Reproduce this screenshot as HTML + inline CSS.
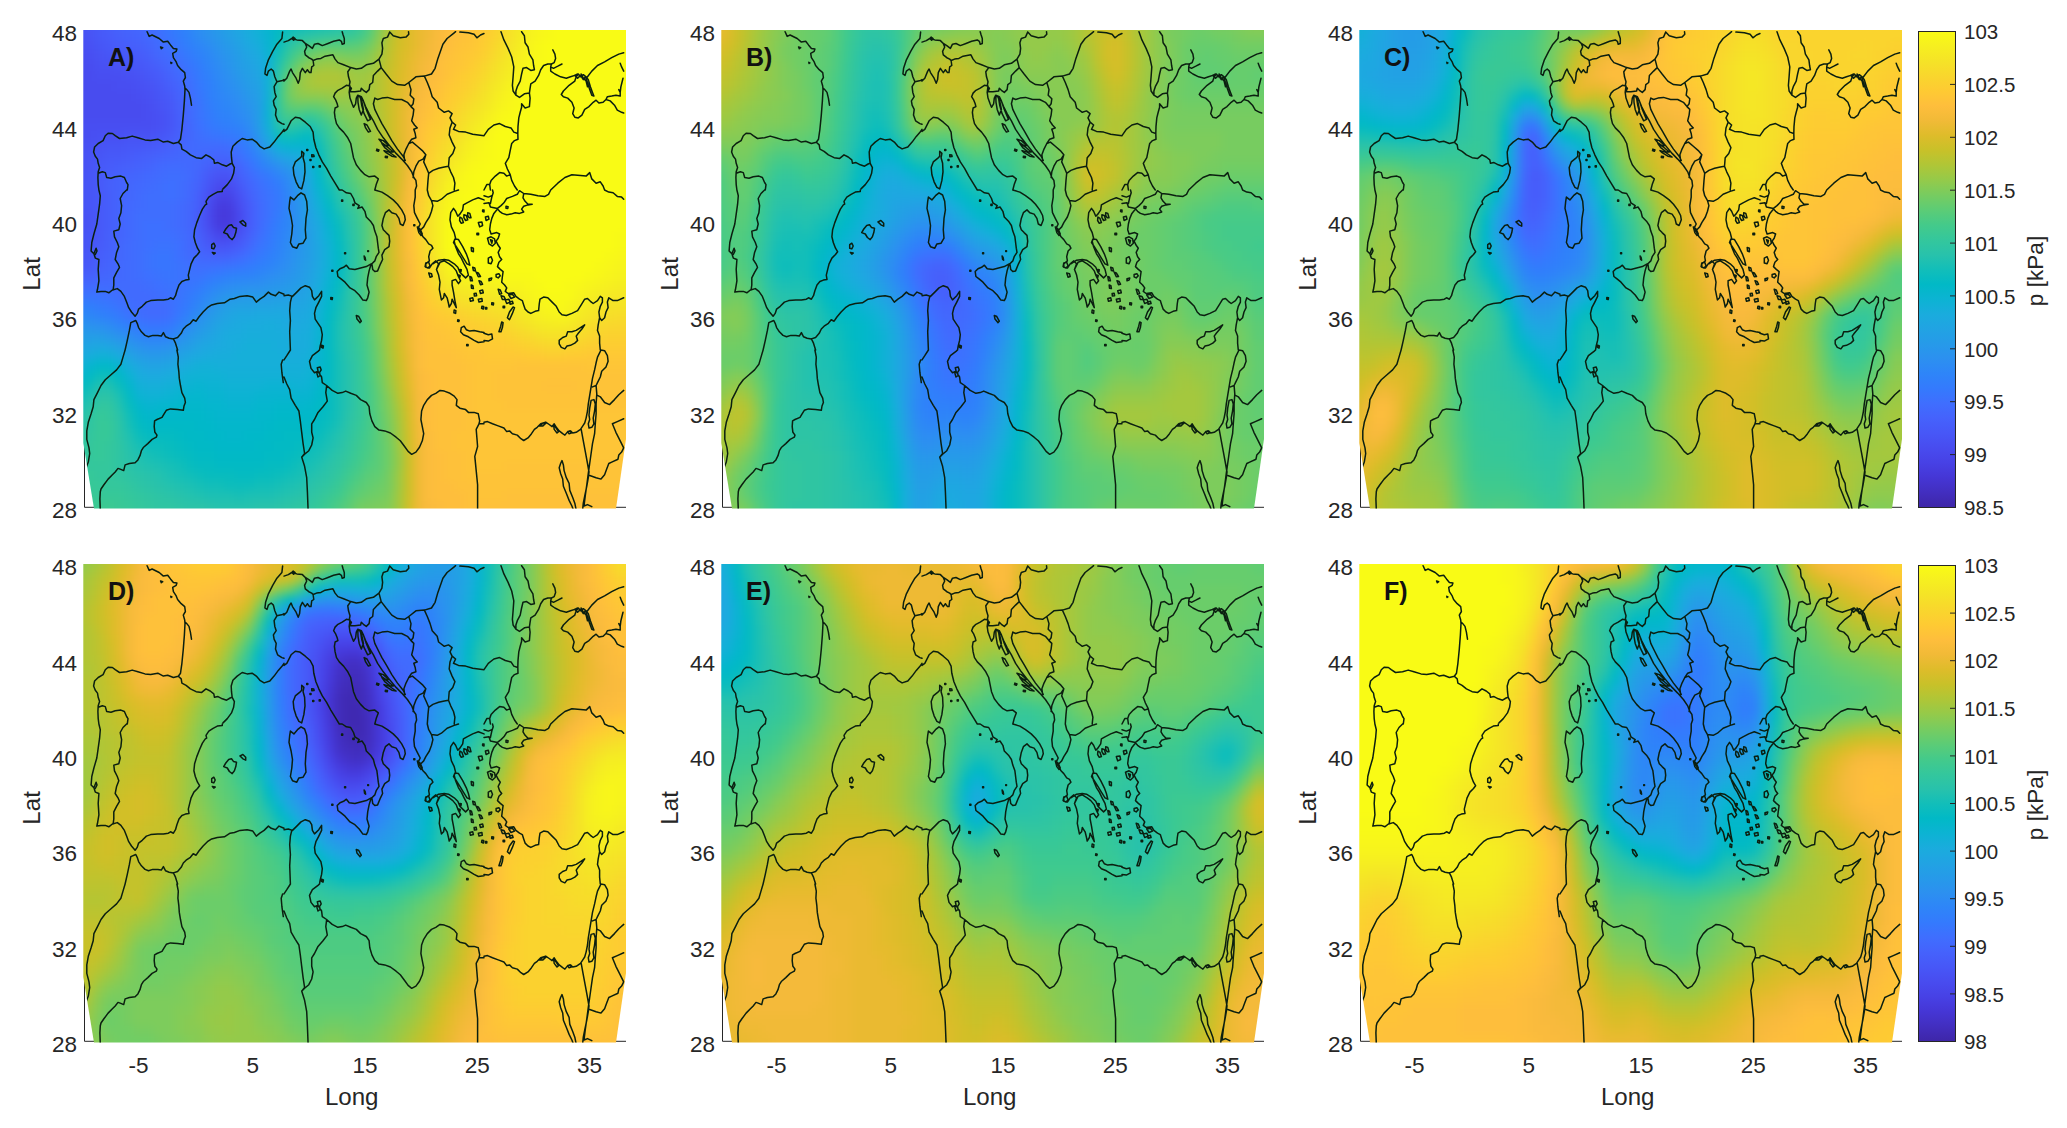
<!DOCTYPE html><html><head><meta charset="utf-8"><title>Pressure maps</title>
<style>html,body{margin:0;padding:0;background:#fff}body{width:2067px;height:1128px;overflow:hidden}svg{display:block}text{font-family:"Liberation Sans",Arial,sans-serif;fill:#262626}.t{font-size:22.5px}.a{font-size:24.1px}.c{font-size:20.5px}.ca{font-size:22.6px}.l{font-size:25px;font-weight:bold;fill:#111}</style></head><body>
<svg width="2067" height="1128" viewBox="0 0 2067 1128">
<defs>
<filter id="bl" filterUnits="userSpaceOnUse" x="-3" y="-3" width="62" height="56" color-interpolation-filters="sRGB"><feGaussianBlur stdDeviation="0.45"/></filter>
<clipPath id="cp"><path d="M-0.7,-1H542V408L532,477.6H10L-0.7,412Z"/></clipPath>
<linearGradient id="cb" x1="0" y1="0" x2="0" y2="1"><stop offset="0.0000" stop-color="#f9fb15"/><stop offset="0.0312" stop-color="#f6ef20"/><stop offset="0.0625" stop-color="#f5e327"/><stop offset="0.0938" stop-color="#f9d62d"/><stop offset="0.1250" stop-color="#feca33"/><stop offset="0.1562" stop-color="#febe3c"/><stop offset="0.1875" stop-color="#f1ba37"/><stop offset="0.2188" stop-color="#debc2a"/><stop offset="0.2500" stop-color="#c8c129"/><stop offset="0.2812" stop-color="#afc637"/><stop offset="0.3125" stop-color="#94ca4a"/><stop offset="0.3438" stop-color="#77cc60"/><stop offset="0.3750" stop-color="#5ccc76"/><stop offset="0.4062" stop-color="#44ca8a"/><stop offset="0.4375" stop-color="#34c79c"/><stop offset="0.4688" stop-color="#28c2ab"/><stop offset="0.5000" stop-color="#12beb9"/><stop offset="0.5312" stop-color="#01b9c6"/><stop offset="0.5625" stop-color="#0cb3d3"/><stop offset="0.5938" stop-color="#1aacdd"/><stop offset="0.6250" stop-color="#21a3e3"/><stop offset="0.6562" stop-color="#269ae9"/><stop offset="0.6875" stop-color="#2c90f0"/><stop offset="0.7188" stop-color="#2e85f8"/><stop offset="0.7500" stop-color="#347afd"/><stop offset="0.7812" stop-color="#3f6efe"/><stop offset="0.8125" stop-color="#4562fc"/><stop offset="0.8438" stop-color="#4757f7"/><stop offset="0.8750" stop-color="#484cef"/><stop offset="0.9062" stop-color="#4741e5"/><stop offset="0.9375" stop-color="#4536d5"/><stop offset="0.9688" stop-color="#422ebf"/><stop offset="1.0000" stop-color="#3e26a8"/></linearGradient>
<g id="coast" fill="none" stroke="#0b1f10" stroke-width="1.5" stroke-linejoin="round" stroke-linecap="round"><path d="M63.1,0.7 65.2,5.4 68.1,4.0 75.2,7.5 79.4,11.1 83.7,10.3 86.5,13.9 89.4,17.4 92.9,18.1 92.2,20.3 88.7,22.4 89.4,26.7 92.2,30.9 93.6,34.5 97.2,38.7 100.7,41.6 101.4,46.5 99.3,50.1 100.7,55.0 101.0,58.6 100.4,69.9 99.3,84.1 97.9,98.3 96.5,108.2 94.3,111.3M101.0,57.2 102.8,58.6 105.0,61.4 106.4,67.1 107.5,74.2M76.6,16.0 78.7,16.7 77.3,17.7ZM86.8,31.3 87.9,31.9 87.1,32.5ZM94.3,111.3 89.4,112.5 83.7,110.3 79.4,111.1 73.8,108.2 66.7,109.6 61.0,108.9 53.9,106.8 48.2,105.1 42.6,106.8 35.5,107.5 31.2,104.7 28.4,102.5 24.1,102.3 21.3,104.7 19.1,109.6 14.2,112.5 10.6,116.0 9.6,121.0 11.3,125.2 13.5,128.1 14.2,132.3 15.6,136.6 14.2,140.8 13.9,146.5 14.2,153.6 14.9,159.0M14.2,142.3 18.4,140.8 21.3,141.6 22.7,146.5 27.0,147.2 31.2,145.8 36.9,145.1 40.4,146.5 42.6,151.5 44.0,153.6 43.3,159.0M94.3,111.3 97.2,113.9 97.9,118.1 102.1,120.3 106.4,123.8 112.1,126.7 117.7,127.4 122.0,123.8 126.2,126.0 129.8,128.8 130.5,132.3 134.0,131.6 138.3,133.8 142.6,135.2 146.1,133.0 148.2,132.3M139.0,157.9 143.3,153.6 147.5,147.9 149.6,142.3 150.4,136.6 148.2,132.3 147.5,126.7 147.2,121.0 148.9,115.3 153.2,111.1 158.2,107.5 163.1,108.9 168.1,108.2 172.3,111.1 175.9,115.3 180.1,117.9 185.8,116.0 190.1,111.1 194.3,105.4 198.6,100.4 200.0,98.3M198.6,1.1 197.9,7.5 192.9,13.2 188.7,20.3 184.4,28.8 181.6,37.3 180.9,43.0 183.0,44.4 184.4,40.1 187.2,38.0 189.4,40.1 190.8,45.8 192.9,50.8 198.6,49.4 200.0,48.6M192.9,50.8 190.1,55.7 190.8,61.4 192.2,65.7 189.4,69.9 190.1,74.2 192.2,78.4 191.5,84.1 193.6,89.8 197.9,92.6 200.0,93.3M200.0,11.1 204.3,9.6 207.8,7.5 212.8,8.9 218.4,9.6 221.3,12.5 224.8,14.6 228.4,17.4 230.5,13.2 234.0,12.5 238.3,14.6 244.0,12.5 249.6,10.3 255.3,8.9 257.4,10.3 258.2,13.2 260.3,12.5 260.3,7.5 258.9,3.3 258.2,0.7M207.8,7.5 209.2,6.1 211.1,7.5 209.6,9.2ZM221.3,12.5 222.7,16.0 220.6,20.3 221.3,23.8 224.8,26.7 227.7,28.1 229.1,29.5M200.0,50.1 202.8,47.2 205.7,40.1 207.1,38.0 208.5,41.6 212.1,47.2 214.2,52.2 215.6,48.6 216.3,41.6 218.4,37.3 221.3,41.6 223.4,38.7 225.5,41.6 227.0,41.6 227.7,35.9 229.8,34.5 229.1,29.5M229.1,29.5 232.6,28.1 236.9,27.4 241.1,25.2 248.9,23.8 251.1,28.1 253.9,31.6 259.6,33.8 266.7,36.6 272.3,38.0 277.3,37.3 282.3,33.8 289.4,32.3 295.0,28.1M295.0,28.1 297.9,23.1 298.6,17.4 297.9,11.8 299.3,7.5 303.5,6.1 305.7,1.1M305.7,1.1 309.2,4.7 316.3,6.8 322.0,6.1 324.8,3.3 324.5,0.7M266.7,36.6 263.8,40.8 264.5,45.8 266.0,50.8 265.2,55.0 267.4,57.2M266.0,55.0 262.4,54.3 258.2,57.2 253.9,59.3 251.1,62.1 249.6,65.7 251.8,69.2 253.2,72.8 253.9,75.6 251.1,77.0 250.4,81.3 251.1,86.9 252.5,92.6 255.3,96.9 259.6,101.1 263.8,106.8 266.7,112.5 268.1,119.6 269.5,126.7 272.3,133.8 276.6,139.4 280.9,143.7 285.1,145.8 290.8,145.1 294.3,147.9 292.2,153.6 290.8,159.0M267.4,57.2 266.0,60.7 270.9,60.7 276.6,60.0 277.3,57.2 279.4,59.3 282.3,61.4 285.1,58.6 285.8,53.6 288.7,51.5 289.4,44.4 293.6,40.1 297.2,36.6 295.0,28.1M297.2,36.6 302.1,43.0 307.8,50.1 313.5,53.6 320.6,54.3 324.8,51.5 331.9,45.8 340.4,45.1 347.5,43.0 351.1,37.3 353.9,27.4 358.9,13.2 363.1,7.5 370.2,1.8 371.6,0.7M266.0,55.0 265.2,61.4 266.0,67.1 268.1,72.8 269.5,76.3 271.6,72.8 272.3,67.1 273.8,64.2 277.3,65.7 279.4,69.9 281.6,75.6 285.1,82.7 289.4,89.8 293.6,98.3 299.3,106.8 305.0,113.9 312.1,122.4 317.7,128.1 323.4,134.5 327.7,140.8 329.8,146.5 331.9,149.4 332.6,155.0 331.2,159.0M273.8,65.0 275.9,65.7 278.0,71.3 279.4,78.4 277.3,84.1 275.2,78.4 274.0,71.3ZM276.6,67.1 279.4,69.9 282.3,78.4 286.5,88.4 283.7,89.8 280.1,82.7 277.7,74.2ZM280.1,92.6 283.0,94.0 286.5,100.4 284.4,101.1 281.6,96.9ZM295.0,108.2 299.3,109.6 305.0,114.6 302.1,114.6 297.9,111.8ZM297.9,112.5 303.5,116.0 309.2,121.0 306.4,121.0 300.7,116.7ZM300.0,119.6 305.0,121.0 312.1,126.0 307.8,125.2 302.1,121.7ZM292.9,118.1 295.0,118.9 294.3,120.3 292.5,119.6ZM301.4,125.2 303.5,125.5 303.3,126.7 301.3,126.4ZM290.8,67.1 293.6,68.5 297.9,67.1 303.5,66.4 310.6,68.5 317.7,68.5 323.4,71.3 327.0,75.6 329.1,72.8M290.8,67.1 289.4,72.8 290.8,78.4 294.3,85.5 297.9,92.6 302.1,99.7 307.8,109.6 313.5,118.1 319.1,125.2 321.3,129.5M327.0,75.6 329.8,78.4 329.1,84.1 327.7,89.8 330.5,94.0 333.3,96.9 329.8,98.3 331.2,102.5 331.9,106.8 327.7,108.2 324.8,112.5 322.0,118.1 319.9,123.8 320.6,129.5M324.8,51.5 327.0,58.6 326.2,64.2 329.8,67.8 329.1,72.8M340.4,45.1 343.3,51.5 346.1,58.6 348.2,65.7 353.2,71.3 354.6,77.0 360.3,81.3 364.5,79.9 368.1,82.7 366.0,86.9 368.1,91.2 371.6,94.0 369.5,98.3 374.5,100.4 381.6,101.1 388.7,103.3 400.0,104.7M368.1,91.2 366.0,96.9 365.2,104.0 368.1,111.1 370.9,116.7 368.8,122.4 365.2,126.7 364.5,135.2 366.7,140.8 369.5,146.5 370.9,152.2 370.2,159.0M324.8,112.5 328.4,111.1 333.3,115.3 338.3,119.6 341.8,123.8 339.0,128.1 334.8,130.2 331.9,135.2 329.8,140.8 329.1,146.5M341.8,123.8 339.7,130.9 342.6,137.3 344.7,142.3 348.9,139.4 354.6,137.3 360.3,135.9 364.5,135.2M344.7,142.3 344.0,149.4 343.3,159.0M200.0,100.4 202.8,98.3 207.1,89.8 211.3,86.2 215.6,86.9 221.3,91.2 226.2,95.5 229.1,101.1 229.8,108.2 231.9,116.7 234.8,123.8 238.3,130.9 242.6,137.3 246.8,145.1 251.1,152.2 255.3,159.0M217.7,120.3 219.9,122.4 219.1,126.7 220.6,132.3 221.0,140.8 219.9,149.4 217.7,157.9 214.9,156.4 212.1,150.8 209.9,143.7 209.2,136.6 211.3,130.9 215.6,127.4 217.7,125.2ZM227.7,123.8 229.8,124.1 230.1,125.5 227.8,125.7ZM222.7,118.4 223.8,118.4 223.8,119.6 222.7,119.6ZM226.0,128.4 227.0,128.4 227.0,129.5 226.0,129.5ZM228.7,135.5 229.8,135.5 229.8,136.6 228.7,136.6ZM235.2,134.7 236.3,134.7 236.3,135.9 235.2,135.9ZM375.9,1.1 384.4,1.8 390.1,3.3 392.9,6.8 396.5,4.0 400.0,2.5M417.0,0.7 419.9,8.9 424.1,17.4 427.7,26.0 429.8,35.9 429.1,45.8 428.4,54.3 429.1,60.0 431.9,64.2 435.5,66.4 440.4,62.8 445.4,62.1M437.6,0.7 440.4,4.7 441.1,11.8 444.0,16.0 445.4,23.1 448.9,28.8 449.6,34.5 450.4,38.7 446.8,39.4 442.6,36.6 439.0,37.3 437.6,43.0 436.2,50.1 433.3,55.7 431.9,60.0 431.9,64.2M445.4,62.1 446.1,57.2 446.8,52.9 451.1,50.1 454.6,44.4 456.7,38.7 459.6,34.5 463.8,33.0 467.4,33.0 466.7,35.9 469.5,37.3 473.8,35.2 478.0,33.0M468.8,18.9 470.9,23.1 471.6,27.4 470.2,31.6 467.4,33.0M466.7,35.9 466.7,40.1 470.9,43.0 476.6,45.8 482.3,47.2 486.5,45.8 490.8,44.4 493.6,43.0M490.8,50.1 485.1,54.3 479.4,60.0 477.3,63.5 479.4,65.7 483.7,67.1 487.9,71.3 490.1,77.0 488.7,82.7 490.8,86.2 494.3,86.9 497.9,84.1 500.7,78.4 505.0,75.6 509.2,71.3 512.1,69.2 514.9,72.0 519.1,71.3 522.0,68.5 523.4,65.7 527.7,65.0 531.9,64.2 536.2,65.0 536.2,61.4 534.8,58.6M490.8,44.4 493.6,47.2 496.5,44.4 499.3,48.6 501.4,45.8 503.5,51.5 505.7,58.6 507.8,64.2 509.9,65.0 508.5,61.4 506.4,55.7 504.3,48.6 502.1,45.8 499.3,43.7 496.5,45.8 494.3,43.0 492.2,45.8 490.8,50.1M497.2,43.0 499.3,47.2 502.1,50.1 503.5,55.7M503.5,45.8 507.8,40.1 513.5,34.5 520.6,30.9 527.7,26.7 534.8,23.1 539.7,21.7M536.2,32.3 537.6,35.9 539.7,40.1M539.0,47.2 536.9,55.7 536.2,61.4M522.0,68.5 526.2,69.9 530.5,74.2 533.3,79.1 537.6,81.3 539.7,82.0M445.4,62.1 446.1,67.1 445.4,75.6 441.1,77.0 437.6,72.8 437.6,76.3 436.2,81.3 434.8,86.9 434.0,95.5 433.8,102.5 434.0,108.2 430.5,109.6 427.7,112.5 426.2,119.6 424.8,126.7 421.3,132.3 423.4,138.0 426.2,143.7 427.7,149.4 430.5,155.0 433.3,159.0M400.0,104.7 404.3,98.3 409.9,94.0 415.6,92.6 421.3,95.5 427.0,96.9 429.8,101.1 433.8,102.5M426.2,143.7 422.7,145.1 419.9,142.3 415.6,141.6 411.3,145.1 407.1,149.4 405.7,153.6 406.4,159.0M400.0,159.0 402.8,153.6 405.7,153.6M466.7,159.0 473.8,152.2 480.9,146.5 487.9,143.7 496.5,144.4 502.1,145.1 505.7,141.6 507.8,147.9 512.1,152.2 516.3,150.8 519.1,155.0 520.6,159.0M14.9,159.0 16.3,164.7 15.6,173.2 14.2,183.1 12.8,193.0 9.9,203.0 7.8,211.5 7.1,220.0 9.9,222.8 11.3,227.1 14.9,228.5 14.2,238.4 14.9,249.8 13.5,258.3 12.8,261.1 17.0,260.4 21.3,260.4 24.8,261.8 28.4,259.0M9.9,222.8 12.1,217.2 13.0,220.0 11.3,223.5M42.6,159.0 39.0,162.5 36.2,167.5 37.6,174.6 36.9,181.7 34.8,187.4 36.2,193.0 34.8,198.7 29.8,200.1 30.5,205.8 33.3,211.5 34.8,215.7 32.6,221.4 31.2,228.5 34.0,232.8 35.5,236.3 32.6,241.3 29.8,246.9 29.8,254.0 29.1,259.0M28.4,259.0 33.3,257.6 36.9,260.4 40.4,265.4 42.6,271.1 44.7,276.7 47.5,281.0 51.1,285.2 53.2,282.4 54.6,278.1 58.2,275.3 62.4,271.1 66.7,269.6 73.8,268.9 79.4,268.9 84.4,268.2 86.5,266.8 89.4,268.2 91.5,264.7 92.9,259.7 95.0,254.0 97.9,250.5 101.4,249.1 105.0,248.4 104.3,244.1 105.7,238.4 107.1,232.8 109.9,227.1 113.5,223.5 115.6,220.7 113.5,217.2 111.3,211.5 109.9,205.8 110.6,198.7 112.8,191.6 115.6,184.5 118.4,178.1 121.3,173.9 122.7,173.2 122.0,170.3 124.8,166.1 129.1,163.3 133.3,161.1 138.3,160.4 138.3,159.0M41.1,319.0 43.3,309.4 45.4,299.4 46.8,291.6 51.8,289.5 53.2,292.3 54.6,296.6 57.4,300.8 61.0,304.4 64.5,305.8 68.8,304.4 73.8,304.4 77.3,305.1 79.4,301.6 81.6,305.8 85.1,307.2 89.4,307.9 93.6,306.5 97.2,302.3 99.3,298.0 102.1,295.2 106.4,292.3 109.2,288.8 112.1,290.2 114.9,286.0 119.1,281.0 123.4,276.7 127.7,273.9 133.3,272.5 140.4,271.8 146.1,268.2 150.4,267.5 156.0,265.4 163.1,264.7 168.8,266.1 172.3,271.1 175.9,268.2 180.1,265.4 184.4,261.1 187.2,263.3 191.5,264.7 195.0,261.1 200.0,263.3M89.4,307.9 91.5,312.2 93.6,319.0M141.8,198.0 144.7,194.5 147.5,193.8 149.6,196.6 152.5,197.3 151.8,201.6 150.4,205.8 148.2,208.6 145.4,206.5 143.3,203.0 139.7,201.6ZM156.0,190.9 158.9,189.5 161.7,192.3 161.7,195.2 158.9,193.8ZM127.7,213.6 129.8,212.2 131.2,215.0 129.8,217.9 127.7,217.2ZM128.4,221.4 131.2,222.1 129.8,223.1ZM217.0,161.8 220.6,164.0 222.7,170.3 223.4,178.9 222.0,187.4 221.3,198.7 222.0,207.2 219.1,212.2 214.9,212.9 212.8,217.2 208.5,215.7 206.4,211.5 207.8,203.0 208.5,194.5 207.1,186.0 205.0,177.4 205.7,170.3 206.4,166.1 209.9,168.9 213.5,164.7ZM255.3,159.0 258.2,159.0 262.4,161.8 266.7,162.5 269.5,167.5 270.9,171.8 275.2,174.6 273.8,177.4 278.0,176.0 280.9,180.3 282.3,186.0 286.5,190.2 289.4,194.5 290.8,200.1 292.9,205.8 293.6,211.5 294.3,217.2 295.0,221.4 292.2,225.7 290.8,229.9 287.9,232.8 288.7,238.4 290.8,240.6 293.6,239.9 296.5,232.8 298.6,228.5 297.9,224.2 300.7,218.6 305.0,215.7 305.7,210.1 305.0,204.4 302.1,201.6 299.3,198.7 297.9,194.5 299.3,187.4 301.4,181.7 305.0,178.9 307.8,181.7 312.1,183.1 314.9,187.4 316.3,193.0 319.1,194.5 321.3,188.8 320.6,184.5 317.7,178.9 313.5,173.2 309.2,168.9 303.5,164.7 297.9,161.1 290.8,159.0M253.2,240.6 256.0,237.7 259.6,236.3 262.4,234.2 265.2,237.7 270.9,238.4 276.6,237.0 282.3,235.6 287.2,232.8 285.1,239.9 283.7,246.9 283.0,254.0 285.1,261.1 283.7,266.8 282.3,269.6 278.7,268.9 275.2,264.0 270.9,259.7 266.0,256.9 261.0,251.2 256.7,247.7 253.9,245.5ZM257.6,169.1 258.7,169.1 258.7,170.2 257.6,170.2ZM268.9,173.3 270.1,173.3 270.1,174.5 268.9,174.5ZM260.6,221.7 261.6,221.7 261.6,222.7 260.6,222.7ZM280.1,225.0 281.1,226.4 281.6,229.2 280.6,228.5ZM246.8,266.5 248.5,266.8 248.2,268.5 246.8,268.2ZM272.3,284.5 274.5,285.2 277.3,290.2 275.9,291.6 273.0,288.1ZM247.8,239.3 248.9,239.3 248.9,240.3 247.8,240.3ZM283.7,219.7 284.5,219.7 284.5,220.6 283.7,220.6ZM200.0,264.7 204.3,264.0 208.5,265.4 212.8,261.1 217.0,256.9 221.3,254.7 225.5,256.2 227.7,259.7 228.4,265.4 230.5,268.9 234.8,264.7 237.6,260.4 237.6,265.4 234.8,271.1 231.9,276.7 230.5,282.4 231.2,288.1 234.0,292.3 236.9,296.6 238.3,303.7 237.6,309.4 236.2,315.0 235.5,319.0M237.6,314.3 239.4,315.0 239.0,317.2 237.6,316.4ZM207.8,265.4 206.4,271.1 205.7,279.6 206.4,289.5 205.7,300.8 206.4,319.0M331.2,159.0 331.2,166.1 329.8,174.6 330.5,181.7 333.3,187.4 336.2,193.0 334.0,197.3 336.9,201.6 339.0,205.8 341.8,208.6 344.7,212.9 347.5,214.3 348.9,217.2 346.1,220.0 344.7,225.7 345.4,229.9 341.8,232.8 341.8,236.3 345.4,237.0 348.2,232.8 351.8,229.9 354.6,232.8 352.5,238.4M352.5,238.4 354.6,244.1 356.0,251.2 355.3,258.3 356.7,265.4 357.4,268.9 359.6,266.8 360.3,262.5 363.1,266.8 364.5,272.5 365.2,276.0 367.4,272.5 368.1,268.2 370.2,272.5 372.3,276.7 370.9,269.6 369.5,261.1 368.1,254.0 368.1,249.8 371.6,248.4 374.5,252.6 376.6,249.8 373.8,244.1 372.3,239.9 368.8,235.6 365.2,232.8 360.3,229.9 356.0,231.3 352.5,238.4M348.9,232.8 354.6,229.2 360.3,228.5 364.5,229.2 370.2,232.8 373.8,236.3 375.9,241.3 378.7,244.1 381.6,246.9 384.4,244.1 383.0,238.4 380.1,232.8 377.3,227.1 374.5,222.8 371.6,215.7 370.2,210.1 371.6,207.2 370.2,201.6 367.4,195.9 366.0,188.8 366.7,181.7 369.5,177.4 371.6,180.3 373.8,185.2 375.9,183.1 378.7,178.9 379.4,173.9 383.0,171.8 388.7,168.9 394.3,166.8 400.0,168.9M375.9,186.0 378.0,187.4 379.4,191.6 377.3,192.3 375.6,189.5ZM379.9,183.8 382.3,184.5 383.7,188.8 381.6,189.5 379.9,186.7ZM383.7,181.7 385.8,182.4 387.0,186.7 385.1,186.7 383.7,184.5ZM370.9,207.9 374.5,208.6 378.7,215.7 382.3,222.8 384.4,228.5 385.8,234.2 383.0,232.8 379.4,227.1 375.9,221.4 372.3,215.7 369.5,211.5ZM343.3,159.0 344.7,164.7 347.5,169.6 348.9,174.6 347.5,180.3 345.4,186.0 341.8,191.6 339.7,195.9 336.9,198.7M347.5,169.6 353.2,170.3 357.4,168.2 363.1,163.3 370.2,160.4 374.5,159.0M333.3,195.9 336.2,198.0 338.3,203.0 336.9,204.4 334.8,201.6ZM341.8,232.0 344.7,231.3 346.1,234.9 344.0,237.0 341.1,235.6ZM344.7,242.0 347.5,242.7 348.2,245.5 346.1,246.2ZM329.8,193.8 330.8,193.8 330.8,194.7 329.8,194.7ZM377.3,296.6 380.1,295.2 382.3,298.7 385.8,300.1 390.1,299.4 395.7,300.8 400.0,301.6M377.3,296.6 376.6,300.8 379.4,303.7 384.4,305.8 390.1,309.4 394.3,311.5 400.0,310.8M370.2,278.9 371.9,279.6 371.6,282.4 369.9,281.7ZM373.8,288.8 375.2,289.2 374.8,290.6 373.6,290.2ZM382.7,313.6 384.1,313.6 384.1,314.7 382.7,314.7ZM394.3,191.6 397.9,190.9 398.6,194.5 395.7,195.9ZM392.9,202.3 394.6,202.3 394.6,203.7 392.9,203.7ZM387.2,216.4 389.4,217.2 389.4,220.7 387.5,220.0ZM398.6,178.9 400.0,179.1 400.0,181.0 398.6,180.6ZM388.7,236.3 390.8,237.0 391.5,239.9 389.4,239.6ZM392.2,241.3 394.3,242.0 396.5,245.5 394.3,245.8ZM395.0,249.8 397.2,250.5 398.6,253.3 396.5,253.8ZM385.8,245.5 387.5,246.2 388.4,249.8 386.5,249.8ZM387.2,254.0 388.9,254.7 389.4,257.6 387.5,257.3ZM390.1,262.5 392.2,262.3 392.6,264.7 390.4,265.1ZM395.7,259.7 398.6,259.0 399.3,261.8 396.5,262.5ZM385.8,267.5 388.7,266.8 389.4,269.6 386.5,270.3ZM394.3,268.2 397.9,267.5 398.3,270.3 395.0,271.1ZM397.9,275.3 399.7,275.6 399.3,278.1 397.6,277.4ZM375.9,238.4 377.3,238.7 377.0,240.6 375.9,240.3ZM374.5,244.1 376.2,244.5 375.9,246.2 374.5,245.8ZM520.6,159.0 524.8,161.1 529.1,161.8 533.3,165.4 537.6,166.1 539.7,168.2M466.7,159.0 464.5,163.3 461.0,165.4 453.9,164.7 446.8,163.3 439.7,162.5 435.5,159.7M439.7,162.5 439.0,166.8 441.1,170.3 444.0,173.2 448.2,173.2 444.0,173.9 439.7,175.3 437.6,178.1 439.7,181.0 435.5,182.4 431.2,181.7 427.0,183.1 422.7,183.8 418.4,182.4 415.6,180.3 413.5,178.1 409.9,182.4 407.8,187.4 406.4,193.0 405.7,198.7 407.1,203.0 412.8,201.6 415.6,203.0 414.2,207.2 412.1,210.1 414.2,214.3 416.3,217.2 414.2,221.4 415.6,225.7 417.7,228.5 414.9,231.3 413.5,235.6 416.3,238.4 419.1,240.6 418.4,245.5 417.7,251.2 420.6,254.0 422.7,256.9 421.3,260.4 424.1,262.5 429.8,261.8 431.9,265.4 435.5,268.2 438.3,269.6 439.7,273.9 441.1,278.1 444.0,281.0 446.8,282.4 451.1,280.3 454.6,279.6 455.3,272.5 456.0,268.2 459.6,266.1 463.8,266.8 468.1,271.1 472.3,275.3 475.2,281.0 478.0,283.8 482.3,284.5 487.9,282.4 493.6,279.6 497.2,273.9 500.7,268.2 503.5,267.5 506.4,270.3 509.2,272.5 513.5,269.6 516.3,265.4 518.4,266.8 518.4,271.1 516.3,275.3 514.9,281.0 515.6,286.7 514.2,293.8 513.5,299.4 515.6,305.1 515.6,312.2 516.3,319.0M515.6,286.7 517.7,289.5 520.6,286.7 522.0,281.0 524.1,276.7 523.4,271.1 524.8,266.8 529.1,269.6 533.3,269.6 539.7,266.8M435.5,159.7 433.3,163.3 428.4,165.4 422.7,167.5 419.9,171.8 417.0,174.6 413.5,177.4M400.0,172.5 405.0,171.8 406.4,176.0 409.9,176.7 413.5,177.4M406.4,172.5 407.8,166.1 409.2,161.8 408.5,159.0M400.0,164.7 404.3,166.1 407.8,164.7M475.2,309.4 478.7,306.5 482.3,305.1 483.7,300.8 487.9,300.8 492.2,299.4 496.5,296.6 500.7,293.8 497.9,298.0 494.3,302.3 492.2,305.1 493.6,309.4 490.8,312.2 486.5,314.3 483.0,315.0 480.9,317.9 477.3,316.4 475.2,312.9ZM403.5,207.2 407.1,205.8 410.6,207.9 411.3,212.2 408.5,215.0 405.0,212.9ZM406.4,208.6 408.5,209.4 407.8,212.2ZM404.3,227.1 407.1,225.7 408.5,229.2 407.1,232.8 404.3,232.0ZM412.1,243.4 414.9,242.7 416.3,244.8 414.2,246.9 412.1,245.8ZM405.0,247.7 407.8,246.9 407.1,249.1 405.0,249.8ZM429.1,276.0 430.5,276.7 428.4,282.4 425.5,288.8 423.4,286.7 425.5,281.0ZM417.7,290.9 419.1,291.6 418.4,296.6 417.0,300.8 414.9,300.8 416.7,295.2ZM400.0,302.3 404.3,303.7 407.8,303.0 408.5,307.9 404.3,310.1 400.0,309.4M401.4,186.0 404.3,185.2 405.0,188.1 402.1,189.5ZM422.0,175.3 424.1,175.7 423.8,177.4 422.0,177.2ZM407.8,271.8 409.6,272.0 409.4,273.9 407.7,273.6ZM401.4,276.4 402.8,276.4 402.8,277.9 401.4,277.9ZM419.1,275.3 420.6,275.3 420.6,276.7 419.1,276.7ZM414.2,258.3 416.3,259.0 417.7,262.5 415.6,263.3ZM417.0,264.7 419.9,265.4 421.3,268.2 418.4,268.5ZM421.3,268.9 424.8,268.2 426.2,271.1 422.7,272.5ZM424.8,264.0 428.4,263.3 430.5,266.1 427.0,267.5ZM425.5,271.1 428.4,270.3 429.1,272.5 426.2,273.2ZM41.1,319.0 39.0,326.1 36.9,333.2 32.6,338.9 27.0,343.8 21.3,348.8 17.0,354.5 13.5,361.6 9.9,368.6 9.2,375.7 7.1,382.8 4.3,391.3 2.8,399.9 2.8,408.4 5.0,416.9 5.7,422.5 4.3,431.1 2.1,436.7 0.7,439.6M92.9,319.0 94.3,326.1 93.9,333.2 94.8,340.3 95.3,347.4 96.5,354.5 97.9,361.6 100.7,367.2 101.4,371.5 100.0,375.0 99.3,379.3 93.6,378.6 86.5,377.9 82.3,379.3 80.1,382.8 78.0,386.4 73.0,388.5 70.6,389.9 70.2,395.6 70.9,401.3 73.0,404.1 72.3,406.2 68.1,408.4 63.8,412.6 59.6,416.2 57.4,419.7 56.0,424.7 53.9,428.9 51.1,431.8 45.4,432.5 41.1,433.9 39.7,439.6 36.2,438.1 34.0,437.4 31.2,441.0 28.4,443.8 24.1,448.1 19.9,453.8 17.0,458.0 16.3,460.8 15.9,467.9 16.3,479.0M198.6,328.9 197.2,333.2 197.9,341.7 199.3,351.6M206.4,319.0 202.8,324.7 200.0,328.9M200.0,346.0 202.8,353.0 205.7,358.7 207.1,367.2 211.3,374.3 214.9,380.0 216.3,389.9 217.7,401.3 219.1,412.6 220.6,422.5 217.7,426.1 220.6,435.3 222.7,446.7 223.4,460.8 224.1,479.0M235.5,319.0 234.0,320.4 228.4,324.7 225.5,330.3 227.0,337.4 230.5,341.7 234.0,340.3 237.6,346.0 238.3,351.6 242.6,354.5M233.3,336.7 236.2,336.0 237.2,338.9 235.5,341.7 236.2,344.5 234.0,346.0 232.9,342.4 234.0,339.6ZM242.6,355.2 241.8,361.6 243.3,370.1 239.0,375.7 234.0,381.4 230.5,388.5 227.7,392.8 227.7,401.3 229.1,406.9 227.7,414.0 224.8,419.7 220.6,423.3 217.7,426.1M242.6,354.5 248.2,359.4 253.9,362.3 258.2,361.6 261.7,360.1 266.7,362.3 272.3,364.4 276.6,368.6 282.3,371.5 285.1,375.7 285.8,382.8 287.9,389.9 290.8,395.6 295.0,399.1 300.7,399.9 306.4,402.0 312.1,406.2 316.3,409.8 320.6,415.5 324.1,420.4 327.7,423.3 331.9,421.1 335.5,416.2 338.3,409.8 339.7,402.7 338.3,395.6 336.9,388.5 337.6,380.0 339.7,374.3 343.3,368.6 347.5,364.4 351.8,362.3 356.0,359.4 360.3,360.1 366.0,362.3 370.2,365.1 373.0,368.6 372.3,374.3 375.9,377.2 381.6,378.6 384.4,381.4 390.1,381.4 394.3,382.8 395.7,389.9 395.0,392.8 400.0,392.8M395.0,392.8 392.2,398.4 392.9,406.9 393.6,415.5 390.8,425.4 392.2,439.6 393.6,453.8 393.6,479.0M400.0,391.3 403.5,390.6 408.5,392.8 414.2,394.9 419.9,397.0 422.7,400.6 425.5,399.9 428.4,402.7 433.3,404.1 436.9,407.7 439.7,409.5 444.0,406.9 447.5,402.7 450.4,398.4 453.2,396.3 456.7,392.8 461.7,391.1 465.2,393.5 468.1,395.6 470.2,392.8 472.3,396.3 475.2,399.9 478.7,402.7 480.9,404.1 483.7,400.6 486.5,399.9 488.7,402.0 492.2,401.3 496.5,398.4 499.3,394.2 500.7,392.0 502.1,387.1 503.5,380.0 504.3,372.9 505.7,364.4 507.1,355.9 508.5,347.4 510.6,338.9 512.1,331.8 513.5,326.1 515.6,321.8 517.0,319.0M455.3,394.9 459.6,392.0 462.4,391.6 458.9,394.9ZM469.5,393.5 471.6,396.3 474.5,400.6 473.0,402.0 470.2,398.4ZM483.7,401.0 485.8,399.9 487.9,401.7 485.1,402.7ZM517.0,319.0 520.6,319.7 523.4,324.7 524.1,330.3 522.0,336.0 517.7,340.3 516.3,346.0 513.5,351.6 512.1,354.5 508.5,355.9M512.1,354.5 512.8,363.0 512.1,372.9 512.1,382.8 511.3,392.8 510.6,402.7 508.5,412.6 507.1,422.5 505.7,432.5 504.3,442.4 502.8,453.8 501.4,463.7 500.0,475.0M507.1,369.4 509.9,368.6 511.3,372.9 510.6,380.0 509.2,387.1 509.9,392.8 507.8,396.3 505.0,397.0 504.3,392.8 505.7,388.5 505.0,384.2 505.7,377.2ZM497.2,398.4 499.3,409.8 501.4,421.1 503.5,432.5 505.0,441.0 504.3,446.7 502.8,455.2 500.7,465.1 499.3,472.2 498.6,479.0M489.4,479.0 487.9,475.0 485.1,469.4 482.3,462.3 479.4,455.2 478.7,448.1 476.6,442.4 475.2,436.7 476.6,432.5 478.0,429.6 479.4,433.9 480.1,439.6 482.3,446.7 485.1,452.3 485.8,459.4 488.7,466.5 490.8,472.2 492.2,479.0M513.5,364.4 516.3,365.8 520.6,371.5 525.5,373.6 530.5,368.6 534.8,363.7 539.7,359.4M539.7,387.8 533.3,390.6 528.4,392.8 531.9,401.3 536.2,409.8 539.7,416.9 537.6,421.1 534.8,424.0 534.0,428.2 527.7,431.1 524.8,432.5 522.7,438.1 520.6,443.8 517.0,448.1 512.1,446.7 505.7,444.5M500.0,475.0 503.5,473.6 507.8,475.7"/></g>
</defs>
<g transform="translate(84,31)">
<path d="M0.5,0V476.3H542" fill="none" stroke="#262626" stroke-width="1"/>
<g clip-path="url(#cp)"><g filter="url(#bl)" transform="scale(10) translate(0,0.5)" stroke-width="1.06" fill="none"><path stroke="#463adc" d="M13 18h2"/><path stroke="#463cdf" d="M13 17h2M13 19h2"/><path stroke="#4743e7" d="M13 16h2"/><path stroke="#4747ec" d="M15 18h1M13 20h2"/><path stroke="#484aee" d="M-2 4h2M-2 5h2M13 15h2M12 18h1M15 19h1"/><path stroke="#484cef" d="M-2 2h2M-2 3h3M0 4h1M0 5h3M-2 6h7M-2 7h8M-2 8h8M12 17h1M15 17h1M12 19h1"/><path stroke="#484ef1" d="M-2 1h2M0 2h1M1 4h3M3 5h2M5 6h1M6 7h1M6 8h1M-2 9h9M-2 10h3"/><path stroke="#4850f3" d="M-2 -2h2M-2 -1h2M-2 0h2M0 1h1M1 3h2M4 4h1M5 5h1M6 6h1M7 8h1M7 9h1M1 10h3M-2 11h3M-2 12h2M-2 13h2M-2 14h2M12 16h1M15 16h1M-2 18h2M-2 19h2"/><path stroke="#4853f4" d="M0 0h1M1 2h1M3 3h1M5 4h1M6 5h1M7 7h1M4 10h3M1 11h1M0 12h1M0 13h1M13 14h2M-2 15h2M-2 16h2M-2 17h2M0 18h1M0 19h1M-2 20h2M12 20h1M15 20h1M-2 21h2M13 21h1"/><path stroke="#4755f6" d="M0 -2h1M0 -1h1M1 1h1M2 2h1M4 3h1M7 6h1M8 8h1M8 9h1M7 10h1M2 11h2M1 12h1M0 14h1M0 15h1M12 15h1M0 16h1M0 17h1M0 20h1M0 21h1M14 21h1M-2 22h2"/><path stroke="#4757f7" d="M3 2h1M5 3h1M6 4h1M7 5h1M8 7h1M4 11h2M15 15h1M0 22h1M-2 23h2"/><path stroke="#4759f8" d="M1 -2h1M1 -1h1M1 0h1M2 1h1M4 2h1M8 6h1M8 10h1M6 11h1M2 12h2M1 13h1M1 14h1M12 14h1M1 15h1M1 16h1M1 17h1M1 18h1M1 19h1M1 20h1M12 21h1M0 23h1"/><path stroke="#475bfa" d="M2 0h1M3 1h1M5 2h1M6 3h1M7 4h1M7 11h1M4 12h1M2 13h1M13 13h2M16 17h1M11 18h1M16 18h1M11 19h1M16 19h1M1 21h1M15 21h1"/><path stroke="#465efb" d="M2 -2h1M2 -1h1M4 1h1M8 5h1M9 8h1M9 9h1M5 12h1M3 13h1M2 14h1M15 14h1M2 16h1M11 16h1M2 17h1M11 17h1M2 18h1M2 19h1M1 22h1M-2 24h2"/><path stroke="#4660fb" d="M3 0h1M5 1h1M6 2h1M7 3h1M9 7h1M9 10h1M8 11h1M6 12h1M4 13h1M12 13h1M2 15h1M16 16h1M2 20h1M11 20h1M16 20h1M2 21h1M13 22h1M1 23h1M0 24h1"/><path stroke="#4562fc" d="M3 -2h1M3 -1h1M4 0h1M8 4h1M9 6h1M7 12h1M5 13h1M3 14h1M3 15h1M11 15h1M11 21h1M2 22h1M14 22h1"/><path stroke="#4464fd" d="M4 -2h1M4 -1h1M5 0h1M6 1h1M9 5h1M9 11h1M8 12h1M13 12h1M6 13h1M15 13h1M4 14h1M11 14h1M16 15h1M3 16h1M3 17h1M3 18h1M3 19h1M3 20h1M12 22h1M2 23h1M1 24h1"/><path stroke="#4367fd" d="M5 -2h1M5 -1h1M7 2h1M8 3h1M10 9h1M10 10h1M9 12h1M12 12h1M14 12h1M11 13h1M5 14h1M4 15h1M4 16h1M10 17h1M10 18h1M10 19h1M3 21h1M16 21h1M3 22h1M11 22h1M2 24h1"/><path stroke="#4269fe" d="M6 0h1M9 4h1M10 7h1M10 8h1M10 11h1M10 12h2M7 13h1M10 13h1M6 14h1M16 14h1M5 15h1M10 15h1M10 16h1M4 17h1M17 17h1M4 18h1M17 18h1M4 19h1M17 19h1M4 20h1M10 20h1M10 21h1M15 22h1M3 23h1M3 24h1M-2 25h3"/><path stroke="#416bfe" d="M6 -2h1M6 -1h1M7 1h1M8 2h1M10 6h1M11 11h3M8 13h2M7 14h1M10 14h1M6 15h1M5 16h1M17 16h1M5 17h1M9 17h1M9 18h1M9 19h1M4 21h1M4 22h1M10 22h1M4 23h1M4 24h1M1 25h5M4 26h3M5 27h3M6 28h2"/><path stroke="#3f6efe" d="M7 0h1M9 3h1M10 5h1M11 10h1M14 11h1M15 12h1M8 14h2M7 15h1M9 15h1M17 15h1M6 16h2M9 16h1M6 17h3M5 18h4M5 19h1M8 19h1M5 20h1M9 20h1M17 20h1M5 21h1M5 22h1M5 23h1M11 23h2M5 24h1M6 25h1M3 26h1M7 26h1M4 27h1M8 27h1M5 28h1M8 28h1"/><path stroke="#3d70ff" d="M7 -2h1M7 -1h1M8 1h1M10 4h1M11 9h1M16 13h1M8 15h1M8 16h1M6 19h2M6 20h3M6 21h1M9 21h1M9 22h1M16 22h1M10 23h1M13 23h1M6 24h1M7 25h1M2 26h1M8 26h1"/><path stroke="#3b73fe" d="M9 2h1M11 7h1M11 8h1M12 10h1M17 14h1M18 16h1M18 17h1M18 18h1M7 21h2M17 21h1M6 22h1M6 23h1M9 23h1M14 23h1M7 24h1M9 24h3M8 25h2M-2 26h4M9 26h1M3 27h1M4 28h1"/><path stroke="#3875fe" d="M8 0h1M10 3h1M11 6h1M13 10h1M15 11h1M18 15h1M18 19h1M7 22h2M7 23h2M15 23h1M8 24h1M10 25h1M9 27h1M6 29h2"/><path stroke="#3678fe" d="M8 -2h1M8 -1h1M9 1h1M11 5h1M12 9h1M14 10h1M16 12h1M18 20h1M17 22h1M12 24h1M2 27h1M9 28h1M5 29h1M8 29h1"/><path stroke="#347afd" d="M10 2h1M11 4h1M12 8h1M18 14h1M19 16h1M19 17h1M18 21h1M16 23h1M11 25h1M10 26h1M1 27h1M3 28h1"/><path stroke="#327cfc" d="M9 0h1M11 3h1M12 7h1M13 9h1M15 10h1M17 13h1M19 15h1M19 18h1M13 24h1M10 27h1"/><path stroke="#307ffb" d="M9 -2h1M9 -1h1M10 1h1M12 5h1M12 6h1M14 9h1M16 11h1M19 19h1M18 22h1M17 23h1M-2 27h3M2 28h1M4 29h1"/><path stroke="#2f81fa" d="M11 2h1M12 4h1M13 8h1M19 20h1M14 24h1M12 25h1M11 26h1M9 29h1M6 30h2"/><path stroke="#2e83f9" d="M10 0h1M13 7h1M14 8h1M15 9h1M19 14h1M19 21h1M18 23h1M15 24h2M1 28h1M10 28h1M8 30h1"/><path stroke="#2e85f8" d="M10 -2h1M10 -1h1M11 1h1M12 3h1M13 6h1M16 10h1M17 12h1M19 22h1M3 29h1M5 30h1"/><path stroke="#2d87f6" d="M12 2h1M13 5h1M14 7h1M18 13h1M20 16h1M20 17h1M20 18h1M20 19h1M17 24h1M13 25h1M11 27h1M0 28h1"/><path stroke="#2d8af5" d="M13 4h1M14 6h1M15 8h1M20 15h1M20 20h1M19 23h1M12 26h1M-2 28h2"/><path stroke="#2d8cf3" d="M11 0h1M12 1h1M13 3h1M15 7h1M16 9h1M20 21h1M18 24h1M14 25h1M2 29h1M10 29h1M4 30h1M9 30h1"/><path stroke="#2c8ef2" d="M11 -2h1M11 -1h1M14 5h1M20 14h1M20 22h1M15 25h1M11 28h1M6 31h2"/><path stroke="#2c90f0" d="M13 2h1M14 4h1M15 6h1M16 8h1M17 11h1M19 13h1M20 23h1M19 24h1M16 25h2M12 27h1M1 29h1M8 31h1"/><path stroke="#2b92ee" d="M12 0h1M13 26h1M0 29h1M3 30h1M5 31h1"/><path stroke="#2994ed" d="M12 -2h1M12 -1h1M13 1h1M14 3h1M15 5h1M16 7h1M18 12h1M21 17h1M21 18h1M21 19h1M21 20h1M21 21h1M20 24h1M18 25h1M-2 29h2"/><path stroke="#2896ec" d="M14 2h1M17 10h1M21 16h1M21 22h1M19 25h1M14 26h1M11 29h1M10 30h1"/><path stroke="#2798ea" d="M13 0h1M15 4h1M16 6h1M21 15h1M21 23h1M15 26h1M12 28h1M2 30h1M4 31h1M9 31h1"/><path stroke="#269ae9" d="M14 1h1M20 13h1M21 24h1M20 25h1M16 26h2M13 27h1M6 32h2"/><path stroke="#259ce7" d="M13 -2h1M13 -1h1M15 3h1M16 5h1M17 9h1M21 14h1M18 26h1M-2 30h4M5 32h1M8 32h1"/><path stroke="#249de6" d="M15 2h1M17 7h1M17 8h1M22 20h1M22 21h1M22 22h1M21 25h1M19 26h1M12 29h1M11 30h1M10 31h1"/><path stroke="#249fe5" d="M14 0h1M16 4h1M17 6h1M22 19h1M22 23h1M20 26h1M14 27h1M13 28h1M3 31h1"/><path stroke="#22a1e4" d="M14 -2h1M14 -1h1M15 1h1M16 3h1M17 5h1M18 11h1M19 12h1M22 18h1M22 24h1M21 26h1M15 27h2M9 32h1"/><path stroke="#21a3e3" d="M21 13h1M22 17h1M22 25h1M17 27h2M12 30h1M-2 31h2M4 32h1M6 33h2"/><path stroke="#20a5e2" d="M15 0h1M16 2h1M17 4h1M22 16h1M22 26h1M19 27h3M14 28h1M13 29h1M0 31h1M2 31h1M11 31h1M8 33h1"/><path stroke="#1ea7e1" d="M17 3h1M1 31h1M10 32h1M5 33h1"/><path stroke="#1da8e0" d="M15 -2h1M15 -1h1M16 1h1M20 12h1M22 15h1M23 21h1M23 22h1M23 23h1M22 27h1M15 28h2M20 28h2M14 29h1M13 30h1M12 31h1"/><path stroke="#1caadf" d="M17 2h1M22 14h1M23 19h1M23 20h1M23 24h1M17 28h3M22 28h1M15 29h1M20 29h2M13 31h1M-2 32h2M11 32h1M9 33h1M6 34h2"/><path stroke="#1aacdd" d="M16 0h1M18 10h1M21 12h1M23 25h1M16 29h2M19 29h1M22 29h1M14 30h2M20 30h2M14 31h1M21 31h1M3 32h1M12 32h1M5 34h1M8 34h1"/><path stroke="#18addb" d="M16 -2h1M16 -1h1M17 1h1M23 18h1M18 29h1M16 30h4M22 30h1M15 31h1M19 31h2M22 31h1M0 32h1M13 32h2M20 32h2M4 33h1M10 33h1"/><path stroke="#16afd9" d="M22 13h1M23 26h1M16 31h3M15 32h5M22 32h1M13 33h9M9 34h1M6 35h2"/><path stroke="#13b0d7" d="M17 0h1M23 17h1M23 27h1M1 32h2M-2 33h2M11 33h2M22 33h1M14 34h8M5 35h1M8 35h1"/><path stroke="#10b2d5" d="M17 -2h1M17 -1h1M18 3h1M18 4h1M18 5h1M18 6h1M18 9h1M19 11h1M22 12h1M24 21h1M24 22h1M24 23h1M23 28h1M10 34h4M22 34h1M9 35h1M14 35h4M21 35h1M6 36h2"/><path stroke="#0cb3d3" d="M18 2h1M18 7h1M18 8h1M23 16h1M24 20h1M24 24h1M23 29h1M23 30h1M4 34h1M10 35h1M12 35h2M18 35h3M22 35h1M5 36h1M8 36h1M14 36h3"/><path stroke="#08b4d0" d="M18 0h1M18 1h1M20 11h2M24 19h1M24 25h1M23 31h1M23 32h1M0 33h1M3 33h1M-2 34h2M11 35h1M9 36h1M12 36h2M17 36h6M6 37h1M14 37h3"/><path stroke="#05b6ce" d="M18 -1h1M22 11h1M23 15h1M24 26h1M23 33h1M23 34h1M10 36h2M7 37h2M12 37h2M17 37h2M21 37h1M13 38h4"/><path stroke="#03b7cb" d="M18 -2h1M24 18h1M4 35h1M23 35h1M5 37h1M9 37h3M19 37h2M22 37h1M6 38h1M12 38h1M17 38h2M13 39h5M14 40h2"/><path stroke="#01b8c9" d="M23 14h1M24 27h1M1 33h2M23 36h1M7 38h5M19 38h4M11 39h2M18 39h1M12 40h2M16 40h2M13 41h4"/><path stroke="#01b9c6" d="M23 13h1M24 17h1M25 22h1M25 23h1M24 28h1M0 34h1M3 34h1M-2 35h2M23 37h1M5 38h1M6 39h5M19 39h4M10 40h2M18 40h2M11 41h2M17 41h2M13 42h5"/><path stroke="#02bac4" d="M19 -2h1M19 -1h1M22 10h1M25 21h1M25 24h1M24 29h1M24 30h1M24 31h1M24 32h1M24 33h1M24 34h1M4 36h1M23 38h1M9 40h1M20 40h2M10 41h1M19 41h2M11 42h2M18 42h2M13 43h5"/><path stroke="#05bbc1" d="M19 0h1M23 12h1M25 20h1M25 25h1M24 35h1M24 36h1M24 37h1M5 39h1M23 39h1M6 40h3M22 40h1M9 41h1M21 41h1M10 42h1M20 42h1M11 43h2M18 43h2M15 44h2"/><path stroke="#08bcbe" d="M20 -2h1M20 -1h1M19 10h1M21 10h1M24 16h1M25 19h1M-2 36h2M4 37h1M24 38h1M23 40h1M8 41h1M22 41h1M9 42h1M21 42h1M10 43h1M20 43h1M12 44h3M17 44h2"/><path stroke="#0cbdbc" d="M21 -2h1M21 -1h1M19 1h1M23 11h1M25 26h1M1 34h2M0 35h1M3 35h1M24 39h1M5 40h1M6 41h2M8 42h1M11 44h1M19 44h1M14 45h3"/><path stroke="#12beb9" d="M22 -2h1M22 -1h1M20 10h1M24 15h1M25 18h1M25 27h1M4 38h1M23 41h1M7 42h1M22 42h1M9 43h1M21 43h1M10 44h1M20 44h1M12 45h2M17 45h2"/><path stroke="#17bfb6" d="M23 -2h1M23 -1h1M20 0h1M19 2h1M25 28h1M25 32h1M25 33h1M25 34h1M25 35h1M25 36h1M-2 37h2M25 37h1M25 38h1M4 39h1M24 40h1M5 41h1M6 42h1M23 42h1M8 43h1M22 43h1M9 44h1M21 44h1M11 45h1M19 45h1M15 46h1"/><path stroke="#1cc0b4" d="M24 -2h1M24 -1h1M22 9h1M23 10h1M25 29h1M25 30h1M25 31h1M0 36h1M3 36h1M25 39h1M24 41h1M7 43h1M8 44h1M10 45h1M20 45h1M12 46h3M16 46h3"/><path stroke="#20c1b1" d="M24 14h1M25 17h1M26 21h1M26 22h1M26 23h1M1 35h2M4 40h1M5 42h1M6 43h1M23 43h1M22 44h1M9 45h1M21 45h1M11 46h1M19 46h1"/><path stroke="#24c2ae" d="M25 -2h1M25 -1h1M21 0h1M19 3h1M26 20h1M26 24h1M3 37h1M-2 38h2M25 40h1M4 41h1M24 42h1M5 43h1M7 44h1M8 45h1M10 46h1M20 46h1M13 47h4"/><path stroke="#28c2ab" d="M19 9h1M21 9h1M24 13h1M25 16h1M26 19h1M26 25h1M26 33h1M26 34h1M26 35h1M26 36h1M0 37h1M26 37h1M25 41h1M4 42h1M6 44h1M23 44h1M7 45h1M22 45h1M9 46h1M21 46h1M12 47h1M17 47h2M13 48h5M13 49h5"/><path stroke="#2bc3a8" d="M26 -2h1M26 -1h1M22 0h1M20 1h1M24 12h1M26 18h1M26 26h1M26 27h1M26 31h1M26 32h1M1 36h2M3 38h1M26 38h1M-2 39h2M4 43h1M24 43h1M5 44h1M6 45h1M8 46h1M10 47h2M19 47h1M11 48h2M18 48h2M11 49h2M18 49h2"/><path stroke="#2dc4a5" d="M23 9h1M26 28h1M26 29h1M26 30h1M0 38h1M3 39h1M26 39h1M-2 40h2M3 40h1M25 42h1M4 44h1M24 44h1M5 45h1M23 45h1M7 46h1M22 46h1M9 47h1M20 47h1M9 48h2M20 48h1M9 49h2M20 49h1"/><path stroke="#2fc5a2" d="M23 0h1M19 4h1M20 9h1M24 11h1M25 15h1M0 39h1M26 40h1M-2 41h2M3 41h1M3 42h1M3 43h1M25 43h1M6 46h1M7 47h2M21 47h1M7 48h2M21 48h1M7 49h2M21 49h1"/><path stroke="#32c69f" d="M24 0h1M19 8h1M26 17h1M1 37h2M0 40h1M26 41h1M-2 42h2M3 44h1M4 45h1M24 45h1M5 46h1M23 46h1M6 47h1M22 47h1M6 48h1M6 49h1"/><path stroke="#34c79c" d="M27 -2h1M27 -1h1M25 0h1M19 5h1M27 32h1M27 33h1M27 34h1M27 35h1M27 36h1M27 37h1M2 38h1M27 38h1M0 41h1M2 41h1M0 42h1M2 42h1M26 42h1M-2 43h5M1 44h2M25 44h1M2 45h2M4 46h1M5 47h1M5 48h1M22 48h1M5 49h1M22 49h1"/><path stroke="#36c898" d="M26 0h1M20 2h1M19 6h1M19 7h1M22 8h1M24 10h1M25 14h1M27 20h1M27 21h1M27 22h1M27 23h1M27 31h1M1 38h1M1 39h2M27 39h1M1 40h2M1 41h1M1 42h1M-2 44h3M-2 45h4M1 46h3M4 47h1M23 47h1M4 48h1M4 49h1"/><path stroke="#39c895" d="M21 1h1M26 16h1M27 19h1M27 24h1M27 25h1M27 26h1M27 29h1M27 30h1M27 40h1M26 43h1M25 45h1M-2 46h3M24 46h1M3 47h1M3 48h1M23 48h1M3 49h1M23 49h1"/><path stroke="#3cc991" d="M21 8h1M25 13h1M27 18h1M27 27h1M27 28h1M27 41h1M-2 47h5M-2 48h5M-2 49h5"/><path stroke="#3fca8e" d="M27 0h1M23 8h1M24 9h1M27 42h1M26 44h1M25 46h1M24 47h1M24 48h1M24 49h1"/><path stroke="#44ca8a" d="M20 8h1M25 12h1M26 15h1M27 17h1M28 35h1M28 36h1M28 37h1M28 38h1M28 39h1M27 43h1"/><path stroke="#48cb86" d="M22 1h1M20 3h1M25 11h1M28 33h1M28 34h1M28 40h1M28 41h1M26 45h1"/><path stroke="#4dcb82" d="M28 -2h1M28 -1h1M26 14h1M28 31h1M28 32h1M28 42h1M27 44h1M25 47h1M25 48h1M25 49h1"/><path stroke="#52cc7e" d="M23 1h1M21 2h1M25 10h1M27 16h1M28 30h1M28 43h1M26 46h1"/><path stroke="#57cc7a" d="M28 0h1M24 1h3M24 8h1M26 13h1M28 28h1M28 29h1M27 45h1"/><path stroke="#5ccc76" d="M27 1h1M20 7h1M26 12h1M27 15h1M28 19h1M28 20h1M28 21h1M28 22h1M28 23h1M28 24h1M28 25h1M28 26h1M28 27h1M29 38h1M29 39h1M29 40h1M29 41h1M29 42h1M29 43h1M28 44h1M26 47h1"/><path stroke="#61cd72" d="M20 4h1M22 7h1M25 9h1M28 18h1M29 36h1M29 37h1M29 44h1M28 45h1M27 46h1M26 48h1M26 49h1"/><path stroke="#66cd6d" d="M21 7h1M23 7h1M26 11h1M28 17h1M29 35h1"/><path stroke="#6bcd69" d="M22 2h1M26 10h1M27 14h1M29 34h1M29 45h1M28 46h1"/><path stroke="#71cd64" d="M28 1h1M21 3h1M20 5h1M20 6h1M25 8h1M27 13h1M28 16h1M29 32h1M29 33h1M30 41h1M30 42h1M30 43h1M29 46h1M27 47h1M27 48h1M27 49h1"/><path stroke="#77cc60" d="M26 2h2M24 7h1M26 9h1M27 12h1M29 31h1M30 39h1M30 40h1M30 44h1M30 45h1M28 47h1"/><path stroke="#7dcc5c" d="M29 -2h1M29 -1h1M23 2h1M25 2h1M27 10h1M27 11h1M28 15h1M29 30h1M30 38h1M30 46h1M29 47h1M28 48h2M28 49h2"/><path stroke="#83cc57" d="M24 2h1M26 8h1M27 9h1M28 14h1M29 28h1M29 29h1M30 37h1M30 47h1"/><path stroke="#88cb53" d="M29 0h1M28 2h1M21 6h1M25 7h1M28 13h1M29 26h1M29 27h1M30 36h1M30 48h1M30 49h1"/><path stroke="#8ecb4f" d="M22 3h1M27 3h1M21 4h1M22 6h2M26 7h1M27 8h1M28 11h1M28 12h1M29 18h1M29 19h1M29 20h1M29 21h1M29 22h1M29 23h1M29 24h1M29 25h1"/><path stroke="#94ca4a" d="M29 1h1M26 3h1M28 3h1M21 5h1M24 6h1M27 7h1M28 10h1M29 16h1M29 17h1M30 35h1"/><path stroke="#99c946" d="M23 3h1M25 3h1M26 6h2M28 8h1M28 9h1M29 15h1M30 34h1M31 42h1M31 43h1"/><path stroke="#9fc942" d="M24 3h1M27 4h1M27 5h1M25 6h1M28 7h1M29 13h1M29 14h1M30 33h1M31 41h1M31 44h1M31 45h1"/><path stroke="#a4c83e" d="M29 2h1M22 4h1M26 4h1M28 4h1M22 5h1M26 5h1M28 5h1M28 6h1M29 12h1M30 32h1M31 39h1M31 40h1M31 46h1M31 47h1M31 48h1M31 49h1"/><path stroke="#aac73a" d="M29 3h1M23 5h3M29 10h1M29 11h1M30 30h1M30 31h1M31 38h1"/><path stroke="#afc637" d="M30 -2h1M30 -1h1M23 4h3M29 8h1M29 9h1M30 29h1M31 37h1"/><path stroke="#b4c533" d="M30 0h1M29 4h1M29 5h1M29 6h1M29 7h1M30 27h1M30 28h1"/><path stroke="#bac430" d="M30 1h1M30 13h1M30 14h1M30 15h1M30 16h1M30 26h1M31 36h1"/><path stroke="#bfc32e" d="M30 2h1M30 11h1M30 12h1M30 17h1M30 18h1M30 19h1M30 24h1M30 25h1M31 35h1"/><path stroke="#c4c22b" d="M30 3h1M30 10h1M30 20h1M30 21h1M30 22h1M30 23h1M31 34h1"/><path stroke="#c8c129" d="M30 4h1M30 5h1M30 6h1M30 7h1M30 8h1M30 9h1M31 33h1"/><path stroke="#cdc028" d="M31 32h1M32 42h1M32 43h1M32 44h1M32 45h1M32 46h1"/><path stroke="#d2bf27" d="M31 -2h1M31 -1h1M31 0h1M31 1h1M31 30h1M31 31h1M32 40h1M32 41h1M32 47h1M32 48h1M32 49h1"/><path stroke="#d6be28" d="M31 2h1M31 3h1M31 12h1M31 13h1M31 14h1M31 28h1M31 29h1M32 38h1M32 39h1"/><path stroke="#dabd28" d="M31 4h1M31 5h1M31 11h1M31 15h1M31 26h1M31 27h1M32 37h1"/><path stroke="#debc2a" d="M32 -2h1M32 -1h1M32 0h1M32 1h1M31 6h1M31 7h1M31 8h1M31 9h1M31 10h1M31 16h1M31 25h1M32 36h1"/><path stroke="#e2bc2b" d="M32 2h1M31 17h1M31 23h1M31 24h1M32 35h1"/><path stroke="#e6bb2d" d="M32 3h1M32 4h1M31 18h1M31 19h1M31 20h1M31 21h1M31 22h1M32 34h1"/><path stroke="#eaba31" d="M33 -2h1M33 -1h1M33 0h1M33 1h1M32 5h1M32 32h1M32 33h1"/><path stroke="#eeba34" d="M33 2h1M32 6h1M32 7h1M32 29h1M32 30h1M32 31h1"/><path stroke="#f1ba37" d="M34 -2h1M34 -1h1M34 0h1M33 3h1M33 4h1M32 8h1M32 9h1M32 10h1M32 11h1M32 12h1M32 13h1M32 27h1M32 28h1M33 41h1M33 42h1M33 43h1M33 44h1M33 45h1M33 46h1M33 47h1M33 48h1M33 49h1"/><path stroke="#f4ba3a" d="M34 1h1M34 2h1M33 5h1M32 14h1M32 26h1M33 39h1M33 40h1"/><path stroke="#f8ba3d" d="M35 -2h1M35 -1h1M34 3h1M33 6h1M32 15h1M32 25h1M33 36h1M33 37h1M33 38h1"/><path stroke="#fabb3d" d="M35 0h1M35 1h1M34 4h1M33 7h1M32 16h1M32 23h1M32 24h1M33 34h1M33 35h1M34 47h1M34 48h1M34 49h1"/><path stroke="#fcbd3d" d="M36 -2h1M36 -1h1M35 2h1M34 5h1M33 8h1M32 17h1M32 22h1M33 30h1M33 31h1M33 32h1M33 33h1M34 40h1M34 41h1M34 42h1M34 43h1M34 44h1M34 45h1M34 46h1M35 47h1M35 48h2M35 49h2"/><path stroke="#febe3c" d="M36 0h1M36 1h1M35 3h1M35 4h1M34 6h1M33 9h1M32 18h1M32 19h1M32 20h1M32 21h1M33 28h1M33 29h1M34 34h1M34 35h1M34 36h1M34 37h1M34 38h1M34 39h1M35 42h1M35 43h1M35 44h1M35 45h2M35 46h3M36 47h2M37 48h2M37 49h2"/><path stroke="#fec13a" d="M37 -2h1M37 -1h1M37 0h1M36 2h1M35 5h1M34 7h1M33 10h1M33 11h1M33 27h1M34 31h1M34 32h3M34 33h4M35 34h3M35 35h3M46 35h3M35 36h3M35 37h3M35 38h3M35 39h3M35 40h2M35 41h2M36 42h2M36 43h2M36 44h2M37 45h2M38 46h1M42 46h15M38 47h19M39 48h18M39 49h18"/><path stroke="#fec338" d="M38 -2h1M38 -1h1M38 0h1M37 1h1M36 3h1M36 4h1M35 6h1M34 8h1M33 12h1M33 13h1M33 26h1M34 29h1M34 30h2M35 31h2M37 32h1M38 33h1M43 33h7M38 34h1M41 34h16M38 35h1M41 35h5M49 35h8M38 36h1M41 36h16M38 37h1M42 37h15M38 38h1M38 39h1M37 40h2M37 41h2M38 42h1M38 43h1M42 43h15M38 44h19M39 45h18M39 46h3"/><path stroke="#fec537" d="M39 -2h1M39 -1h1M38 1h1M37 2h1M37 3h1M33 14h1M33 25h1M34 28h1M35 29h1M36 30h1M37 31h1M38 32h2M39 33h4M50 33h7M39 34h2M39 35h2M39 36h2M39 37h3M39 38h18M39 39h18M39 40h18M39 41h18M39 42h18M39 43h3"/><path stroke="#fec835" d="M39 0h1M38 2h1M36 5h1M35 7h1M34 9h1M33 15h1M33 24h1M36 29h1M37 30h1M38 31h2M40 32h4M50 32h7"/><path stroke="#feca33" d="M39 1h1M38 3h1M37 4h1M36 6h1M35 8h1M34 10h1M33 16h1M33 23h1M34 27h1M35 28h1M37 29h1M38 30h1M40 31h2M44 32h2M48 32h2"/><path stroke="#fdcc32" d="M40 -2h1M40 -1h1M39 2h1M37 5h1M36 7h1M35 9h1M34 11h1M33 17h1M33 22h1M34 26h1M36 28h1M38 29h1M39 30h2M42 31h1M51 31h6M46 32h2"/><path stroke="#fccf30" d="M40 0h1M38 4h1M37 6h1M36 8h1M34 12h1M33 18h1M33 20h1M33 21h1M35 27h1M37 28h1M39 29h1M41 30h1M43 31h1M50 31h1"/><path stroke="#fbd12f" d="M40 1h1M39 3h1M38 5h1M35 10h1M34 13h1M33 19h1M34 25h1M40 29h1M42 30h1M52 30h5M44 31h1M49 31h1"/><path stroke="#fad42e" d="M40 2h1M39 4h1M37 7h1M36 9h1M34 14h1M36 27h1M38 28h1M41 29h1M51 30h1M45 31h1M48 31h1"/><path stroke="#f9d62d" d="M41 -2h1M41 -1h1M41 0h1M38 6h1M35 11h1M34 24h1M35 26h1M39 28h1M52 29h5M43 30h1M50 30h1M46 31h2"/><path stroke="#f8d92c" d="M40 3h1M39 5h1M37 8h1M36 10h1M35 12h1M34 15h1M34 23h1M37 27h1M40 28h1M42 29h1M51 29h1M44 30h1"/><path stroke="#f7dc2a" d="M41 1h1M38 7h1M37 9h1M34 16h1M38 27h1M41 28h1M53 28h4M49 30h1"/><path stroke="#f6de29" d="M41 2h1M40 4h1M39 6h1M36 11h1M35 13h1M34 17h1M34 21h1M34 22h1M35 25h1M36 26h1M39 27h1M42 28h1M52 28h1M43 29h1M50 29h1M45 30h1M48 30h1"/><path stroke="#f6e128" d="M42 -2h1M42 -1h1M42 0h1M38 8h1M37 10h1M34 18h1M34 19h1M34 20h1M40 27h1M51 28h1M46 30h2"/><path stroke="#f5e327" d="M42 1h1M41 3h1M40 5h1M39 7h1M36 12h1M35 14h1M35 24h1M37 26h1M41 27h1M52 27h5M44 29h1M49 29h1"/><path stroke="#f5e626" d="M41 4h1M40 6h1M38 9h1M37 11h1M35 15h1M38 26h1M42 27h1M51 27h1M43 28h1M50 28h1"/><path stroke="#f5e825" d="M43 -2h1M43 -1h1M42 2h1M39 8h1M36 13h1M35 23h1M36 25h1M39 26h2M52 26h5M45 29h1M48 29h1"/><path stroke="#f5ea23" d="M43 0h1M42 3h1M41 5h1M40 7h1M38 10h1M37 12h1M35 16h1M37 25h1M41 26h1M43 27h1M50 27h1M44 28h1M49 28h1M46 29h2"/><path stroke="#f5ed22" d="M43 1h1M42 4h1M39 9h1M36 14h1M35 17h1M35 22h1M38 25h1M53 25h4M42 26h1M51 26h1"/><path stroke="#f6ef20" d="M43 2h1M41 6h1M40 8h1M38 11h1M37 13h1M35 18h1M35 19h1M35 20h1M35 21h1M36 24h1M39 25h2M52 25h1M43 26h1M50 26h1M44 27h1M49 27h1M45 28h1"/><path stroke="#f6f21e" d="M44 -2h1M44 -1h1M44 0h1M43 3h1M42 5h1M41 7h1M39 10h1M38 12h1M36 15h1M53 24h4M41 25h1M51 25h1M46 28h1M48 28h1"/><path stroke="#f7f41c" d="M44 1h1M43 4h1M42 6h1M40 9h1M39 11h1M37 14h1M36 16h1M36 23h1M53 23h4M37 24h1M52 24h1M42 25h2M50 25h1M44 26h1M49 26h1M45 27h1M48 27h1M47 28h1"/><path stroke="#f8f61a" d="M45 -2h1M45 -1h1M45 0h1M44 2h1M43 5h1M42 7h1M41 8h1M40 10h1M39 12h1M38 13h1M37 15h1M36 17h1M53 22h4M52 23h1M38 24h3M51 24h1M44 25h1M49 25h1M45 26h1M46 27h1"/><path stroke="#f8f917" d="M46 -2h1M46 -1h1M46 0h1M45 1h1M45 2h1M44 3h1M44 4h1M43 6h1M43 7h1M42 8h1M41 9h1M40 11h1M40 12h1M39 13h1M38 14h1M38 15h1M37 16h1M36 18h1M53 20h4M53 21h4M36 22h1M52 22h1M37 23h1M51 23h1M41 24h4M50 24h1M45 25h1M48 25h1M46 26h3M47 27h1"/><path stroke="#f9fb15" d="M47 -2h10M47 -1h10M47 0h10M46 1h11M46 2h11M45 3h12M45 4h12M44 5h13M44 6h13M44 7h13M43 8h14M42 9h15M41 10h16M41 11h16M41 12h16M40 13h17M39 14h18M39 15h18M38 16h19M37 17h20M37 18h20M36 19h21M36 20h17M36 21h17M37 22h15M38 23h13M45 24h5M46 25h2"/></g>
<use href="#coast"/>
</g>
<text class="l" x="24" y="35">A)</text>
<text class="t" x="-7" y="10.2" text-anchor="end">48</text>
<text class="t" x="-7" y="105.6" text-anchor="end">44</text>
<text class="t" x="-7" y="201.0" text-anchor="end">40</text>
<text class="t" x="-7" y="296.4" text-anchor="end">36</text>
<text class="t" x="-7" y="391.8" text-anchor="end">32</text>
<text class="t" x="-7" y="487.2" text-anchor="end">28</text>
<text class="a" transform="translate(-44.3,242.9) rotate(-90)" text-anchor="middle">Lat</text>
</g>
<g transform="translate(722,31)">
<path d="M0.5,0V476.3H542" fill="none" stroke="#262626" stroke-width="1"/>
<g clip-path="url(#cp)"><g filter="url(#bl)" transform="scale(10) translate(0,0.5)" stroke-width="1.06" fill="none"><path stroke="#4660fb" d="M21 24h2M21 25h2M22 26h1"/><path stroke="#4562fc" d="M21 23h1"/><path stroke="#4464fd" d="M22 23h1M20 24h1M21 26h1M22 27h1"/><path stroke="#4367fd" d="M20 23h1M20 25h1M23 25h1M23 26h1M23 27h1M22 28h1"/><path stroke="#4269fe" d="M23 24h1M21 27h1M23 28h1M22 29h2"/><path stroke="#416bfe" d="M20 26h1M24 27h1M21 28h1M24 28h1M22 30h2"/><path stroke="#3f6efe" d="M21 22h2M19 23h1M23 23h1M19 24h1M24 26h1M24 29h1M22 31h2"/><path stroke="#3d70ff" d="M20 22h1M24 25h1M20 27h1M25 28h1M21 29h1M24 30h1M22 32h2"/><path stroke="#3b73fe" d="M19 25h1M25 27h1M25 29h1M21 30h1M24 31h1M24 32h1M22 33h2"/><path stroke="#3875fe" d="M19 22h1M24 24h1M25 26h1M20 28h1M25 30h1M21 31h1M24 33h1M22 34h2"/><path stroke="#3678fe" d="M19 26h1M26 27h1M26 28h1M25 31h1M21 32h1M24 34h1M22 35h2"/><path stroke="#347afd" d="M20 21h2M23 22h1M18 23h1M25 25h1M26 26h1M20 29h1M26 29h1M25 32h1M21 33h1M21 34h1M24 35h1"/><path stroke="#327cfc" d="M22 21h1M24 23h1M18 24h1M19 27h1M20 30h1M25 33h1M21 35h1M22 36h3"/><path stroke="#307ffb" d="M19 21h1M25 24h1M26 25h1M26 30h1M25 34h1M21 36h1M23 37h2"/><path stroke="#2f81fa" d="M18 22h1M18 25h1M27 28h1M20 31h1M20 32h1M20 34h1M20 35h1M25 35h1M20 36h1M25 36h1M20 37h3"/><path stroke="#2e83f9" d="M27 26h1M27 27h1M19 28h1M26 31h1M20 33h1M25 37h1M20 38h2M23 38h2"/><path stroke="#2e85f8" d="M20 20h2M26 24h1M27 29h1M26 32h1M22 38h1M25 38h1"/><path stroke="#2d87f6" d="M19 20h1M18 21h1M23 21h1M24 22h1M17 23h1M25 23h1M17 24h1M27 25h1M18 26h1M19 29h1M19 37h1M20 39h2M24 39h1"/><path stroke="#2d8af5" d="M22 20h1M19 30h1M27 30h1M26 33h1M19 35h1M19 36h1M19 38h1M22 39h2"/><path stroke="#2d8cf3" d="M17 22h1M26 23h1M27 24h1M19 31h1M19 34h1M26 34h1M26 35h1M19 39h1M25 39h1M20 40h1"/><path stroke="#2c8ef2" d="M20 19h1M18 20h1M17 25h1M18 27h1M27 31h1M19 32h1M19 33h1M26 36h1M26 37h1M21 40h1M24 40h1"/><path stroke="#2c90f0" d="M19 19h1M17 21h1M19 40h1M22 40h2M20 41h1"/><path stroke="#2b92ee" d="M21 19h1M25 22h1M16 23h1M27 32h1M26 38h1M25 40h1M21 41h1"/><path stroke="#2994ed" d="M23 20h1M24 21h1M16 22h1M27 23h1M16 24h1M17 26h1M28 27h1M18 28h1M28 28h1M19 41h1M24 41h1"/><path stroke="#2896ec" d="M18 19h1M22 19h1M17 20h1M28 26h1M18 29h1M28 29h1M27 33h1M26 39h1M22 41h2M25 41h1M20 42h1"/><path stroke="#2798ea" d="M19 18h2M26 22h1M27 34h1M19 42h1M21 42h1"/><path stroke="#269ae9" d="M16 21h1M16 25h1M28 25h1M18 30h1M28 30h1M18 31h1M18 35h1M27 35h1M18 36h1M27 36h1M18 37h1M26 40h1M22 42h3M20 43h1"/><path stroke="#259ce7" d="M18 18h1M21 18h1M17 19h1M25 21h1M15 23h1M28 24h1M17 27h1M18 32h1M18 33h1M18 34h1M27 37h1M18 38h1M25 42h1M19 43h1M21 43h1"/><path stroke="#249de6" d="M16 20h1M24 20h1M15 22h1M27 22h1M15 24h1M28 31h1M27 38h1M18 39h1M24 43h1M19 44h2"/><path stroke="#249fe5" d="M19 17h2M22 18h1M23 19h1M16 26h1M18 40h1M26 41h1M22 43h2M25 43h1M21 44h1M19 45h2"/><path stroke="#22a1e4" d="M18 17h1M17 18h1M15 21h1M26 21h1M28 23h1M17 28h1M28 32h1M27 39h1M24 44h1M19 46h2M19 47h1M19 48h2M19 49h2"/><path stroke="#21a3e3" d="M17 17h1M21 17h1M16 19h1M14 23h1M15 25h1M28 33h1M18 41h1M26 42h1M22 44h2M25 44h1M21 45h1M20 47h1"/><path stroke="#20a5e2" d="M15 20h1M14 22h1M14 24h1M17 29h1M28 34h1M27 40h1M18 42h1M24 45h2"/><path stroke="#1ea7e1" d="M17 16h3M16 18h1M25 20h1M27 21h1M16 27h1M17 30h1M17 31h1M28 35h1M22 45h2M21 46h1M24 46h2M24 47h2M24 48h2M24 49h2"/><path stroke="#1da8e0" d="M17 15h1M16 16h1M20 16h1M16 17h1M22 17h1M23 18h1M15 19h1M24 19h1M14 21h1M13 23h1M14 25h1M15 26h1M17 32h1M17 33h1M17 34h1M28 36h1M27 41h1M18 43h1M26 43h1M23 46h1M21 47h1M21 48h1M21 49h1"/><path stroke="#1caadf" d="M16 15h1M14 20h1M13 22h1M28 22h1M13 24h1M17 35h1M17 36h1M28 37h1M18 44h1M26 44h1M22 46h1M23 47h1M23 48h1M23 49h1"/><path stroke="#1aacdd" d="M16 14h1M18 15h1M21 16h1M15 18h1M26 20h1M16 28h1M17 37h1M28 38h1M18 45h1M26 45h1M18 46h1M18 47h1M22 47h1M18 48h1M22 48h1M18 49h1M22 49h1"/><path stroke="#18addb" d="M17 14h1M19 15h1M15 16h1M15 17h1M14 19h1M13 21h1M12 23h1M13 25h1M14 26h1M15 27h1M29 27h1M29 28h1M29 29h1M29 30h1M17 38h1M17 39h1M28 39h1M27 42h1M26 46h1M26 47h1M26 48h1M26 49h1"/><path stroke="#16afd9" d="M15 15h1M22 16h1M23 17h1M25 19h1M12 22h1M12 24h1M29 26h1M16 29h1M29 31h1M29 32h1M27 43h1"/><path stroke="#13b0d7" d="M16 13h1M15 14h1M18 14h1M20 15h1M14 18h1M24 18h1M13 20h1M27 20h1M28 21h1M11 23h1M12 25h1M29 25h1M16 30h1M16 31h1M16 32h1M16 33h1M29 33h1M17 40h1M28 40h1"/><path stroke="#10b2d5" d="M17 13h1M21 15h1M14 17h1M12 21h1M11 24h1M29 24h1M13 26h1M14 27h1M15 28h1M16 34h1M29 34h1M17 41h1M28 41h1M27 44h1"/><path stroke="#0cb3d3" d="M15 13h1M14 16h1M13 19h1M26 19h1M11 22h1M15 29h1M16 35h1M29 35h1M17 42h1M27 45h1"/><path stroke="#08b4d0" d="M16 12h1M19 14h1M14 15h1M22 15h1M13 18h1M12 20h1M29 23h1M11 25h1M12 26h1M13 27h1M14 28h1M15 30h1M15 31h1M15 32h1M15 33h1M16 36h1M29 36h1M28 42h1M17 43h1M17 44h1M27 46h1M27 47h1M27 48h1M27 49h1"/><path stroke="#05b6ce" d="M15 12h1M14 14h1M23 16h1M24 17h1M25 18h1M11 21h1M10 23h1M15 34h1M16 37h1M29 37h1M29 38h1M28 43h1M17 45h1"/><path stroke="#03b7cb" d="M20 14h1M13 17h1M12 19h1M27 19h1M28 20h1M10 22h1M10 24h1M11 26h1M12 27h1M13 28h1M14 29h1M14 30h1M14 31h1M15 35h1M16 38h1M29 39h1M28 44h1M17 46h1M17 47h1M17 48h1M17 49h1"/><path stroke="#01b8c9" d="M16 11h1M17 12h1M14 13h1M18 13h1M21 14h1M26 18h1M11 20h1M29 22h1M10 25h1M14 32h1M14 33h1M14 34h1M15 36h1M16 39h1M29 40h1M28 45h1"/><path stroke="#01b9c6" d="M15 11h1M13 16h1M12 18h1M10 21h1M11 27h1M12 28h1M13 29h1M13 30h1M14 35h1M15 37h1M16 40h1M16 41h1M29 41h1M28 46h1M28 47h1M28 48h1M28 49h1"/><path stroke="#02bac4" d="M14 12h1M22 14h1M13 15h1M23 15h1M24 16h1M25 17h1M11 19h1M9 23h1M10 26h1M13 31h1M13 32h1M13 33h1M14 36h1M15 38h1M16 42h1M29 42h1M29 43h1"/><path stroke="#05bbc1" d="M15 10h1M14 11h1M27 18h1M28 19h1M10 20h1M29 21h1M9 22h1M9 24h1M11 28h1M12 29h1M12 30h1M30 31h1M30 32h1M30 33h1M13 34h1M30 34h1M13 35h1M14 37h1M15 39h1M16 43h1M16 44h1M29 44h1"/><path stroke="#08bcbe" d="M16 10h1M19 13h1M13 14h1M12 17h1M26 17h1M9 21h1M10 27h1M30 29h1M30 30h1M12 31h1M12 32h1M30 35h1M13 36h1M14 38h1M15 40h1M15 41h1M16 45h1M29 45h1M29 46h1M29 47h1M29 48h1M29 49h1"/><path stroke="#0cbdbc" d="M15 9h1M14 10h1M17 11h1M13 13h1M25 16h1M11 18h1M10 19h1M6 23h1M9 25h1M30 28h1M11 29h1M12 33h1M12 34h1M30 36h1M13 37h1M30 37h1M14 39h1M14 40h1M15 42h1M15 43h1M16 46h1"/><path stroke="#12beb9" d="M15 8h1M13 12h1M18 12h1M20 13h2M23 14h1M24 15h1M12 16h1M27 17h1M28 18h1M9 20h1M29 20h1M6 21h1M8 21h1M5 22h4M5 23h1M7 23h2M6 24h1M8 24h1M9 26h1M30 27h1M10 28h1M11 30h1M11 31h1M12 35h1M12 36h1M13 38h1M30 38h1M13 39h1M30 39h1M30 40h1M14 41h1M14 42h1M15 44h1M16 47h1M16 48h1M16 49h1"/><path stroke="#17bfb6" d="M15 7h1M14 8h1M14 9h1M16 9h1M22 13h1M26 16h1M9 19h1M6 20h3M5 21h1M7 21h1M5 24h1M7 24h1M30 26h1M10 29h1M11 32h1M11 33h1M11 34h1M12 37h1M12 38h1M13 40h1M13 41h1M30 41h1M30 42h1M14 43h1M30 43h1M14 44h1M30 44h1M15 45h1M30 45h1M15 46h1M30 46h1M30 47h1M30 48h1M30 49h1"/><path stroke="#1cc0b4" d="M15 4h1M15 5h1M15 6h1M14 7h1M16 8h1M13 11h1M12 15h1M27 16h1M11 17h1M10 18h1M6 19h2M5 20h1M6 25h3M30 25h1M9 27h1M10 30h1M10 31h1M10 32h1M10 33h1M11 35h1M11 36h1M12 39h1M13 42h1M13 43h1M14 45h1M15 47h1M15 48h1M15 49h1"/><path stroke="#20c1b1" d="M15 3h1M14 5h1M16 5h1M14 6h1M16 6h1M16 7h1M13 10h1M12 14h1M25 15h1M28 17h1M6 18h1M9 18h1M5 19h1M8 19h1M29 19h1M30 24h1M5 25h1M8 26h1M9 28h1M9 31h1M9 32h1M9 33h1M9 34h2M10 35h1M11 37h1M12 40h1M12 41h1M13 44h1M13 45h1M14 46h1M14 47h1"/><path stroke="#24c2ae" d="M15 2h1M14 3h1M16 3h1M14 4h1M16 4h1M13 9h1M17 10h1M24 14h1M26 15h2M11 16h1M10 17h1M5 18h1M7 18h2M30 23h1M6 26h2M9 29h1M9 30h1M8 32h1M8 33h1M8 34h1M8 35h2M10 36h1M10 37h1M11 38h1M11 39h1M12 42h1M12 43h1M12 44h1M13 46h1M13 47h1M13 48h2M13 49h2"/><path stroke="#28c2ab" d="M15 1h1M14 2h1M16 2h1M13 7h1M13 8h1M12 13h1M23 13h1M28 16h1M6 17h2M29 18h1M4 22h1M30 22h1M4 23h1M5 26h1M6 27h3M8 31h1M31 33h1M8 36h2M9 37h1M10 38h1M11 40h1M11 41h1M31 42h1M31 43h1M31 44h1M12 45h1M31 45h1M12 46h1M31 46h1M12 47h1M31 47h1M12 48h1M31 48h1M12 49h1M31 49h1"/><path stroke="#2bc3a8" d="M14 1h1M16 1h1M13 6h1M18 11h1M12 12h1M19 12h1M11 15h1M5 17h1M8 17h2M4 21h1M30 21h1M4 24h1M8 28h1M8 29h1M8 30h1M31 31h1M7 32h1M31 32h1M7 33h1M7 34h1M31 34h1M7 35h1M31 35h1M7 36h1M31 36h1M7 37h2M31 37h1M8 38h2M31 38h1M9 39h2M31 39h1M10 40h1M31 40h1M10 41h1M31 41h1M11 42h1M11 43h1M11 44h1M11 45h1M11 46h1M11 47h1M11 48h1M11 49h1"/><path stroke="#2dc4a5" d="M14 0h2M13 4h1M13 5h1M12 11h1M20 12h3M25 14h3M28 15h1M5 16h3M10 16h1M4 20h1M30 20h1M5 27h1M6 28h2M7 29h1M7 30h1M31 30h1M7 31h1M7 38h1M7 39h2M7 40h3M9 41h1M10 42h1M10 43h1M10 44h1M10 45h1M10 46h1M10 47h1M10 48h1M10 49h1"/><path stroke="#2fc5a2" d="M14 -2h2M14 -1h2M16 0h1M13 2h1M13 3h1M17 9h1M12 10h1M11 14h1M6 15h1M8 16h2M29 17h1M4 19h1M4 25h1M31 28h1M6 29h1M31 29h1M6 35h1M6 36h1M6 37h1M6 38h1M6 39h1M6 40h1M6 41h3M7 42h3M8 43h2M8 44h2M8 45h2M8 46h2M7 47h3M7 48h3M7 49h3"/><path stroke="#32c69f" d="M16 -2h1M16 -1h1M13 1h1M17 8h1M12 9h1M28 14h1M5 15h1M7 15h1M10 15h1M4 18h1M30 19h1M31 27h1M5 28h1M6 30h1M6 31h1M6 32h1M6 33h1M6 34h1M6 42h1M6 43h2M6 44h2M6 45h2M6 46h2M6 47h1M6 48h1M6 49h1"/><path stroke="#34c79c" d="M13 -2h1M13 -1h1M13 0h1M17 1h1M17 2h1M17 3h1M12 7h1M17 7h1M12 8h1M11 13h1M24 13h1M27 13h1M6 14h1M8 15h2M29 16h1M4 17h1M30 18h1M4 26h1M31 26h1M5 29h1M32 41h1M5 42h1M32 42h1M32 43h1M32 44h1M32 45h1M32 46h1M32 47h1M32 48h1M32 49h1"/><path stroke="#36c898" d="M17 0h1M17 4h1M12 5h1M17 5h1M12 6h1M17 6h1M11 12h1M23 12h1M26 13h1M28 13h1M5 14h1M7 14h1M10 14h1M3 22h1M31 25h1M5 30h1M5 37h1M5 38h1M5 39h1M32 39h1M5 40h1M32 40h1M5 41h1M5 43h1M5 44h1M5 45h1M5 46h1M5 47h1M5 48h1M5 49h1"/><path stroke="#39c895" d="M17 -2h1M17 -1h1M12 3h1M12 4h1M11 11h1M25 13h1M9 14h1M29 15h1M4 16h1M30 17h1M3 21h1M31 22h1M3 23h1M31 23h1M31 24h1M4 27h1M5 31h1M5 32h1M5 33h1M5 34h1M5 35h1M5 36h1M32 37h1M32 38h1"/><path stroke="#3cc991" d="M12 1h1M12 2h1M11 10h1M18 10h1M19 11h1M6 13h1M10 13h1M8 14h1M29 14h1M4 15h1M3 19h1M31 19h1M3 20h1M31 20h1M31 21h1M3 24h1M32 35h1M32 36h1M4 45h1"/><path stroke="#3fca8e" d="M12 -2h1M12 -1h1M12 0h1M11 8h1M11 9h1M20 11h3M10 12h1M27 12h2M5 13h1M7 13h1M9 13h1M30 16h1M3 18h1M31 18h1M-2 21h2M53 21h4M-2 22h2M4 28h1M32 28h1M32 29h1M32 30h1M32 31h1M32 32h1M32 33h1M32 34h1M4 43h1M33 43h1M4 44h1M33 44h1M33 45h1M4 46h1M33 46h1"/><path stroke="#44ca8a" d="M11 6h1M11 7h1M24 12h1M8 13h1M29 13h1M4 14h1M3 17h1M-2 18h2M-2 19h2M50 19h7M-2 20h2M50 20h7M51 21h2M52 22h5M-2 23h2M53 23h4M3 25h1M32 26h1M32 27h1M4 29h1M33 40h1M33 41h1M4 42h1M33 42h1M4 47h1M33 47h1M4 48h1M33 48h1M4 49h1M33 49h1"/><path stroke="#48cb86" d="M11 4h1M11 5h1M10 11h1M28 11h1M6 12h1M9 12h1M26 12h1M29 12h1M-2 15h2M30 15h1M-2 16h2M-2 17h2M31 17h1M49 18h8M48 19h2M49 20h1M49 21h2M2 22h1M50 22h2M51 23h2M-2 24h2M53 24h4M32 25h1M4 30h1M4 31h1M4 32h1M4 33h1M33 38h1M33 39h1M4 41h1"/><path stroke="#4dcb82" d="M18 -2h1M18 -1h1M18 0h1M18 1h1M11 2h1M11 3h1M10 10h1M23 11h1M27 11h1M5 12h1M7 12h2M4 13h1M-2 14h2M3 16h1M31 16h1M50 17h3M48 18h1M0 19h1M32 19h1M0 20h1M2 20h1M32 20h1M48 20h1M0 21h1M2 21h1M32 21h1M48 21h1M0 22h1M32 22h1M49 22h1M0 23h1M2 23h1M32 23h1M50 23h1M32 24h1M51 24h2M53 25h4M3 26h1M53 26h4M4 34h1M33 37h1M4 40h1M34 43h1M3 44h1M34 44h1M3 45h1M34 45h1M3 46h1M34 46h1M34 47h1M34 48h1M34 49h1"/><path stroke="#52cc7e" d="M11 -2h1M11 -1h1M11 0h1M11 1h1M10 8h1M10 9h1M18 9h1M28 10h1M9 11h1M29 11h1M25 12h1M30 14h1M3 15h1M0 17h1M32 17h1M49 17h1M53 17h4M0 18h1M32 18h1M47 18h1M2 19h1M47 19h1M1 20h1M47 20h1M1 21h1M47 21h1M1 22h1M48 22h1M49 23h1M2 24h1M50 24h1M52 25h1M3 27h1M33 27h1M53 27h4M33 28h1M33 29h1M36 32h1M36 33h1M4 35h1M33 36h1M4 39h1M34 41h1M34 42h1M3 43h1M35 45h1M35 46h1M35 47h1M35 48h1M35 49h1"/><path stroke="#57cc7a" d="M18 2h1M10 4h1M10 5h1M10 6h1M10 7h1M9 10h1M29 10h1M8 11h1M4 12h1M30 12h1M-2 13h2M30 13h1M3 14h1M0 15h1M31 15h1M0 16h1M32 16h1M50 16h7M48 17h1M2 18h1M1 19h1M46 19h1M46 20h1M46 21h1M47 22h1M1 23h1M47 23h2M0 24h1M48 24h2M-2 25h2M49 25h3M33 26h1M52 26h1M53 28h4M33 30h1M36 31h1M33 35h1M4 36h1M4 37h1M4 38h1M34 39h1M34 40h1M35 43h1M35 44h1M36 45h1M36 46h1M3 47h1M36 47h1M36 48h1M36 49h1"/><path stroke="#5ccc76" d="M10 1h1M10 2h1M10 3h1M18 3h1M18 8h1M29 9h1M19 10h1M21 10h2M30 10h1M5 11h3M30 11h1M0 14h1M31 14h1M32 15h1M49 16h1M1 17h2M47 17h1M1 18h1M46 18h1M45 19h1M45 20h1M45 21h1M45 22h2M46 23h1M1 24h1M33 24h1M47 24h1M2 25h1M33 25h1M47 25h2M47 26h3M51 26h1M34 27h1M52 27h1M3 28h1M34 28h1M3 29h1M34 29h1M53 29h4M3 30h1M34 30h2M53 30h4M3 31h1M33 31h1M35 31h1M3 32h1M33 32h1M35 32h1M37 32h1M3 33h1M33 33h1M35 33h1M37 33h1M33 34h1M35 34h2M34 37h1M34 38h1M3 42h1M35 42h1M36 44h2M2 45h1M37 45h2M37 46h2M3 48h1M3 49h1"/><path stroke="#61cd72" d="M10 -2h1M19 -2h1M10 -1h1M19 -1h1M10 0h1M9 2h1M48 2h1M9 3h1M47 3h3M9 4h1M18 4h1M47 4h4M53 4h4M9 5h1M9 6h1M9 7h1M18 7h1M9 8h1M29 8h1M9 9h1M28 9h1M30 9h1M8 10h1M27 10h1M24 11h1M26 11h1M31 12h1M0 13h1M3 13h1M31 13h1M32 14h1M2 15h1M50 15h7M1 16h2M48 16h1M33 17h1M46 17h1M33 18h1M45 18h1M33 19h1M44 19h1M33 20h1M44 20h1M33 21h1M44 21h1M33 22h1M44 22h1M33 23h1M44 23h2M45 24h2M0 25h1M46 25h1M-2 26h2M34 26h1M50 26h1M47 27h3M47 28h2M52 28h1M35 29h1M36 30h1M34 31h1M37 31h1M53 31h4M34 32h1M53 32h4M34 33h1M53 33h4M34 34h1M37 34h1M53 34h4M34 35h3M53 35h4M34 36h1M53 36h4M53 37h4M53 38h4M35 41h1M36 43h2M2 44h1M38 44h2M39 45h2M2 46h1M39 46h1M37 47h1M37 48h1M53 48h4M37 49h1M53 49h4"/><path stroke="#66cd6d" d="M9 -2h1M9 -1h1M9 0h1M19 0h1M9 1h1M47 1h3M47 2h1M49 2h2M50 3h7M51 4h2M18 5h1M47 5h10M18 6h1M28 8h1M30 8h1M6 10h2M20 10h1M31 10h1M4 11h1M31 11h1M-2 12h2M3 12h1M32 13h1M2 14h1M1 15h1M33 15h1M49 15h1M33 16h1M47 16h1M44 18h1M43 19h1M43 20h1M43 21h1M43 22h1M43 23h1M34 24h1M44 24h1M1 25h1M34 25h1M45 25h1M2 26h1M46 26h1M35 27h1M46 27h1M50 27h2M35 28h1M49 28h1M36 29h1M52 29h1M37 30h1M38 31h1M41 31h1M38 32h1M38 33h1M3 34h1M35 36h1M52 36h1M35 37h1M52 37h1M52 38h1M35 39h1M52 39h5M35 40h1M52 40h5M36 42h1M38 43h1M40 44h1M41 45h1M40 46h4M53 46h4M38 47h1M53 47h4M38 48h1M38 49h1"/><path stroke="#6bcd69" d="M8 -2h1M20 -2h1M47 -2h1M8 -1h1M20 -1h1M47 -1h1M8 0h1M47 0h2M8 1h1M46 1h1M50 1h1M8 2h1M46 2h1M51 2h6M8 3h1M46 3h1M8 4h1M46 4h1M8 5h1M46 5h1M46 6h11M28 7h3M8 9h1M31 9h1M5 10h1M23 10h1M25 11h1M0 12h1M32 12h1M2 13h1M1 14h1M33 14h1M50 14h7M48 15h1M46 16h1M45 17h1M43 18h1M42 19h1M41 20h2M34 21h1M41 21h2M34 22h1M42 22h1M34 23h1M42 23h1M42 24h2M35 25h1M42 25h3M0 26h1M35 26h1M42 26h2M45 26h1M42 27h1M36 28h1M41 28h2M46 28h1M50 28h2M37 29h1M41 29h2M47 29h2M38 30h1M40 30h3M52 30h1M-2 31h2M2 31h1M39 31h2M42 31h1M52 31h1M-2 32h5M39 32h4M52 32h1M-2 33h3M2 33h1M41 33h1M52 34h1M37 35h1M52 35h1M36 36h1M51 37h1M35 38h1M51 38h1M51 39h1M51 40h1M3 41h1M36 41h1M52 41h5M37 42h1M52 42h5M2 43h1M39 43h2M53 43h4M41 44h3M53 44h4M42 45h3M53 45h4M44 46h2M39 47h6M52 47h1M39 48h1M41 48h4M52 48h1M39 49h1M41 49h4M52 49h1"/><path stroke="#71cd64" d="M7 -2h1M21 -2h1M46 -2h1M48 -2h1M7 -1h1M21 -1h1M46 -1h1M48 -1h1M7 0h1M46 0h1M49 0h2M7 1h1M19 1h1M51 1h6M7 2h1M7 3h1M45 4h1M45 5h1M8 6h1M28 6h2M45 6h1M8 7h1M46 7h11M8 8h1M31 8h1M7 9h1M27 9h1M4 10h1M3 11h1M32 11h1M1 13h1M33 13h1M50 13h7M48 14h2M47 15h1M45 16h1M43 17h2M42 18h1M34 19h1M41 19h1M34 20h1M40 21h1M40 22h2M35 23h1M41 23h1M35 24h1M41 24h1M41 25h1M1 26h1M36 26h1M41 26h1M44 26h1M-2 27h2M2 27h1M36 27h1M41 27h1M43 27h3M37 28h1M40 28h1M43 28h1M38 29h1M40 29h1M46 29h1M49 29h3M-2 30h2M2 30h1M39 30h1M0 31h2M1 33h1M39 33h2M42 33h1M52 33h1M-2 34h2M38 34h1M3 35h1M51 36h1M36 40h1M51 41h1M38 42h1M51 42h1M41 43h1M52 43h1M1 44h1M44 44h2M52 44h1M1 45h1M45 45h1M52 45h1M1 46h1M46 46h1M52 46h1M2 47h1M45 47h2M51 47h1M2 48h1M40 48h1M45 48h1M51 48h1M2 49h1M40 49h1M45 49h1M51 49h1"/><path stroke="#77cc60" d="M22 -2h1M45 -2h1M49 -2h2M22 -1h1M45 -1h1M49 -1h2M20 0h1M45 0h1M51 0h1M6 1h1M45 1h1M6 2h1M45 2h1M45 3h1M7 4h1M28 4h1M7 5h1M28 5h2M7 6h1M30 6h1M7 7h1M31 7h1M45 7h1M7 8h1M27 8h1M45 8h12M6 9h1M32 9h1M45 9h12M26 10h1M32 10h1M50 10h7M-2 11h2M50 11h7M1 12h2M33 12h1M49 12h8M48 13h2M47 14h1M46 15h1M44 16h1M42 17h1M34 18h1M41 18h1M40 19h1M40 20h1M35 21h1M39 21h1M35 22h1M39 22h1M39 23h2M36 24h1M39 24h2M36 25h2M40 25h1M37 26h1M40 26h1M0 27h1M37 27h1M40 27h1M-2 28h2M2 28h1M38 28h2M44 28h2M-2 29h2M2 29h1M39 29h1M43 29h1M0 30h2M43 30h1M47 30h5M43 31h1M51 31h1M41 34h1M51 34h1M51 35h1M36 37h1M50 38h1M36 39h1M50 39h1M3 40h1M50 40h1M37 41h1M50 41h1M2 42h1M39 42h2M50 42h1M42 43h4M50 43h2M46 44h1M51 44h1M46 45h1M51 45h1M47 46h1M51 46h1M47 47h1M50 47h1M46 48h2M50 48h1M46 49h2M50 49h1"/><path stroke="#7dcc5c" d="M6 -2h1M23 -2h1M44 -2h1M51 -2h1M6 -1h1M23 -1h1M44 -1h1M51 -1h1M6 0h1M44 0h1M52 0h5M28 2h1M6 3h1M28 3h1M44 3h1M6 4h1M29 4h1M44 4h1M6 5h1M30 5h1M44 5h1M31 6h1M44 6h1M6 7h1M27 7h1M44 7h1M6 8h1M32 8h1M44 8h1M4 9h2M22 9h1M44 9h1M3 10h1M44 10h6M0 11h3M33 11h1M45 11h5M47 12h2M47 13h1M46 14h1M45 15h1M43 16h1M34 17h1M41 17h1M35 20h1M39 20h1M38 21h1M36 22h3M36 23h3M37 24h2M38 25h2M38 26h2M1 27h1M38 27h2M0 29h1M44 29h2M46 30h1M48 31h3M43 32h1M51 32h1M51 33h1M0 34h1M2 34h1M39 34h2M42 34h1M-2 35h2M38 35h1M3 36h1M37 36h1M50 36h1M50 37h1M36 38h1M37 40h1M38 41h1M41 42h4M1 43h1M46 43h1M49 43h1M47 44h4M47 45h4M48 46h3M1 47h1M48 47h2M48 48h2M48 49h2"/><path stroke="#83cc57" d="M24 -2h1M52 -2h1M24 -1h1M52 -1h1M21 0h1M27 0h1M5 1h1M27 1h2M44 1h1M5 2h1M19 2h1M27 2h1M44 2h1M27 3h1M29 3h1M27 4h1M27 5h1M31 5h1M6 6h1M27 6h1M32 6h1M5 7h1M32 7h1M4 8h2M43 8h1M3 9h1M19 9h1M21 9h1M33 9h1M43 9h1M2 10h1M24 10h1M33 10h1M44 11h1M45 12h2M45 13h2M45 14h1M43 15h2M34 16h1M42 16h1M40 18h1M35 19h1M39 19h1M38 20h1M36 21h2M0 28h2M1 29h1M44 30h2M47 31h1M50 32h1M43 33h1M1 34h1M50 34h1M50 35h1M37 37h1M3 39h1M49 40h1M39 41h1M49 41h1M45 42h2M49 42h1M47 43h2M0 45h1M0 46h1M1 48h1M1 49h1"/><path stroke="#88cb53" d="M5 -2h1M25 -2h4M53 -2h4M5 -1h1M25 -1h4M53 -1h4M5 0h1M22 0h1M26 0h1M28 0h1M29 1h1M29 2h1M33 2h1M5 3h1M33 3h2M5 4h1M30 4h5M5 5h1M32 5h4M43 5h1M5 6h1M33 6h3M43 6h1M4 7h1M33 7h3M43 7h1M3 8h1M33 8h3M2 9h1M20 9h1M23 9h1M34 9h1M-2 10h4M25 10h1M43 10h1M43 11h1M44 12h1M44 13h1M34 14h1M43 14h2M34 15h1M42 15h1M41 16h1M38 19h1M36 20h2M44 31h3M48 32h2M50 33h1M43 34h1M0 35h1M39 35h4M-2 36h2M38 36h1M3 37h1M37 38h1M49 38h1M37 39h1M49 39h1M38 40h1M40 41h6M47 42h2M0 44h1M-2 46h2M-2 47h3M-2 48h3M-2 49h3"/><path stroke="#8ecb4f" d="M29 -2h1M43 -2h1M29 -1h1M43 -1h1M23 0h3M29 0h1M43 0h1M20 1h1M26 1h1M33 1h1M43 1h1M30 2h1M32 2h1M34 2h1M43 2h1M19 3h1M30 3h3M43 3h1M35 4h1M43 4h1M4 5h1M4 6h1M36 6h1M3 7h1M36 7h1M2 8h1M36 8h1M1 9h1M26 9h1M35 9h1M42 9h1M34 10h1M42 10h1M34 11h1M34 12h1M43 12h1M34 13h1M43 13h1M42 14h1M40 17h1M35 18h1M39 18h1M36 19h2M44 32h1M46 32h2M44 33h1M49 33h1M49 34h1M2 35h1M49 35h1M49 36h1M49 37h1M3 38h1M39 40h1M48 40h1M2 41h1M46 41h3M1 42h1M-2 45h2"/><path stroke="#94ca4a" d="M30 -2h4M30 -1h4M4 0h1M30 0h4M4 1h1M30 1h3M34 1h1M4 2h1M26 2h1M31 2h1M4 3h1M35 3h1M4 4h1M36 5h1M3 6h1M42 6h1M2 7h1M42 7h1M1 8h1M19 8h1M22 8h1M42 8h1M-2 9h3M36 9h1M42 11h1M42 12h1M42 13h1M41 15h1M38 18h1M45 32h1M47 33h2M44 34h1M48 34h1M1 35h1M43 35h1M39 36h4M38 37h1M38 39h1M48 39h1M40 40h7M0 43h1M-2 44h2"/><path stroke="#99c946" d="M4 -2h1M34 -2h1M4 -1h1M34 -1h1M34 0h1M21 1h1M25 1h1M35 2h1M26 3h1M36 4h1M3 5h1M42 5h1M19 7h1M21 8h1M26 8h1M35 10h1M41 14h1M40 16h1M35 17h1M39 17h1M45 33h2M47 34h1M44 35h1M48 35h1M0 36h1M43 36h1M48 36h1M-2 37h2M48 37h1M38 38h1M48 38h1M39 39h1M43 39h3M47 40h1M-2 43h2"/><path stroke="#9fc942" d="M42 -2h1M42 -1h1M42 0h1M24 1h1M35 1h1M42 1h1M20 2h1M42 2h1M3 3h1M36 3h1M42 3h1M3 4h1M19 4h1M26 4h1M42 4h1M19 5h1M26 5h1M2 6h1M19 6h1M26 6h1M1 7h1M26 7h1M37 7h1M-2 8h3M20 8h1M23 8h1M37 8h1M41 8h1M24 9h1M37 9h1M41 9h1M41 10h1M35 11h1M41 11h1M41 12h1M41 13h1M36 18h2M45 34h2M45 35h1M47 35h1M2 36h1M44 36h1M39 37h5M-2 38h2M43 38h2M40 39h3M46 39h2M2 40h1M1 41h1M-2 42h3"/><path stroke="#a4c83e" d="M35 -2h1M35 -1h1M3 0h1M35 0h1M3 1h1M22 1h2M3 2h1M25 2h1M36 2h1M2 5h1M1 6h1M37 6h1M0 7h1M41 7h1M25 9h1M36 10h1M40 15h1M35 16h1M39 16h1M38 17h1M46 35h1M45 36h3M44 37h4M39 38h4M45 38h3M-2 39h2M-2 40h2M-2 41h3"/><path stroke="#aac73a" d="M3 -2h1M3 -1h1M2 4h1M37 5h1M41 6h1M-2 7h2M20 7h3M40 9h1M37 10h1M40 10h1M40 11h1M35 12h1M40 14h1M35 15h1M1 36h1M0 37h1M2 39h1"/><path stroke="#afc637" d="M41 -2h1M41 -1h1M41 0h1M36 1h1M2 2h1M21 2h1M24 2h1M2 3h1M20 3h1M25 3h1M37 4h1M41 4h1M1 5h1M41 5h1M0 6h1M23 7h1M24 8h2M38 8h1M40 8h1M38 9h1M40 12h1M35 13h1M40 13h1M36 17h2M2 37h1M0 40h2"/><path stroke="#b4c533" d="M36 -2h1M36 -1h1M36 0h1M2 1h1M41 1h1M22 2h2M41 2h1M41 3h1M1 4h1M-2 6h2M20 6h1M25 7h1M38 7h1M40 7h1M39 8h1M39 9h1M38 10h2M36 11h1M35 14h1M39 15h1M38 16h1M0 38h1M2 38h1M0 39h1"/><path stroke="#bac430" d="M2 -2h1M2 -1h1M2 0h1M1 3h1M21 3h1M24 3h1M37 3h1M20 4h1M25 4h1M0 5h1M20 5h1M25 5h1M21 6h2M25 6h1M38 6h1M40 6h1M24 7h1M37 11h3M39 12h1M1 37h1M1 39h1"/><path stroke="#bfc32e" d="M37 1h1M1 2h1M37 2h1M0 4h1M-2 5h2M38 5h1M40 5h1M23 6h1M39 7h1M36 12h1M39 13h1M39 14h1M38 15h1M36 16h2M1 38h1"/><path stroke="#c4c22b" d="M37 -2h1M40 -2h1M37 -1h1M40 -1h1M37 0h1M40 0h1M22 3h2M-2 4h2M21 4h1M24 4h1M40 4h1M21 5h1M24 5h1M24 6h1M39 6h1M37 12h2"/><path stroke="#c8c129" d="M1 1h1M40 1h1M40 2h1M0 3h1M40 3h1M23 4h1M38 4h1M22 5h2M39 5h1M38 13h1M38 14h1M36 15h2"/><path stroke="#cdc028" d="M1 -2h1M38 -2h2M1 -1h1M38 -1h2M1 0h1M38 0h1M0 2h1M-2 3h2M38 3h1M22 4h1M36 13h2"/><path stroke="#d2bf27" d="M39 0h1M38 1h1M38 2h1M39 4h1M36 14h2"/><path stroke="#d6be28" d="M0 1h1M39 1h1M-2 2h2M39 2h1M39 3h1"/><path stroke="#debc2a" d="M0 0h1M-2 1h2"/><path stroke="#e2bc2b" d="M0 -2h1M0 -1h1"/><path stroke="#e6bb2d" d="M-2 0h2"/><path stroke="#eaba31" d="M-2 -2h2M-2 -1h2"/></g>
<use href="#coast"/>
</g>
<text class="l" x="24" y="35">B)</text>
<text class="t" x="-7" y="10.2" text-anchor="end">48</text>
<text class="t" x="-7" y="105.6" text-anchor="end">44</text>
<text class="t" x="-7" y="201.0" text-anchor="end">40</text>
<text class="t" x="-7" y="296.4" text-anchor="end">36</text>
<text class="t" x="-7" y="391.8" text-anchor="end">32</text>
<text class="t" x="-7" y="487.2" text-anchor="end">28</text>
<text class="a" transform="translate(-44.3,242.9) rotate(-90)" text-anchor="middle">Lat</text>
</g>
<g transform="translate(1360,31)">
<path d="M0.5,0V476.3H542" fill="none" stroke="#262626" stroke-width="1"/>
<g clip-path="url(#cp)"><g filter="url(#bl)" transform="scale(10) translate(0,0.5)" stroke-width="1.06" fill="none"><path stroke="#4759f8" d="M17 14h1"/><path stroke="#475bfa" d="M17 15h1M17 16h1"/><path stroke="#465efb" d="M17 12h1M17 13h1M17 17h1"/><path stroke="#4660fb" d="M17 11h1M17 18h1"/><path stroke="#4562fc" d="M18 14h1M18 15h1M18 16h1M16 17h1"/><path stroke="#4464fd" d="M17 10h1M16 15h1M16 16h1M18 17h1M16 18h1M17 19h1"/><path stroke="#4367fd" d="M16 14h1M16 19h1"/><path stroke="#4269fe" d="M16 11h1M16 12h1M16 13h1M18 13h1M18 18h1M17 20h1"/><path stroke="#416bfe" d="M18 19h1M16 20h1"/><path stroke="#3f6efe" d="M16 10h1M17 21h1"/><path stroke="#3d70ff" d="M19 15h1M19 16h1M19 17h1M18 20h1"/><path stroke="#3b73fe" d="M18 12h1M19 14h1M19 18h1M16 21h1M18 21h1M17 22h1"/><path stroke="#3875fe" d="M17 9h1M19 19h1"/><path stroke="#3678fe" d="M19 20h1M18 22h1"/><path stroke="#347afd" d="M16 9h1M18 11h1M15 18h1M15 19h1M19 21h1M16 22h1M17 23h1"/><path stroke="#327cfc" d="M20 17h1M20 18h1M19 22h1M18 23h1"/><path stroke="#307ffb" d="M19 13h1M20 15h1M20 16h1M15 17h1M20 19h1M15 20h1M20 20h1M20 21h1M19 23h1"/><path stroke="#2f81fa" d="M20 22h1M16 23h1M17 24h2"/><path stroke="#2e83f9" d="M20 14h1M21 19h1M21 20h1M21 21h1M20 23h1"/><path stroke="#2e85f8" d="M18 10h1M15 16h1M21 18h1M15 21h1M21 22h1M19 24h1"/><path stroke="#2d87f6" d="M21 17h1M21 23h1M16 24h1"/><path stroke="#2d8af5" d="M15 15h1M20 24h1M17 25h2"/><path stroke="#2d8cf3" d="M19 12h1M21 16h1M22 20h1M22 21h1M15 22h1"/><path stroke="#2c8ef2" d="M21 15h1M22 19h1M22 22h1M19 25h1"/><path stroke="#2c90f0" d="M20 13h1M15 14h1M22 23h1M21 24h1M16 25h1M17 26h2"/><path stroke="#2b92ee" d="M16 8h2M22 18h1M14 19h1M15 23h1"/><path stroke="#2994ed" d="M15 13h1M21 14h1M14 18h1M14 20h1M20 25h1M19 26h1"/><path stroke="#2896ec" d="M15 12h1M22 17h1"/><path stroke="#2798ea" d="M18 9h1M15 11h1M22 24h1M17 27h2"/><path stroke="#269ae9" d="M5 -2h1M5 -1h1M15 10h1M19 11h1M22 16h1M14 21h1M15 24h1M16 26h1"/><path stroke="#259ce7" d="M4 -2h1M4 -1h1M5 0h1M14 17h1M21 25h1M19 27h1"/><path stroke="#249de6" d="M6 -2h1M6 -1h1M4 0h1M4 1h2M20 12h1M21 13h1M20 26h1"/><path stroke="#249fe5" d="M3 -2h1M3 -1h1M3 0h1M6 0h1M6 1h1M4 2h2M5 3h1M22 15h1M23 20h1M23 21h1M14 22h1M23 22h1M17 28h2"/><path stroke="#22a1e4" d="M3 1h1M3 2h1M6 2h1M3 3h2M3 4h3M15 9h1M23 19h1M23 23h1M16 27h1"/><path stroke="#21a3e3" d="M7 -2h1M7 -1h1M2 1h1M2 2h1M2 3h1M6 3h1M2 4h1M15 25h1M22 25h1M19 28h1"/><path stroke="#20a5e2" d="M2 -2h1M2 -1h1M2 0h1M7 0h1M7 1h1M1 4h1M6 4h1M2 5h4M22 14h1M14 16h1M23 18h1M14 23h1M20 27h1M18 29h1"/><path stroke="#1ea7e1" d="M1 2h1M7 2h1M1 3h1M23 24h1M21 26h1M17 29h1M19 29h1"/><path stroke="#1da8e0" d="M1 0h1M1 1h1M0 3h1M7 3h1M0 4h1M1 5h1M6 5h1M2 6h4M16 7h1M19 10h1M21 12h1M13 19h1M13 20h1M16 28h1"/><path stroke="#1caadf" d="M1 -2h1M1 -1h1M0 2h1M-2 3h2M-2 4h2M7 4h1M0 5h1M20 11h1M23 17h1M15 26h1M18 30h1"/><path stroke="#1aacdd" d="M8 -2h1M8 -1h1M8 0h1M0 1h1M-2 2h2M-2 5h2M1 6h1M6 6h1M3 7h2M17 7h1M15 8h1M18 8h1M22 13h1M14 15h1M13 18h1M13 21h1M14 24h1M19 30h1"/><path stroke="#18addb" d="M0 0h1M-2 1h2M8 1h1M7 5h1M0 6h1M2 7h1M5 7h1M23 25h1M22 26h1M20 28h1M16 29h1M17 30h1"/><path stroke="#16afd9" d="M0 -2h1M0 -1h1M8 2h1M-2 6h2M1 7h1M23 16h1M13 22h1M21 27h1M18 31h2"/><path stroke="#13b0d7" d="M-2 0h2M8 3h1M7 6h1M6 7h1M3 8h2M24 21h1M15 27h1M20 29h1M19 32h1"/><path stroke="#10b2d5" d="M-2 -2h2M-2 -1h2M8 4h1M0 7h1M2 8h1M5 8h1M21 11h1M22 12h1M14 14h1M13 17h1M24 20h1M24 22h1M24 23h1M17 31h1"/><path stroke="#0cb3d3" d="M-2 7h2M1 8h1M23 15h1M24 19h1M13 23h1M24 24h1M14 25h1M23 26h1M16 30h1M20 30h1M18 32h1M19 33h1"/><path stroke="#08b4d0" d="M9 -2h1M9 -1h1M8 5h1M7 7h1M6 8h1M20 31h1"/><path stroke="#05b6ce" d="M9 0h1M0 8h1M3 9h3M14 13h1M24 18h1M24 25h1M22 27h1M15 28h1M21 28h1M20 32h1M18 33h1"/><path stroke="#03b7cb" d="M9 1h1M8 6h1M15 7h1M-2 8h2M2 9h1M19 9h1M20 10h1M14 12h1M23 14h1M17 32h1M19 34h1"/><path stroke="#01b8c9" d="M9 2h1M16 6h1M7 8h1M1 9h1M6 9h1M14 11h1M13 16h1M12 20h1M13 24h1M14 26h1M24 26h1M16 31h1M20 33h1"/><path stroke="#01b9c6" d="M9 3h1M8 7h1M22 11h1M24 17h1M12 19h1M12 21h1M23 27h1M15 29h1M21 29h1M18 34h1M20 34h1M19 35h1"/><path stroke="#02bac4" d="M9 4h1M-2 9h3M14 10h1M23 13h1M12 22h1M24 27h1M17 33h1"/><path stroke="#05bbc1" d="M10 -2h1M10 -1h1M17 6h1M18 7h1M8 8h1M7 9h1M14 9h1M21 10h1M12 18h1M12 23h1M15 30h1M21 30h1M21 31h1M16 32h1M20 35h1"/><path stroke="#08bcbe" d="M9 5h1M3 10h3M13 15h1M25 21h1M25 22h1M25 23h1M25 24h1M13 25h1M25 25h1M25 26h1M14 27h1M22 28h3M21 32h1M21 33h1M17 34h1M18 35h1M19 36h1"/><path stroke="#0cbdbc" d="M10 0h1M9 6h1M2 10h1M6 10h1M24 16h1M25 20h1M25 27h1M25 28h1M24 29h2M15 31h1M21 34h1M20 36h1"/><path stroke="#12beb9" d="M15 6h1M9 7h1M14 8h1M8 9h1M1 10h1M23 12h1M12 17h1M25 19h1M12 24h1M22 29h2M24 30h2M16 33h1M21 35h1M18 36h1M19 37h1"/><path stroke="#17bfb6" d="M10 1h1M-2 10h3M7 10h1M22 10h1M22 30h2M24 31h2M15 32h1M25 32h1M17 35h1M20 37h1"/><path stroke="#1cc0b4" d="M10 2h1M9 8h1M13 14h1M24 15h1M25 18h1M13 26h1M14 28h1M22 31h2M22 32h1M24 32h1M22 33h1M16 34h1M21 36h1M18 37h1M19 38h1"/><path stroke="#20c1b1" d="M11 -2h1M11 -1h1M10 3h1M16 5h1M14 7h1M19 8h1M20 9h1M12 16h1M26 28h1M14 29h1M26 29h1M26 30h1M26 31h1M23 32h1M26 32h1M15 33h1M23 33h3M22 34h1M17 36h1M21 37h1M20 38h1"/><path stroke="#24c2ae" d="M11 0h1M10 4h1M9 9h1M8 10h1M4 11h2M23 11h1M11 21h1M11 22h1M26 22h1M11 23h1M26 23h1M26 24h1M12 25h1M26 25h1M26 26h1M26 27h1M14 30h1M26 33h1M23 34h2M16 35h1M22 35h1M22 36h1M18 38h1M19 39h1"/><path stroke="#28c2ab" d="M10 5h1M10 6h1M3 11h1M6 11h1M13 13h1M25 17h1M11 20h1M26 20h1M26 21h1M14 31h1M15 34h1M25 34h1M23 35h1M16 36h1M17 37h1M21 38h1M18 39h1M20 39h1M19 40h1"/><path stroke="#2bc3a8" d="M12 -2h1M12 -1h1M11 1h1M15 5h1M14 6h1M10 7h1M10 8h1M21 9h1M9 10h1M-2 11h5M7 11h1M13 11h1M13 12h1M24 14h1M12 15h1M11 19h1M26 19h1M11 24h1M13 27h1M14 32h1M14 33h1M26 34h1M15 35h1M24 35h1M23 36h1M22 37h1M17 38h1M21 39h1M18 40h1M20 40h1M19 41h1"/><path stroke="#2dc4a5" d="M12 0h1M17 5h1M18 6h1M10 9h1M13 9h1M13 10h1M8 11h1M11 18h1M12 26h1M27 31h1M27 32h1M27 33h1M14 34h1M14 35h1M25 35h1M15 36h1M16 37h1M22 38h1M17 39h1M17 40h1M18 41h1M20 41h1M18 42h2"/><path stroke="#2fc5a2" d="M13 -2h1M13 -1h1M11 2h1M13 8h1M22 9h1M10 10h1M23 10h1M11 17h1M27 30h1M13 32h1M13 33h1M13 34h1M27 34h1M13 35h1M26 35h1M14 36h1M24 36h1M15 37h1M23 37h1M16 38h1M16 39h1M21 40h1M17 41h1M17 42h1M18 43h2M19 44h1"/><path stroke="#32c69f" d="M13 0h1M12 1h1M11 3h1M14 5h1M13 7h1M9 11h1M24 13h1M12 14h1M25 16h1M26 18h1M11 25h1M13 28h1M27 28h1M27 29h1M49 29h2M49 30h1M13 31h1M12 33h1M12 34h1M12 35h1M12 36h2M25 36h1M13 37h2M14 38h2M23 38h1M15 39h1M22 39h1M16 40h1M16 41h1M20 42h1M17 43h1M18 44h1M18 45h2"/><path stroke="#34c79c" d="M14 -2h2M14 -1h2M12 2h1M11 4h1M15 4h2M11 5h1M11 6h1M13 6h1M11 7h1M11 8h2M11 9h2M11 10h2M10 11h1M12 11h1M5 12h3M12 12h1M12 13h1M11 16h1M10 22h1M27 22h1M10 23h1M27 23h1M27 24h1M27 25h1M27 26h1M27 27h1M50 28h1M13 29h1M13 30h1M48 30h1M50 30h1M49 31h1M12 32h1M11 34h1M11 35h1M11 36h1M12 37h1M24 37h1M12 38h2M12 39h3M13 40h3M15 41h1M21 41h1M15 42h2M16 43h1M20 43h1M17 44h1M19 46h1"/><path stroke="#36c898" d="M16 -2h1M16 -1h1M14 0h2M13 1h1M13 2h1M12 3h1M14 4h1M12 5h2M12 6h1M12 7h1M11 11h1M-2 12h2M4 12h1M8 12h3M24 12h1M11 15h1M10 21h1M27 21h1M10 24h1M12 27h1M49 28h1M48 29h1M48 31h1M50 31h1M11 33h1M27 35h1M26 36h1M11 37h1M11 38h1M11 39h1M23 39h1M12 40h1M22 40h1M12 41h3M13 42h2M15 43h1M16 44h1M20 44h1M17 45h1M18 46h1M19 47h1M19 48h1M19 49h1"/><path stroke="#39c895" d="M14 1h1M14 2h1M13 3h3M12 4h2M0 12h1M2 12h2M11 12h1M11 13h1M11 14h1M26 17h1M10 20h1M27 20h1M11 26h1M12 31h1M11 32h1M28 32h1M48 32h2M28 33h1M25 37h1M24 38h1M11 40h1M11 41h1M12 42h1M21 42h1M12 43h3M15 44h1M16 45h1M20 45h1M17 46h1M20 46h1M18 47h1M18 48h1M18 49h1"/><path stroke="#3cc991" d="M16 0h1M15 1h1M15 2h1M16 3h1M17 4h1M1 12h1M10 13h1M25 15h1M10 19h1M27 19h1M10 25h1M12 28h1M48 28h1M51 28h1M12 29h1M51 29h1M12 30h1M28 31h1M50 32h1M28 34h1M27 36h1M26 37h1M25 38h1M24 39h1M23 40h1M22 41h1M11 42h1M11 43h1M21 43h1M12 44h3M15 45h1M20 47h1M20 48h1M20 49h1"/><path stroke="#3fca8e" d="M17 -2h1M17 -1h1M16 1h1M16 2h1M18 5h1M19 7h1M23 9h1M24 11h1M8 13h2M10 14h1M10 15h1M10 16h1M10 17h1M10 18h1M11 27h1M50 27h1M28 30h1M47 30h1M51 30h1M11 31h1M47 31h1M10 33h1M48 33h2M10 34h1M10 35h1M28 35h1M10 36h1M10 37h1M10 38h1M24 40h1M23 41h1M22 42h1M11 44h1M21 44h1M12 45h3M16 46h1M17 47h1M17 48h1M17 49h1"/><path stroke="#44ca8a" d="M20 8h1M5 13h3M27 18h1M10 26h1M51 27h1M28 29h1M47 29h1M11 30h1M10 32h1M47 32h1M27 37h1M26 38h1M10 39h1M25 39h1M10 40h1M24 41h1M11 45h1M21 45h1M12 46h4M16 47h1"/><path stroke="#48cb86" d="M17 0h1M17 3h1M-2 13h2M9 14h1M26 16h1M9 22h1M9 23h1M49 27h1M11 28h1M28 28h1M11 29h1M10 31h1M51 31h1M50 33h1M28 36h1M27 38h1M26 39h1M25 40h1M10 41h1M25 41h1M10 42h1M23 42h1M22 43h1M11 46h1M21 46h1M12 47h1M15 47h1M21 47h1M16 48h1M21 48h1M16 49h1M21 49h1"/><path stroke="#4dcb82" d="M17 1h1M17 2h1M0 13h1M4 13h1M8 14h1M25 14h1M9 15h1M9 16h1M9 20h1M9 21h1M9 24h1M9 25h1M28 26h1M10 27h1M28 27h1M52 27h1M47 28h1M52 28h1M47 33h1M48 34h2M27 39h1M26 40h1M26 41h1M24 42h2M10 43h1M23 43h1M10 44h1M22 44h1M11 47h1M13 47h2M11 48h5M11 49h5"/><path stroke="#52cc7e" d="M24 10h1M1 13h1M3 13h1M7 14h1M9 17h1M27 17h1M9 18h1M9 19h1M28 21h1M28 22h1M28 23h1M28 24h1M53 24h4M28 25h1M53 25h4M9 26h1M51 26h2M10 28h1M10 29h1M52 29h1M10 30h1M51 32h1M29 33h1M50 34h1M9 36h1M9 37h1M28 37h1M27 40h1M27 41h1M26 42h1M24 43h3M23 44h1M10 45h1M22 45h1"/><path stroke="#57cc7a" d="M18 -2h1M18 -1h1M18 4h1M21 8h1M2 13h1M25 13h1M6 14h1M8 15h1M28 20h1M52 25h1M50 26h1M53 26h4M9 27h1M48 27h1M52 30h1M29 32h1M9 33h1M9 34h1M29 34h1M47 34h1M9 35h1M9 38h1M28 38h1M9 39h1M9 40h1M27 42h1M27 43h1M24 44h3M10 46h1M22 46h1M22 47h1"/><path stroke="#5ccc76" d="M18 0h1M18 3h1M22 8h1M-2 14h2M5 14h1M6 15h2M26 15h1M8 16h1M8 17h1M28 19h1M53 27h4M9 28h1M9 29h1M9 30h1M46 30h1M9 31h1M29 31h1M9 32h1M51 33h1M29 35h1M48 35h2M28 39h1M28 40h1M9 41h1M28 41h1M28 42h1M27 44h1M23 45h4M23 46h1M10 47h1M10 48h1M22 48h1M10 49h1M22 49h1"/><path stroke="#61cd72" d="M18 1h1M18 2h1M0 14h1M4 14h1M-2 15h2M6 16h2M7 17h1M8 18h1M8 19h1M8 20h1M8 21h1M8 22h1M8 23h1M53 23h4M8 24h1M8 25h1M8 26h1M7 27h2M8 28h1M53 28h4M46 29h1M29 30h1M46 31h1M52 31h1M50 35h1M9 42h1M9 43h1M28 43h1M28 44h1M27 45h1M24 46h2M23 47h1M23 48h1M23 49h1"/><path stroke="#66cd6d" d="M19 6h1M24 9h1M25 12h1M5 15h1M-2 16h2M27 16h1M6 17h1M7 18h1M28 18h1M7 19h1M52 24h1M7 25h1M51 25h1M6 26h2M49 26h1M6 27h1M6 28h2M8 29h1M29 29h1M46 32h1M51 34h1M47 35h1M29 36h1M9 44h1M28 45h1M26 46h2M24 47h1"/><path stroke="#6bcd69" d="M19 -2h1M21 -2h2M19 -1h1M21 -1h2M23 8h1M1 14h1M3 14h1M26 14h1M0 15h1M4 15h1M5 16h1M-2 17h2M5 17h1M-2 18h2M6 18h1M-2 19h2M6 19h1M6 20h2M7 21h1M7 22h1M7 23h1M7 24h1M6 25h1M5 26h1M5 27h1M47 27h1M5 28h1M46 28h1M7 29h1M53 29h4M8 30h1M52 32h1M46 33h1M48 36h2M8 37h1M29 37h1M8 38h1M8 39h1M9 45h1M25 47h1M24 48h2M24 49h2"/><path stroke="#71cd64" d="M20 -2h1M20 -1h1M19 0h1M25 11h1M2 14h1M0 16h1M28 17h1M5 18h1M5 19h1M-2 20h2M6 21h1M6 22h1M6 23h1M6 24h1M5 25h1M29 28h1M53 30h4M8 31h1M8 32h1M30 33h1M52 33h1M8 35h1M51 35h1M8 36h1M47 36h1M50 36h1M29 38h1M29 39h1M8 40h1M29 40h1M8 41h1M29 41h1M29 42h1M29 43h1M29 44h1M9 46h1M28 46h1M26 47h2M26 48h1M26 49h1"/><path stroke="#77cc60" d="M19 1h1M1 15h1M3 15h1M27 15h1M4 16h1M0 17h1M4 17h1M5 20h1M-2 21h2M5 21h1M-2 22h2M5 22h1M5 23h1M52 23h1M5 24h1M50 25h1M4 27h1M29 27h1M6 29h1M53 31h4M30 32h1M8 33h1M8 34h1M30 34h1M46 34h1M48 37h2M8 42h1M29 45h1M9 47h1M9 48h1M27 48h1M9 49h1M27 49h1"/><path stroke="#7dcc5c" d="M23 -2h1M23 -1h1M20 0h1M19 2h1M19 3h1M19 5h1M26 13h1M2 15h1M0 18h1M4 18h1M0 19h1M4 19h1M-2 23h2M51 24h1M29 25h1M4 26h1M29 26h1M48 26h1M4 28h1M7 30h1M30 31h1M52 34h1M30 35h1M46 35h1M51 36h1M50 37h1M7 40h1M8 43h1M29 46h1M28 47h1M28 48h1M28 49h1"/><path stroke="#83cc57" d="M21 0h1M19 4h1M20 7h1M25 10h1M1 16h1M3 16h1M0 20h1M4 20h1M29 20h1M0 21h1M29 21h1M29 22h1M53 22h4M29 23h1M-2 24h2M29 24h1M4 25h1M5 29h1M30 30h1M45 30h1M53 32h4M30 36h1M47 37h1M7 38h1M7 39h1M7 41h1M30 41h1M7 42h1M30 42h1M30 43h1M8 44h1M30 44h1M30 45h1M29 47h1M51 47h2M51 48h2M51 49h2"/><path stroke="#88cb53" d="M24 8h1M2 16h1M28 16h1M1 17h1M3 17h1M3 18h1M29 19h1M4 21h1M0 22h1M4 22h1M4 23h1M4 24h1M3 27h1M3 28h1M4 29h1M45 29h1M6 30h1M7 31h1M45 31h1M45 32h1M53 33h4M52 35h1M46 36h1M7 37h1M30 37h1M51 37h1M48 38h3M30 39h1M30 40h1M7 43h1M8 45h1M30 46h1M50 47h1M53 47h4M29 48h1M50 48h1M53 48h4M29 49h1M50 49h1M53 49h4"/><path stroke="#8ecb4f" d="M22 0h1M20 1h1M26 12h1M27 14h1M2 17h1M1 18h1M29 18h1M1 19h1M3 19h1M0 23h1M-2 25h2M49 25h1M3 26h1M46 27h1M30 29h1M31 33h1M45 33h1M53 34h4M7 36h1M52 36h1M30 38h1M47 38h1M49 39h1M6 40h1M6 41h1M6 42h1M6 43h1M31 43h1M7 44h1M31 44h1M8 46h1M51 46h6M30 47h1"/><path stroke="#94ca4a" d="M24 -2h1M24 -1h1M25 9h1M2 18h1M2 19h1M1 20h1M3 20h1M3 21h1M0 24h1M50 24h1M3 25h1M-2 26h2M47 26h1M30 28h1M45 28h1M3 29h1M7 32h1M31 32h1M31 34h1M45 34h1M7 35h1M31 35h1M53 35h4M46 37h1M51 38h1M6 39h1M48 39h1M50 39h1M31 42h1M6 44h1M7 45h1M31 45h1M51 45h6M31 46h1M50 46h1M8 47h1M8 48h1M30 48h1M8 49h1M30 49h1"/><path stroke="#99c946" d="M26 11h1M28 15h1M29 17h1M2 20h1M1 21h1M1 22h1M3 22h1M52 22h1M3 23h1M51 23h1M3 24h1M0 25h1M0 26h1M-2 27h2M2 27h1M2 28h1M5 30h1M31 31h1M7 33h1M7 34h1M45 35h1M31 36h1M53 36h4M52 37h1M6 38h1M47 39h1M51 39h1M31 40h1M48 40h3M31 41h1M5 42h1M5 43h1M5 44h1M52 44h5M5 45h2M50 45h1M7 46h1M31 47h1M49 47h1M31 48h1M49 48h1M31 49h1M49 49h1"/><path stroke="#9fc942" d="M23 0h1M20 2h1M27 13h1M2 21h1M2 22h1M1 23h1M1 24h1M1 25h2M1 26h2M0 27h2M30 27h1M1 28h1M2 29h1M4 30h1M31 30h1M6 31h1M32 33h1M45 36h1M6 37h1M31 37h1M53 37h4M31 38h1M46 38h1M52 38h1M31 39h1M52 39h1M51 40h1M5 41h1M49 41h3M32 43h1M51 43h6M32 44h1M50 44h2M32 45h1M5 46h2M32 46h1M49 46h1M6 47h2M7 48h1M7 49h1"/><path stroke="#a4c83e" d="M20 3h1M22 7h2M53 21h4M2 23h1M2 24h1M48 25h1M30 26h1M-2 28h3M1 29h1M31 29h1M44 29h1M3 30h1M44 30h1M44 31h1M32 32h1M32 34h1M32 35h1M45 37h1M53 38h4M46 39h1M53 39h4M5 40h1M47 40h1M52 40h5M48 41h1M52 41h5M32 42h1M49 42h8M50 43h1M4 44h1M49 44h1M4 45h1M49 45h1M4 46h1M5 47h1M32 47h1M5 48h2M32 48h1M5 49h2M32 49h1"/><path stroke="#aac73a" d="M25 -2h1M25 -1h1M21 1h1M21 7h1M26 10h1M27 12h1M28 14h1M29 16h1M30 25h1M-2 29h3M1 30h2M32 31h1M44 32h1M44 33h1M6 36h1M32 36h1M45 38h1M5 39h1M32 40h1M32 41h1M47 41h1M48 42h1M4 43h1M49 43h1M33 44h1M33 45h1M3 46h1M48 46h1M4 47h1M48 47h1M4 48h1M48 48h1M4 49h1M48 49h1"/><path stroke="#afc637" d="M25 8h1M30 24h1M49 24h1M46 26h1M45 27h1M31 28h1M44 28h1M-2 30h3M32 30h1M5 31h1M6 32h1M33 33h1M33 34h1M44 34h1M44 35h1M32 37h1M32 38h1M32 39h1M46 40h1M4 42h1M33 42h1M33 43h1M48 43h1M48 44h1M3 45h1M48 45h1M33 46h1M3 47h1M33 47h1M3 48h1M33 48h1M3 49h1M33 49h1"/><path stroke="#b4c533" d="M24 0h1M20 4h1M20 6h1M24 7h1M29 15h1M30 19h1M30 20h1M30 21h1M30 22h1M51 22h1M30 23h1M50 23h1M43 30h1M-2 31h7M43 31h1M33 32h1M43 32h1M43 33h1M6 35h1M33 35h1M44 36h1M44 37h1M5 38h1M45 39h1M33 41h1M47 42h1M47 43h1M3 44h1M2 46h1M2 47h1M47 47h1M2 48h1M47 48h1M2 49h1M47 49h1"/><path stroke="#bac430" d="M26 -2h1M26 -1h1M26 9h1M27 11h1M28 13h1M30 18h1M52 21h1M31 27h1M32 29h1M43 29h1M33 31h1M0 32h1M6 33h1M6 34h1M43 34h1M43 35h1M33 36h1M43 36h1M43 37h1M44 38h1M33 40h1M45 40h1M4 41h1M46 41h1M34 43h1M34 44h1M47 44h1M2 45h1M34 45h1M47 45h1M34 46h1M47 46h1M34 47h1M46 48h1M46 49h1"/><path stroke="#bfc32e" d="M22 1h1M21 2h1M20 5h1M30 17h1M47 25h1M31 26h1M32 28h1M43 28h1M33 30h1M42 31h1M-2 32h2M1 32h1M42 32h1M34 33h1M42 33h1M34 34h1M42 34h1M42 35h1M42 36h1M5 37h1M33 37h1M42 37h1M33 38h1M42 38h2M33 39h1M44 39h1M34 42h1M46 42h1M3 43h1M46 46h1M1 47h1M46 47h1M1 48h1M34 48h1M45 48h1M1 49h1M34 49h1M45 49h1"/><path stroke="#c4c22b" d="M25 0h1M28 12h1M29 14h1M31 25h1M44 27h1M42 29h1M42 30h1M2 32h1M5 32h1M34 32h1M-2 33h3M41 34h1M34 35h1M41 35h1M41 36h1M41 37h1M41 38h1M42 39h2M4 40h1M44 40h1M34 41h1M45 41h1M35 43h1M46 43h1M2 44h1M35 44h1M46 44h1M35 45h1M46 45h1M1 46h1M35 46h1M44 47h2M44 48h1M44 49h1"/><path stroke="#c8c129" d="M27 -2h1M27 -1h1M21 3h1M26 8h1M27 10h1M30 16h1M53 20h4M31 24h1M48 24h1M45 26h1M32 27h1M33 29h1M34 31h1M3 32h2M41 32h1M1 33h1M41 33h1M-2 34h2M5 36h1M34 36h1M40 36h1M34 37h1M40 37h1M40 38h1M34 39h1M41 39h1M34 40h1M41 40h3M44 41h1M3 42h1M35 42h1M45 42h1M1 45h1M45 46h1M35 47h1M43 47h1M35 48h1M43 48h1M35 49h1M43 49h1"/><path stroke="#cdc028" d="M26 0h1M23 1h1M23 6h1M25 7h1M28 11h1M29 13h1M31 21h1M31 22h1M50 22h1M31 23h1M49 23h1M32 26h1M33 28h1M42 28h1M41 31h1M0 34h1M40 34h1M-2 35h2M5 35h1M40 35h1M34 38h1M4 39h1M40 39h1M35 41h1M41 41h3M42 42h3M2 43h1M45 43h1M36 44h1M45 44h1M36 45h1M45 45h1M36 46h1M43 46h2M0 47h1M42 47h1M0 48h1M42 48h1M0 49h1M42 49h1"/><path stroke="#d2bf27" d="M27 9h1M30 15h1M31 18h1M31 19h1M31 20h1M51 21h1M32 25h1M46 25h1M33 27h1M43 27h1M34 30h1M41 30h1M2 33h1M5 33h1M35 33h1M40 33h1M5 34h1M35 34h1M35 35h1M39 36h1M39 37h1M39 38h1M39 39h1M35 40h1M40 40h1M40 41h1M36 42h1M41 42h1M36 43h1M41 43h4M1 44h1M42 44h3M42 45h3M0 46h1M42 46h1M-2 47h2M36 47h1M-2 48h2M36 48h1M-2 49h2M36 49h1"/><path stroke="#d6be28" d="M27 0h1M22 2h1M22 6h1M24 6h1M29 12h1M30 14h1M31 17h1M52 20h1M32 24h1M33 26h1M34 29h1M41 29h1M35 32h1M40 32h1M3 33h2M1 34h1M39 34h1M39 35h1M-2 36h2M35 36h1M38 36h1M35 37h1M38 37h1M4 38h1M35 38h1M38 38h1M35 39h1M38 39h1M38 40h2M3 41h1M36 41h1M37 42h1M40 42h1M37 43h1M37 44h1M41 44h1M37 45h1M41 45h1M37 46h1M41 46h1M37 47h1M41 47h1M37 48h1M41 48h1M37 49h1M41 49h1"/><path stroke="#dabd28" d="M28 -2h1M28 -1h1M24 1h1M21 4h1M21 6h1M28 10h1M29 11h1M31 16h1M32 23h1M33 25h1M44 26h1M42 27h1M41 28h1M35 31h1M40 31h1M39 33h1M4 34h1M0 35h1M38 35h1M37 36h1M-2 37h2M4 37h1M37 37h1M37 38h1M36 39h2M36 40h2M37 41h3M2 42h1M38 42h2M1 43h1M40 43h1M40 44h1M0 45h1M40 45h1M-2 46h2M40 46h1M38 47h1M40 47h1M38 48h1M40 48h1M38 49h1M40 49h1"/><path stroke="#debc2a" d="M26 7h1M27 8h1M30 13h1M31 15h1M32 21h1M32 22h1M49 22h1M33 24h1M47 24h1M34 28h1M35 30h1M40 30h1M36 33h1M38 33h1M2 34h2M36 34h3M4 35h1M36 35h2M4 36h1M36 36h1M36 37h1M-2 38h2M36 38h1M3 40h1M38 43h2M0 44h1M38 44h2M38 45h2M38 46h2M39 47h1M39 48h1M39 49h1"/><path stroke="#e2bc2b" d="M28 0h1M25 1h1M22 3h1M21 5h1M25 6h1M28 9h1M29 10h1M30 12h1M31 14h1M32 18h1M32 19h1M53 19h4M32 20h1M50 21h1M33 23h1M48 23h1M45 25h1M43 26h1M34 27h1M41 27h1M40 29h1M36 32h1M39 32h1M37 33h1M0 36h1M-2 39h2M-2 45h2"/><path stroke="#e6bb2d" d="M26 1h2M23 2h1M30 11h1M31 13h1M32 16h1M32 17h1M51 20h1M33 22h1M34 26h1M42 26h1M40 28h1M35 29h1M36 31h1M39 31h1M37 32h2M1 35h1M3 35h1M-2 40h2M2 41h1M1 42h1M0 43h1M-2 44h2"/><path stroke="#eaba31" d="M22 5h2M27 7h1M28 8h1M29 9h1M30 10h1M31 11h1M31 12h1M32 14h1M32 15h1M52 19h1M33 21h1M46 24h1M34 25h1M35 28h1M39 30h1M37 31h2M2 35h1M0 37h1M3 39h1M-2 41h2M-2 42h3M-2 43h2"/><path stroke="#eeba34" d="M22 4h1M24 5h1M26 6h1M30 9h1M31 10h1M32 12h1M32 13h1M33 20h1M49 21h1M48 22h1M34 24h1M44 25h1M41 26h1M35 27h1M40 27h1M39 29h1M36 30h1M3 36h1M0 38h1M0 41h2"/><path stroke="#f1ba37" d="M29 -2h1M29 -1h1M28 1h1M24 2h1M23 3h1M28 7h1M29 8h1M31 9h1M32 11h1M53 18h4M33 19h1M50 20h1M34 23h1M47 23h1M43 25h1M35 26h1M36 29h1M37 30h2M1 36h1M3 37h1M3 38h1M0 39h1M0 40h1M2 40h1"/><path stroke="#f4ba3a" d="M29 0h1M25 2h3M23 4h1M25 5h1M27 6h1M30 8h1M32 10h1M33 13h1M33 14h1M33 15h1M33 16h1M33 17h1M33 18h1M51 19h1M34 22h1M35 25h1M42 25h1M40 26h1M36 28h1M39 28h1M37 29h2M2 36h1"/><path stroke="#f8ba3d" d="M28 2h1M24 3h1M26 5h1M28 6h1M29 7h1M31 8h1M32 9h1M33 11h1M33 12h1M53 17h4M52 18h1M49 20h1M34 21h1M48 21h1M35 24h1M45 24h1M41 25h1M36 27h1M39 27h1M37 28h2M1 40h1"/><path stroke="#fabb3d" d="M29 1h1M26 3h2M24 4h1M27 5h1M29 6h1M30 7h1M32 8h1M33 10h1M53 16h4M52 17h1M50 19h1M47 22h1M35 23h1M46 23h1M40 25h1M36 26h1M39 26h1M37 27h2M1 37h1M1 39h2"/><path stroke="#fcbd3d" d="M25 3h1M28 3h1M26 4h2M28 5h1M30 6h1M31 7h1M33 9h1M53 14h4M52 15h5M52 16h1M51 18h1M49 19h1M34 20h1M48 20h1M47 21h1M41 24h4M36 25h1M39 25h1M37 26h2M2 37h1M1 38h2"/><path stroke="#febe3c" d="M29 2h1M25 4h1M28 4h1M29 5h1M31 6h1M32 7h1M33 8h1M53 12h4M52 13h5M51 14h2M51 15h1M51 16h1M51 17h1M34 18h1M50 18h1M34 19h1M48 19h1M47 20h1M35 22h1M46 22h1M45 23h1M36 24h1M39 24h2M37 25h2"/><path stroke="#fec13a" d="M30 -2h1M30 -1h1M29 3h1M29 4h1M30 5h1M52 11h5M34 12h1M51 12h2M34 13h1M50 13h2M34 14h1M50 14h1M34 15h1M49 15h2M34 16h1M48 16h3M34 17h1M47 17h4M47 18h3M47 19h1M46 20h1M46 21h1M39 23h3M37 24h2"/><path stroke="#fec338" d="M30 0h1M30 1h1M30 4h1M31 5h1M32 6h1M33 7h1M34 10h1M52 10h5M34 11h1M51 11h1M50 12h1M49 13h1M48 14h2M47 15h2M46 16h2M45 17h2M45 18h2M45 19h2M45 20h1M35 21h1M45 21h1M41 22h1M45 22h1M36 23h3M42 23h3"/><path stroke="#fec537" d="M30 2h1M30 3h1M32 5h1M33 6h1M53 8h4M34 9h1M51 9h6M50 10h2M49 11h2M48 12h2M47 13h2M46 14h2M45 15h2M45 16h1M44 17h1M43 18h2M43 19h2M35 20h1M42 20h3M41 21h4M36 22h1M38 22h3M42 22h3"/><path stroke="#fec835" d="M31 -2h1M31 -1h1M31 0h1M31 3h1M31 4h1M53 7h4M34 8h1M52 8h1M50 9h1M49 10h1M47 11h2M45 12h3M45 13h2M45 14h1M44 15h1M44 16h1M43 17h1M42 18h1M42 19h1M41 20h1M40 21h1M37 22h1"/><path stroke="#feca33" d="M32 -2h1M32 -1h1M32 0h1M31 1h1M31 2h1M32 3h1M32 4h1M33 5h1M53 5h4M53 6h4M34 7h1M52 7h1M50 8h2M49 9h1M45 10h4M45 11h2M44 12h1M44 13h1M44 14h1M43 15h1M43 16h1M42 17h1M35 18h1M35 19h1M41 19h1M40 20h1M36 21h1M38 21h2"/><path stroke="#fdcc32" d="M33 -2h1M33 -1h1M33 0h1M32 1h1M32 2h1M33 3h1M33 4h1M53 4h4M52 5h1M34 6h1M52 6h1M50 7h2M45 8h2M48 8h2M45 9h4M44 10h1M44 11h1M43 14h1M35 16h1M42 16h1M35 17h1M41 18h1M40 19h1M39 20h1M37 21h1"/><path stroke="#fccf30" d="M34 -2h1M34 -1h1M34 0h1M33 1h2M33 2h1M53 2h4M53 3h4M52 4h1M34 5h1M50 6h2M45 7h5M44 8h1M47 8h1M44 9h1M35 11h1M35 12h1M43 12h1M35 13h1M43 13h1M35 14h1M35 15h1M42 15h1M41 17h1M36 20h3"/><path stroke="#fbd12f" d="M35 -2h1M35 -1h1M35 0h1M53 1h4M34 2h1M52 2h1M34 3h1M52 3h1M34 4h1M51 4h1M45 5h2M50 5h2M44 6h6M44 7h1M35 8h1M35 9h1M35 10h1M43 10h1M43 11h1M42 14h1M41 16h1M40 18h1M36 19h1M39 19h1"/><path stroke="#fad42e" d="M36 -2h1M42 -2h15M36 -1h1M42 -1h15M42 0h15M35 1h1M44 1h6M51 1h2M35 2h1M45 2h4M51 2h1M45 3h7M44 4h7M44 5h1M47 5h3M35 6h1M35 7h1M43 7h1M43 8h1M43 9h1M42 13h1M41 15h1M40 17h1M37 19h2"/><path stroke="#f9d62d" d="M41 -2h1M41 -1h1M36 0h1M41 0h1M36 1h1M42 1h2M50 1h1M42 2h3M49 2h2M35 3h1M43 3h2M35 4h1M43 4h1M35 5h1M43 5h1M43 6h1M42 11h1M42 12h1M41 14h1M40 16h1M36 18h1M39 18h1"/><path stroke="#f8d92c" d="M37 -2h1M40 -2h1M37 -1h1M40 -1h1M37 0h1M41 1h1M36 2h1M42 3h1M42 4h1M42 8h1M42 9h1M42 10h1M41 13h1M36 16h1M36 17h1M39 17h1M37 18h2"/><path stroke="#f7dc2a" d="M38 -2h2M38 -1h2M40 0h1M37 1h1M41 2h1M36 3h1M36 4h1M36 5h1M42 5h1M36 6h1M42 6h1M36 7h1M42 7h1M36 8h1M36 9h1M36 10h1M36 11h1M41 11h1M36 12h1M41 12h1M36 13h1M36 14h1M36 15h1M40 15h1M39 16h1M37 17h2"/><path stroke="#f6de29" d="M38 0h2M40 1h1M37 2h1M41 3h1M41 4h1M41 5h1M41 6h1M41 7h1M41 8h1M41 9h1M41 10h1M40 13h1M40 14h1M37 16h2"/><path stroke="#f6e128" d="M38 1h2M40 2h1M37 3h1M37 4h1M37 5h1M37 6h1M37 7h1M37 8h1M37 9h1M40 9h1M37 10h1M40 10h1M37 11h1M40 11h1M40 12h1M37 14h1M37 15h3"/><path stroke="#f5e327" d="M38 2h2M40 3h1M40 4h1M40 5h1M40 6h1M40 7h1M38 8h1M40 8h1M38 9h2M38 10h2M38 11h2M37 12h3M37 13h1M39 13h1M38 14h2"/><path stroke="#f5e626" d="M38 3h2M38 4h1M38 5h1M38 6h2M38 7h2M39 8h1M38 13h1"/><path stroke="#f5e825" d="M39 4h1M39 5h1"/></g>
<use href="#coast"/>
</g>
<text class="l" x="24" y="35">C)</text>
<text class="t" x="-7" y="10.2" text-anchor="end">48</text>
<text class="t" x="-7" y="105.6" text-anchor="end">44</text>
<text class="t" x="-7" y="201.0" text-anchor="end">40</text>
<text class="t" x="-7" y="296.4" text-anchor="end">36</text>
<text class="t" x="-7" y="391.8" text-anchor="end">32</text>
<text class="t" x="-7" y="487.2" text-anchor="end">28</text>
<text class="a" transform="translate(-44.3,242.9) rotate(-90)" text-anchor="middle">Lat</text>
</g>
<g transform="translate(1918,31)">
<rect x="0.5" y="0.5" width="37" height="476" fill="url(#cb)" stroke="#262626" stroke-width="1"/>
<text class="c" x="46" y="8.2">103</text>
<path d="M32,53.4H37.5" stroke="#262626" stroke-width="1"/>
<text class="c" x="46" y="61.1">102.5</text>
<path d="M32,106.3H37.5" stroke="#262626" stroke-width="1"/>
<text class="c" x="46" y="114.0">102</text>
<path d="M32,159.2H37.5" stroke="#262626" stroke-width="1"/>
<text class="c" x="46" y="166.9">101.5</text>
<path d="M32,212.1H37.5" stroke="#262626" stroke-width="1"/>
<text class="c" x="46" y="219.8">101</text>
<path d="M32,264.9H37.5" stroke="#262626" stroke-width="1"/>
<text class="c" x="46" y="272.6">100.5</text>
<path d="M32,317.8H37.5" stroke="#262626" stroke-width="1"/>
<text class="c" x="46" y="325.5">100</text>
<path d="M32,370.7H37.5" stroke="#262626" stroke-width="1"/>
<text class="c" x="46" y="378.4">99.5</text>
<path d="M32,423.6H37.5" stroke="#262626" stroke-width="1"/>
<text class="c" x="46" y="431.3">99</text>
<text class="c" x="46" y="484.2">98.5</text>
<text class="ca" transform="translate(125,240) rotate(-90)" text-anchor="middle">p [kPa]</text>
</g>
<g transform="translate(84,565)">
<path d="M0.5,0V476.3H542" fill="none" stroke="#262626" stroke-width="1"/>
<g clip-path="url(#cp)"><g filter="url(#bl)" transform="scale(10) translate(0,0.5)" stroke-width="1.06" fill="none"><path stroke="#3f29b2" d="M26 13h1M26 14h2M26 15h2M27 16h1"/><path stroke="#402bb6" d="M26 12h2M27 13h1M26 16h1M26 17h2"/><path stroke="#412dbb" d="M26 11h2M25 13h1M25 14h1M25 15h1M27 18h1"/><path stroke="#422ebf" d="M26 10h2M25 12h1M28 15h1M25 16h1M28 16h1M28 17h1M26 18h1"/><path stroke="#4230c4" d="M25 11h1M28 13h1M28 14h1M25 17h1M28 18h1M27 19h1"/><path stroke="#4331c8" d="M26 9h2M25 10h1M28 12h1M25 18h1M26 19h1"/><path stroke="#4433cc" d="M28 11h1"/><path stroke="#4435d0" d="M25 9h1M28 10h1M28 19h1"/><path stroke="#4536d5" d="M24 13h1M24 14h1M25 19h1"/><path stroke="#4538d8" d="M24 12h1M24 15h1M29 16h1M29 17h1M26 20h2"/><path stroke="#463adc" d="M26 8h2M28 9h1M24 11h1M29 14h1M29 15h1M24 16h1M29 18h1"/><path stroke="#463cdf" d="M25 8h1M24 10h1M24 17h1"/><path stroke="#473fe2" d="M24 9h1M29 13h1M24 18h1M25 20h1M28 20h1"/><path stroke="#4741e5" d="M29 12h1M29 19h1"/><path stroke="#4743e7" d="M26 21h2"/><path stroke="#4745e9" d="M24 8h1M28 8h1M29 11h1M24 19h1"/><path stroke="#4747ec" d="M25 7h2M29 10h1M23 12h1M23 13h1M23 14h1M30 16h1M30 17h1M25 21h1"/><path stroke="#484aee" d="M27 7h1M23 10h1M23 11h1M23 15h1M30 15h1M30 18h1M28 21h1"/><path stroke="#484cef" d="M24 7h1M23 9h1M30 14h1M23 16h1M24 20h1M29 20h1"/><path stroke="#484ef1" d="M29 9h1M30 13h1M23 17h1M26 22h1"/><path stroke="#4850f3" d="M23 8h1M30 19h1M27 22h1"/><path stroke="#4853f4" d="M28 7h1M30 12h1M23 18h1M25 22h1"/><path stroke="#4755f6" d="M25 6h2M23 7h1M24 21h1"/><path stroke="#4757f7" d="M24 6h1M29 8h1M22 9h1M22 10h1M22 11h1M30 11h1M22 12h1M22 13h1M22 14h1M23 19h1M28 22h1"/><path stroke="#4759f8" d="M27 6h1M22 8h1M22 15h1M31 15h1M31 16h1M31 17h1M29 21h1"/><path stroke="#475bfa" d="M23 6h1M22 7h1M30 10h1M31 14h1M31 18h1M30 20h1M26 23h2"/><path stroke="#465efb" d="M31 13h1M22 16h1M23 20h1M24 22h1M25 23h1"/><path stroke="#4660fb" d="M22 6h1M31 12h1M22 17h1"/><path stroke="#4562fc" d="M24 5h2M28 6h1M29 7h1M21 9h1M30 9h1M21 10h1M21 11h1M21 12h1M21 13h1M31 19h1"/><path stroke="#4464fd" d="M23 5h1M21 8h1M31 11h1M21 14h1M22 18h1M23 21h1M28 23h1"/><path stroke="#4367fd" d="M22 5h1M26 5h1M31 10h1M21 15h1M29 22h1"/><path stroke="#4269fe" d="M21 7h1M30 8h1M21 16h1M22 19h1M30 21h1M24 23h1M26 24h2"/><path stroke="#416bfe" d="M27 5h1M31 9h2M32 10h1M32 11h1M32 12h1M32 13h1M32 14h1M32 15h1M32 16h1M32 17h1M23 22h1M25 24h1"/><path stroke="#3f6efe" d="M21 6h1M33 9h1M20 10h1M20 11h1M20 12h1M21 17h1M32 18h1M22 20h1M31 20h1"/><path stroke="#3d70ff" d="M29 6h1M31 8h3M20 9h1M33 10h1M20 13h1M20 14h1M21 18h1M28 24h1"/><path stroke="#3b73fe" d="M28 5h1M30 7h1M33 7h1M20 8h1M33 11h1M20 15h1"/><path stroke="#3875fe" d="M23 4h2M21 5h1M33 6h1M32 7h1M32 19h1M22 21h1M29 23h1M24 24h1"/><path stroke="#3678fe" d="M25 4h1M31 7h1M33 12h1M20 16h1M21 19h1M30 22h1M23 23h1M26 25h2"/><path stroke="#347afd" d="M22 4h1M33 5h1M32 6h1M20 7h1M34 8h1M34 9h1M33 13h1M20 17h1M25 25h1"/><path stroke="#327cfc" d="M26 4h1M30 6h1M34 6h1M34 7h1M33 14h1M33 15h1M33 16h1M21 20h1M31 21h1M22 22h1M28 25h1"/><path stroke="#307ffb" d="M29 5h1M31 6h1M34 10h1M33 17h1M20 18h1M32 20h1M29 24h1"/><path stroke="#2f81fa" d="M27 4h1M33 4h1M32 5h1M34 5h1M20 6h1M19 10h1M19 11h1M34 11h1M19 12h1M19 13h1M33 18h1"/><path stroke="#2e83f9" d="M34 4h1M19 9h1M19 14h1M20 19h1M23 24h1M24 25h1"/><path stroke="#2e85f8" d="M30 5h2M34 12h1M19 15h1M21 21h1M22 23h1M30 23h1M26 26h2"/><path stroke="#2d87f6" d="M28 4h1M32 4h1M19 8h1M19 16h1M33 19h1M31 22h1M29 25h1M25 26h1M28 26h1"/><path stroke="#2d8af5" d="M33 3h2M21 4h1M20 5h1M35 5h1M35 6h1M35 7h1M35 8h1M34 13h1M19 17h1"/><path stroke="#2d8cf3" d="M29 4h1M35 4h1M35 9h1M34 14h1M20 20h1M32 21h1M21 22h1"/><path stroke="#2c8ef2" d="M31 4h1M35 10h1M34 15h1M34 16h1M19 18h1M30 24h1"/><path stroke="#2c90f0" d="M34 2h1M32 3h1M35 3h1M30 4h1M19 7h1M34 17h1M33 20h1M23 25h1M29 26h1"/><path stroke="#2b92ee" d="M33 2h1M35 2h1M24 3h1M35 11h1M34 18h1M22 24h1M30 25h1M24 26h1M26 27h2"/><path stroke="#2994ed" d="M25 3h1M35 12h1M19 19h1M20 21h1M31 23h1M28 27h1"/><path stroke="#2896ec" d="M23 3h1M26 3h1M31 3h1M36 3h1M36 4h1M36 5h1M35 13h1M32 22h1M21 23h1M25 27h1"/><path stroke="#2798ea" d="M34 1h2M32 2h1M36 2h1M19 6h1M36 6h1M34 19h1M30 26h1M29 27h1"/><path stroke="#269ae9" d="M33 1h1M36 1h1M27 3h1M36 7h1M18 12h1M35 14h1M33 21h1M31 24h1"/><path stroke="#259ce7" d="M35 0h2M28 3h3M20 4h1M36 8h1M18 10h1M18 11h1M18 13h1M18 14h1M35 15h1M19 20h1M20 22h1M30 27h1"/><path stroke="#249de6" d="M35 -2h2M35 -1h2M34 0h1M18 9h1M36 9h1M18 15h1M35 16h1M22 25h1M31 25h1M23 26h1M24 27h1M27 28h2"/><path stroke="#249fe5" d="M32 1h1M31 2h1M22 3h1M36 10h1M18 16h1M35 17h1M34 20h1M32 23h1M21 24h1M31 26h1M26 28h1M29 28h1"/><path stroke="#22a1e4" d="M34 -2h1M34 -1h1M33 0h1M37 0h1M37 1h1M37 2h1M37 3h1M19 5h1M36 11h1M36 12h1M25 28h1"/><path stroke="#21a3e3" d="M37 -2h1M37 -1h1M37 4h1M36 13h1M18 17h1M35 18h1M19 21h1M33 22h1M20 23h1M31 27h1M30 28h1"/><path stroke="#20a5e2" d="M33 -2h1M33 -1h1M30 2h1M37 5h1M18 8h1M36 14h1M18 18h1M32 24h1"/><path stroke="#1ea7e1" d="M31 1h1M36 15h1M32 25h1"/><path stroke="#1da8e0" d="M32 0h1M37 6h1M18 19h1M35 19h1M34 21h1M31 28h1"/><path stroke="#1caadf" d="M38 0h1M38 1h1M37 7h1M36 16h1M19 22h1M21 25h1M22 26h1M32 26h1M23 27h1M24 28h1M27 29h3"/><path stroke="#1aacdd" d="M32 -2h1M38 -2h1M32 -1h1M38 -1h1M29 2h1M38 2h1M33 23h1M32 27h1M26 29h1"/><path stroke="#18addb" d="M25 2h2M38 3h1M18 7h1M37 8h1M37 9h1M37 12h1M36 17h1M20 24h1M25 29h1M30 29h1"/><path stroke="#16afd9" d="M31 0h1M30 1h1M24 2h1M27 2h2M21 3h1M38 4h1M37 10h1M37 11h1M37 13h1M37 14h1M18 20h1M35 20h1M33 24h1M32 28h1"/><path stroke="#13b0d7" d="M19 4h1M36 18h1M34 22h1M31 29h1"/><path stroke="#10b2d5" d="M38 5h1M17 12h1M17 13h1M37 15h1M19 23h1M33 25h1M33 26h1"/><path stroke="#0cb3d3" d="M31 -2h1M31 -1h1M17 11h1M17 14h1M18 21h1M23 28h1M24 29h1"/><path stroke="#08b4d0" d="M39 -2h1M39 -1h1M39 0h1M39 1h1M18 6h1M38 6h1M17 10h1M17 15h1M17 16h1M37 16h1M36 19h1M21 26h1M22 27h1M33 27h1M26 30h4"/><path stroke="#05b6ce" d="M23 2h1M39 2h1M35 21h1M34 23h1M20 25h1M33 28h1M32 29h1M30 30h1"/><path stroke="#03b7cb" d="M29 1h1M39 3h1M38 7h1M17 9h1M38 13h1M38 14h1M17 17h1M25 30h1"/><path stroke="#01b8c9" d="M30 0h1M38 11h1M38 12h1M37 17h1M17 18h1M18 22h1M19 24h1M34 24h1"/><path stroke="#01b9c6" d="M39 4h1M38 8h1M38 10h1M36 20h1M34 25h1M31 30h1"/><path stroke="#02bac4" d="M20 3h1M38 9h1M38 15h1M17 19h1M35 22h1M34 26h1M23 29h1M24 30h1"/><path stroke="#05bbc1" d="M30 -2h1M30 -1h1M39 5h1M37 18h1M21 27h1M34 27h1M22 28h1M33 29h1"/><path stroke="#08bcbe" d="M28 1h1M18 5h1M17 8h1M38 16h1M17 20h1M18 23h1M20 26h1M34 28h1M26 31h3"/><path stroke="#0cbdbc" d="M39 6h1M19 25h1M32 30h1M25 31h1M29 31h1"/><path stroke="#12beb9" d="M40 -2h1M40 -1h1M40 0h1M25 1h3M40 1h1M39 13h1M39 14h1M37 19h1M36 21h1M35 23h1M23 30h1M30 31h1"/><path stroke="#17bfb6" d="M29 0h1M22 2h1M40 2h1M39 7h1M39 12h1M16 14h1M17 21h1M22 29h1M24 31h1"/><path stroke="#1cc0b4" d="M40 3h1M39 11h1M16 12h1M16 13h1M16 15h1M38 17h1M18 24h1M35 24h1M34 29h1M31 31h1"/><path stroke="#20c1b1" d="M24 1h1M40 4h1M17 7h1M39 8h1M39 10h1M16 11h1M39 15h1M16 16h1M16 17h1M37 20h1M35 25h1M35 26h1M20 27h1M21 28h1M33 30h1"/><path stroke="#24c2ae" d="M39 9h1M16 10h1M16 18h1M17 22h1M36 22h1M19 26h1M35 27h1M23 31h1M26 32h2"/><path stroke="#28c2ab" d="M19 3h1M40 5h1M38 18h1M35 28h1M22 30h1M32 31h1M25 32h1M28 32h2"/><path stroke="#2bc3a8" d="M29 -2h1M29 -1h1M18 4h1M40 6h1M39 16h1M16 19h1M37 21h1M18 25h1M24 32h1"/><path stroke="#2dc4a5" d="M16 9h1M16 20h1M17 23h1M36 23h1M21 29h1M34 30h1M30 32h1"/><path stroke="#2fc5a2" d="M41 -2h1M41 -1h1M41 0h1M40 7h1M40 12h1M40 13h1M40 14h1M38 19h1M19 27h1M20 28h1M35 29h1M22 31h1M23 32h1"/><path stroke="#32c69f" d="M28 0h1M23 1h1M41 1h1M41 2h1M40 8h1M40 10h1M40 11h1M39 17h1M16 21h1M17 24h1M36 24h1M18 26h1M21 30h1M33 31h1M31 32h1"/><path stroke="#34c79c" d="M41 3h1M17 6h1M40 9h1M15 13h1M15 14h1M15 15h1M40 15h1M15 16h1M15 17h1M15 18h1M38 20h1M37 22h1M36 25h1M36 26h1M36 27h1M22 32h1M24 33h5"/><path stroke="#36c898" d="M41 4h1M15 19h1M16 22h1M36 28h1M20 29h1M21 31h1M32 32h1M23 33h1M29 33h1"/><path stroke="#39c895" d="M41 5h1M16 8h1M15 12h1M39 18h1M37 23h1M17 25h1M35 30h1M34 31h1M30 33h1M25 34h2"/><path stroke="#3cc991" d="M27 0h1M21 2h1M41 6h1M41 7h1M15 11h1M40 16h1M15 20h1M38 21h1M16 23h1M18 27h1M19 28h1M20 30h1M21 32h1M22 33h1M23 34h2M27 34h2"/><path stroke="#3fca8e" d="M28 -2h1M28 -1h1M41 8h1M15 21h1M37 24h1M17 26h1M36 29h1M20 31h1M33 32h1M21 33h1M31 33h1M22 34h1M29 34h1M24 35h3"/><path stroke="#44ca8a" d="M42 -2h1M42 -1h1M26 0h1M42 0h1M41 9h1M41 10h1M41 11h1M41 12h1M41 13h1M14 16h1M14 17h1M14 18h1M39 19h1M38 22h1M16 24h1M18 28h1M19 29h1M20 32h1M21 34h1M30 34h1M22 35h2M27 35h2"/><path stroke="#48cb86" d="M25 0h1M42 1h1M42 2h1M15 10h1M14 14h1M41 14h1M14 15h1M40 17h1M14 19h1M15 22h1M37 25h1M17 27h1M19 30h1M35 31h1M20 33h1M21 35h1M29 35h1M22 36h7"/><path stroke="#4dcb82" d="M42 3h1M42 4h1M17 5h1M14 20h1M39 20h1M15 23h1M38 23h1M16 25h1M37 26h1M18 29h1M18 30h1M19 31h1M19 32h1M32 33h1M20 34h1M31 34h1M20 35h1M30 35h1M21 36h1M29 36h1M21 37h8M23 38h5"/><path stroke="#52cc7e" d="M18 3h1M42 5h1M42 6h1M16 7h1M42 7h1M15 9h1M14 13h1M41 15h1M14 21h1M15 24h1M16 26h1M37 27h1M17 28h1M17 29h1M36 30h1M18 31h1M18 32h1M34 32h1M18 33h2M19 34h1M19 35h1M20 36h1M30 36h1M20 37h1M29 37h1M21 38h2M28 38h2M22 39h7M22 40h7"/><path stroke="#57cc7a" d="M42 8h1M42 9h1M42 10h1M42 11h1M13 17h1M13 18h1M40 18h1M13 19h1M39 21h1M14 22h1M38 24h1M15 25h1M16 27h1M17 30h1M17 31h1M17 32h1M17 33h1M33 33h1M17 34h2M32 34h1M18 35h1M31 35h1M19 36h1M19 37h1M30 37h1M20 38h1M30 38h1M20 39h2M29 39h1M21 40h1M29 40h1M22 41h7M22 42h6"/><path stroke="#5ccc76" d="M27 -2h1M27 -1h1M24 0h1M22 1h1M14 12h1M42 12h1M42 13h1M13 16h1M41 16h1M13 20h1M14 23h1M16 28h1M37 28h1M16 29h1M16 30h1M16 31h1M16 32h1M16 33h1M16 34h1M17 35h1M18 36h1M31 36h1M18 37h1M31 37h1M19 38h1M30 39h1M20 40h1M30 40h1M21 41h1M29 41h1M21 42h1M28 42h1M22 43h7"/><path stroke="#61cd72" d="M43 -2h1M43 -1h1M43 0h1M43 1h1M43 2h1M43 3h1M42 14h1M13 15h1M40 19h1M13 21h1M13 22h1M39 22h1M14 24h1M15 26h1M15 27h1M36 31h1M15 32h1M35 32h1M15 33h1M16 35h1M32 35h1M17 36h1M18 38h1M31 38h1M19 39h1M31 39h1M19 40h1M20 41h1M30 41h1M29 42h1M21 43h1M22 44h6"/><path stroke="#66cd6d" d="M26 -2h1M26 -1h1M20 2h1M43 4h1M43 5h1M43 6h1M43 10h1M43 11h1M43 12h1M13 14h1M41 17h1M13 23h1M14 25h1M38 25h1M15 28h1M15 29h1M37 29h1M15 30h1M15 31h1M34 33h1M15 34h1M33 34h1M11 35h1M15 35h1M16 36h1M32 36h1M17 37h1M32 37h1M18 39h1M31 40h1M19 41h1M20 42h1M30 42h1M20 43h1M29 43h1M21 44h1M28 44h1M22 45h2M27 45h1"/><path stroke="#6bcd69" d="M43 7h1M15 8h1M43 8h1M43 9h1M14 11h1M43 13h1M12 17h1M12 18h1M12 19h1M12 20h1M39 23h1M13 24h1M14 26h1M14 31h1M14 32h1M11 33h4M11 34h4M10 35h1M12 35h1M14 35h1M33 35h1M10 36h3M15 36h1M9 37h3M16 37h1M7 38h4M17 38h1M32 38h1M7 39h1M18 40h1M31 41h1M19 42h1M30 43h1M20 44h1M29 44h1M2 45h1M21 45h1M24 45h3M28 45h1M22 46h1M5 48h1M5 49h1"/><path stroke="#71cd64" d="M17 4h1M13 13h1M42 15h1M12 16h1M40 20h1M12 21h1M12 22h1M13 25h1M38 26h1M14 27h1M14 28h1M14 29h1M14 30h1M12 32h2M10 33h1M10 34h1M34 34h1M13 35h1M9 36h1M13 36h2M33 36h1M8 37h1M12 37h1M15 37h1M6 38h1M11 38h1M16 38h1M6 39h1M8 39h3M17 39h1M32 39h1M6 40h4M32 40h1M6 41h2M18 41h1M31 42h1M19 43h1M2 44h2M3 45h1M20 45h1M29 45h1M2 46h3M21 46h1M23 46h1M26 46h3M3 47h4M4 48h1M6 48h1M4 49h1M6 49h1"/><path stroke="#77cc60" d="M25 -2h1M25 -1h1M23 0h1M44 0h1M44 1h1M44 2h1M16 6h1M44 11h1M44 12h1M44 13h1M43 14h1M12 15h1M41 18h1M12 23h1M13 26h1M37 30h1M13 31h1M11 32h1M36 32h1M35 33h1M9 34h1M9 35h1M34 35h1M8 36h1M7 37h1M13 37h2M33 37h1M5 38h1M12 38h2M15 38h1M33 38h1M5 39h1M11 39h1M16 39h1M5 40h1M10 40h1M17 40h1M5 41h1M8 41h2M17 41h1M32 41h1M4 42h5M18 42h1M2 43h3M4 44h1M19 44h1M30 44h1M4 45h1M5 46h2M20 46h1M24 46h2M2 47h1M7 47h1M22 47h1M27 47h1M3 48h1M7 48h2M22 48h1M3 49h1M7 49h2M22 49h1"/><path stroke="#7dcc5c" d="M44 -2h1M44 -1h1M44 3h1M44 4h1M44 5h1M44 9h1M14 10h1M44 10h1M12 14h1M42 16h1M40 21h1M12 24h1M39 24h1M13 27h1M38 27h1M13 29h1M13 30h1M12 31h1M10 32h1M35 34h1M8 35h1M34 36h1M6 37h1M14 38h1M12 39h2M15 39h1M33 39h1M11 40h1M16 40h1M4 41h1M10 41h1M3 42h1M9 42h1M17 42h1M32 42h1M5 43h5M18 43h1M31 43h1M5 44h4M18 44h1M1 45h1M5 45h4M19 45h1M30 45h1M1 46h1M7 46h2M29 46h1M8 47h2M21 47h1M23 47h1M26 47h1M28 47h1M2 48h1M9 48h1M21 48h1M23 48h1M27 48h2M2 49h1M9 49h1M21 49h1M23 49h1M27 49h2"/><path stroke="#83cc57" d="M19 2h1M44 6h1M44 7h1M44 8h1M13 12h1M44 14h1M11 18h1M11 19h1M41 19h1M11 20h1M11 21h1M11 22h1M12 25h1M13 28h1M12 30h1M11 31h1M9 33h1M7 36h1M5 37h1M34 37h1M14 39h1M4 40h1M12 40h1M15 40h1M33 40h1M11 41h1M16 41h1M2 42h1M10 42h1M10 43h1M17 43h1M1 44h1M9 44h2M31 44h1M9 45h1M18 45h1M9 46h1M19 46h1M1 47h1M10 47h1M20 47h1M24 47h2M29 47h1M10 48h1M20 48h1M24 48h1M26 48h1M29 48h1M10 49h1M20 49h1M24 49h1M26 49h1M29 49h1"/><path stroke="#88cb53" d="M24 -2h1M24 -1h1M15 7h1M43 15h1M11 16h1M11 17h1M40 22h1M11 23h1M12 26h1M38 28h1M37 31h1M36 33h1M8 34h1M35 35h1M6 36h1M34 38h1M4 39h1M13 40h2M3 41h1M12 41h1M15 41h1M33 41h1M11 42h1M16 42h1M1 43h1M11 43h1M16 43h1M32 43h1M17 44h1M10 45h1M17 45h1M10 46h2M18 46h1M30 46h1M11 47h1M19 47h1M1 48h1M11 48h1M19 48h1M25 48h1M1 49h1M11 49h1M19 49h1M25 49h1"/><path stroke="#8ecb4f" d="M-2 -2h2M-2 -1h2M14 9h1M45 11h1M45 12h1M12 13h1M45 13h1M42 17h1M11 24h1M39 25h1M12 27h1M12 28h1M12 29h1M11 30h1M10 31h1M9 32h1M7 35h1M35 36h1M35 37h1M4 38h1M34 39h1M13 41h2M12 42h1M15 42h1M33 42h1M12 43h1M11 44h1M16 44h1M32 44h1M11 45h1M31 45h1M0 46h1M17 46h1M0 47h1M12 47h1M18 47h1M30 47h1M0 48h1M12 48h1M18 48h1M30 48h1M0 49h1M12 49h1M18 49h1M30 49h1"/><path stroke="#94ca4a" d="M0 -2h1M0 -1h1M-2 0h2M45 9h1M45 10h1M13 11h1M11 15h1M41 20h1M40 23h1M11 25h1M8 33h1M36 34h1M5 36h1M35 38h1M3 40h1M34 40h1M2 41h1M1 42h1M13 42h2M13 43h3M12 44h2M15 44h1M0 45h1M12 45h1M15 45h2M12 46h2M15 46h2M31 46h1M-2 47h2M13 47h5M-2 48h2M13 48h5M-2 49h2M13 49h5"/><path stroke="#99c946" d="M45 -2h1M45 -1h1M45 0h1M45 1h1M45 2h1M45 3h1M45 4h1M16 5h1M45 5h1M45 6h1M45 7h1M45 8h1M11 14h1M45 14h1M10 18h1M10 19h1M10 20h1M10 21h1M10 22h1M10 23h1M11 26h1M11 29h1M38 29h1M10 30h1M9 31h1M37 32h1M7 34h1M6 35h1M36 35h1M4 37h1M34 41h1M33 43h1M0 44h1M14 44h1M13 45h2M32 45h1M14 46h1"/><path stroke="#9fc942" d="M23 -2h1M0 0h1M-2 1h2M21 1h1M17 3h1M14 8h1M12 12h1M44 15h1M43 16h1M10 17h1M42 18h1M-2 20h2M-2 21h2M-2 22h2M10 24h1M39 26h1M11 27h1M11 28h1M8 32h1M36 36h1M36 37h1M3 39h1M35 39h1M33 44h1M-2 46h2M31 47h1M31 48h1M31 49h1"/><path stroke="#a4c83e" d="M1 -2h1M1 -1h1M23 -1h1M22 0h1M-2 2h2M15 6h1M13 10h1M10 16h1M-2 18h2M-2 19h3M0 20h1M0 21h1M41 21h1M0 22h1M-2 23h2M40 24h1M10 25h1M10 29h1M9 30h1M38 30h1M7 33h1M5 35h1M4 36h1M3 38h1M2 40h1M35 40h1M1 41h1M34 42h1M0 43h1M-2 45h2M32 46h1"/><path stroke="#aac73a" d="M0 1h1M18 2h1M-2 3h2M46 9h1M46 10h1M46 11h1M46 12h1M11 13h1M46 13h1M10 15h1M-2 17h3M0 18h1M1 19h1M0 23h1M-2 24h2M10 26h1M8 31h1M37 33h1M6 34h1M36 38h1M33 45h1"/><path stroke="#afc637" d="M1 0h1M0 2h1M-2 4h2M-2 5h2M-2 6h2M46 6h1M-2 7h2M46 7h1M-2 8h2M46 8h1M-2 9h2M-2 10h3M-2 15h3M-2 16h3M1 17h1M1 18h1M9 18h1M9 19h1M42 19h1M1 20h1M9 20h1M1 21h1M9 21h1M9 22h1M41 22h1M9 23h1M0 24h1M9 24h1M-2 25h2M10 27h1M39 27h1M10 28h1M9 29h1M7 32h1M37 34h1M4 35h1M3 37h1M2 39h1M36 39h1M35 41h1M0 42h1M34 43h1M-2 44h2M32 47h1M32 48h1M32 49h1"/><path stroke="#b4c533" d="M22 -2h1M0 3h1M46 3h1M46 4h1M46 5h1M0 6h1M0 7h1M14 7h1M0 8h1M0 9h1M13 9h1M-2 11h3M12 11h1M-2 12h3M-2 13h3M-2 14h3M10 14h1M46 14h1M1 15h1M45 15h1M1 16h1M2 17h1M9 17h1M43 17h1M2 18h1M2 19h1M2 20h1M1 22h1M9 25h1M-2 26h2M8 30h1M7 31h1M38 31h1M0 33h2M6 33h1M5 34h1M3 35h1M37 35h1M3 36h1M1 40h1M-2 43h2M34 44h1M33 46h1"/><path stroke="#bac430" d="M2 -2h1M2 -1h1M1 1h1M46 1h1M46 2h1M0 4h1M0 5h1M1 9h1M1 10h1M1 11h1M1 12h1M11 12h1M1 13h1M1 14h1M2 15h1M2 16h1M44 16h1M3 17h1M3 18h1M3 19h1M42 20h1M2 21h1M1 23h1M0 25h1M40 25h1M9 26h1M9 27h1M9 28h1M8 29h1M7 30h1M-2 32h5M6 32h1M-2 33h2M2 33h1M-2 34h7M2 35h1M37 36h1M2 38h1M36 40h1M0 41h1M-2 42h2M35 42h1"/><path stroke="#bfc32e" d="M21 -2h1M46 -2h1M22 -1h1M46 -1h1M2 0h1M46 0h1M1 2h1M16 4h1M1 7h1M1 8h1M47 9h1M47 10h1M47 11h1M10 13h1M2 14h1M3 16h1M9 16h1M4 17h1M4 18h1M4 19h1M8 19h1M3 20h1M8 20h1M8 21h1M2 22h1M8 22h1M8 23h1M41 23h1M1 24h1M0 26h1M-2 27h2M39 28h1M6 29h2M-2 30h2M6 30h1M-2 31h5M6 31h1M3 32h1M38 32h1M3 33h2M-2 35h4M2 36h1M2 37h1M37 37h1M1 39h1M0 40h1M-2 41h2M34 45h1M33 47h1M33 48h1M33 49h1"/><path stroke="#c4c22b" d="M20 1h1M1 3h1M15 5h1M1 6h1M47 7h1M13 8h1M47 8h1M12 10h1M2 12h1M47 12h1M2 13h1M3 15h1M9 15h1M4 16h1M5 18h1M8 18h1M43 18h1M5 19h3M4 20h1M3 21h1M42 21h1M2 23h1M8 24h1M1 25h1M8 25h1M8 26h1M0 27h1M7 27h2M-2 28h2M5 28h4M-2 29h3M5 29h1M0 30h2M4 30h2M3 31h3M4 32h2M5 33h1M-2 36h4M37 38h1M-2 40h2M36 41h1M35 43h1"/><path stroke="#c8c129" d="M20 -2h1M21 0h1M2 1h1M1 4h1M1 5h1M47 5h1M14 6h1M47 6h1M2 10h1M2 11h1M47 13h1M3 14h1M9 14h1M46 15h1M5 17h1M8 17h1M6 18h2M5 20h3M4 21h1M7 21h1M3 22h1M7 22h1M2 24h1M7 25h1M1 26h1M6 26h2M40 26h1M4 27h3M0 28h1M4 28h1M3 29h2M39 29h1M2 30h2M38 33h1M-2 37h4M-2 38h4M-2 39h3M37 39h1M34 46h1"/><path stroke="#cdc028" d="M21 -1h1M19 1h1M17 2h1M47 4h1M2 8h1M2 9h1M11 11h1M10 12h1M3 13h1M47 14h1M4 15h1M5 16h1M8 16h1M45 16h1M6 17h2M5 21h2M4 22h1M3 23h1M7 23h1M7 24h1M41 24h1M2 25h1M6 25h1M2 26h1M4 26h2M1 27h1M3 27h1M1 28h1M3 28h1M1 29h2M38 34h1M37 40h1M36 42h1M35 44h1M34 47h1"/><path stroke="#d2bf27" d="M3 -2h1M3 -1h1M2 2h1M47 2h1M47 3h1M2 7h1M13 7h1M48 8h1M12 9h1M48 9h1M48 10h1M48 11h1M3 12h1M4 14h1M6 16h2M44 17h1M43 19h1M5 22h2M42 22h1M4 23h1M6 23h1M3 24h2M6 24h1M3 25h3M3 26h1M2 27h1M2 28h1M39 30h1M38 35h1M35 45h1M34 48h1M34 49h1"/><path stroke="#d6be28" d="M19 -2h1M3 0h1M47 1h1M2 3h1M16 3h1M2 5h1M2 6h1M48 7h1M3 11h1M48 12h1M9 13h1M5 15h2M8 15h1M5 23h1M5 24h1M38 36h1M38 37h1M37 41h1M36 43h1"/><path stroke="#dabd28" d="M47 -2h1M20 -1h1M47 -1h1M20 0h1M47 0h1M3 1h1M18 1h1M2 4h1M15 4h1M14 5h1M48 5h1M48 6h1M3 10h1M11 10h1M10 11h1M4 13h1M48 13h1M5 14h1M8 14h1M7 15h1M43 20h1M40 27h1M39 31h1M38 38h1M35 46h1"/><path stroke="#debc2a" d="M18 -2h1M19 -1h1M48 4h1M13 6h1M12 8h1M49 8h1M3 9h1M49 9h1M49 10h1M9 12h1M6 14h2M47 15h1M46 16h1M42 23h1M41 25h1M39 32h1M38 39h1M37 42h1M36 44h1M35 47h1M35 48h1M35 49h1"/><path stroke="#e2bc2b" d="M4 -2h1M4 -1h1M19 0h1M3 2h1M48 3h1M3 7h1M49 7h1M3 8h1M49 11h1M4 12h1M49 12h1M5 13h1M8 13h1M48 14h1M45 17h1M44 18h1M43 21h1M39 33h1M38 40h1M37 43h1M36 45h1"/><path stroke="#e6bb2d" d="M18 -1h1M4 0h1M18 0h1M17 1h1M48 1h1M48 2h1M3 3h1M3 4h1M14 4h1M3 5h1M13 5h1M3 6h1M49 6h1M12 7h1M11 9h1M10 10h1M4 11h1M6 13h2M49 13h1M40 28h1M39 34h1M38 41h1M36 46h1"/><path stroke="#eaba31" d="M48 -2h1M48 -1h1M48 0h1M4 1h1M16 2h1M15 3h1M49 4h1M49 5h1M50 9h1M50 10h1M9 11h1M50 11h1M8 12h1M47 16h1M43 22h1M42 24h1M40 29h1M39 35h1M39 36h1M38 42h1M37 44h1M36 47h1M36 48h1M36 49h1"/><path stroke="#eeba34" d="M17 -2h1M17 -1h1M4 2h1M49 3h1M12 6h1M50 7h1M11 8h1M50 8h1M4 10h1M5 12h1M50 12h1M49 14h1M48 15h1M46 17h1M43 23h1M41 26h1M39 37h1M39 38h1M38 43h1M37 45h1"/><path stroke="#f1ba37" d="M17 0h1M49 2h1M4 3h1M13 4h1M12 5h1M50 6h1M4 9h1M10 9h1M9 10h1M51 10h1M51 11h1M6 12h2M50 13h1M44 19h1M40 30h1M39 39h1M38 44h1M37 46h1"/><path stroke="#f4ba3a" d="M5 -2h1M49 -2h1M5 -1h1M49 -1h1M5 0h1M49 0h1M49 1h1M14 3h1M4 4h1M50 4h1M4 5h1M50 5h1M4 6h1M4 7h1M11 7h1M4 8h1M51 8h1M51 9h1M5 11h1M8 11h1M51 12h1M45 18h1M44 20h1M43 24h1M42 25h1M40 31h1M40 32h1M39 40h1M39 41h1M38 45h1M37 47h1M37 48h1M37 49h1"/><path stroke="#f8ba3d" d="M5 1h1M16 1h1M5 2h1M15 2h1M13 3h1M50 3h1M12 4h1M11 6h1M51 6h1M51 7h1M10 8h1M9 9h1M5 10h1M52 10h1M6 11h2M52 11h1M52 12h1M51 13h1M50 14h1M49 15h1M48 16h1M47 17h1M44 21h1M44 22h1M41 27h1M40 33h1M40 34h1M39 42h1M39 43h1M38 46h1"/><path stroke="#fabb3d" d="M16 -2h1M16 -1h1M16 0h1M50 2h1M5 3h1M11 5h1M51 5h1M10 7h1M52 8h1M52 9h1M8 10h1M53 11h4M53 12h4M52 13h1M51 14h1M46 18h1M44 23h1M40 35h1M40 36h1M39 44h1M39 45h1M38 47h1M38 48h1M38 49h1"/><path stroke="#fcbd3d" d="M6 -2h1M50 -2h1M6 -1h1M50 -1h1M6 0h1M50 0h1M6 1h1M50 1h1M6 2h1M14 2h1M12 3h1M5 4h1M11 4h1M51 4h1M5 5h1M10 6h1M9 7h1M52 7h1M9 8h1M5 9h1M8 9h1M53 9h4M6 10h2M53 10h4M53 13h4M52 14h1M45 19h1M44 24h1M43 25h1M42 26h1M40 37h1M40 38h1M39 46h1"/><path stroke="#febe3c" d="M7 1h1M15 1h1M7 2h1M13 2h1M6 3h1M11 3h1M51 3h1M6 4h1M10 4h1M9 5h2M52 5h1M5 6h1M9 6h1M52 6h1M5 7h1M5 8h1M8 8h1M53 8h4M6 9h2M53 14h4M50 15h1M49 16h1M48 17h1M45 20h1M45 21h1M45 22h1M41 28h1M40 39h1M40 40h1M40 41h1M39 47h2M39 48h2M39 49h2"/><path stroke="#fec13a" d="M7 -2h1M15 -2h1M7 -1h1M15 -1h1M7 0h1M15 0h1M14 1h1M8 2h1M12 2h1M51 2h1M7 3h4M7 4h3M52 4h1M6 5h3M6 6h3M53 6h4M6 7h3M53 7h4M6 8h2M47 18h1M46 19h1M45 23h1M45 24h1M44 25h1M41 29h1M40 42h1M40 43h1M40 44h1M40 45h1M53 45h4M40 46h1M53 46h4M41 47h16M41 48h16M41 49h16"/><path stroke="#fec338" d="M8 0h1M8 1h2M13 1h1M51 1h1M9 2h3M52 3h1M53 5h4M51 15h1M46 20h1M46 21h1M46 22h1M43 26h1M41 30h1M41 31h1M41 32h1M41 33h1M41 34h1M41 35h1M53 43h4M53 44h4M41 46h1M52 46h1"/><path stroke="#fec537" d="M8 -2h1M51 -2h1M8 -1h1M51 -1h1M9 0h1M51 0h1M10 1h3M53 4h4M52 15h1M50 16h1M48 18h1M47 19h1M46 23h1M46 24h1M45 25h1M44 26h1M42 27h1M41 36h1M41 37h1M53 42h4M41 44h1M52 44h1M41 45h1M52 45h1M42 46h10"/><path stroke="#fec835" d="M9 -2h1M9 -1h1M10 0h1M14 0h1M52 2h1M53 3h4M53 15h4M49 17h1M47 20h1M47 21h1M46 25h1M45 26h1M43 27h1M41 38h1M41 39h1M41 40h1M53 40h4M41 41h1M53 41h4M41 42h1M41 43h1M52 43h1M42 45h5M51 45h1"/><path stroke="#feca33" d="M10 -2h1M14 -2h1M10 -1h1M14 -1h1M11 0h3M52 1h1M51 16h1M47 22h1M47 23h1M44 27h1M42 28h1M42 33h1M42 34h1M53 39h4M52 41h1M52 42h1M42 44h1M51 44h1M47 45h4"/><path stroke="#fdcc32" d="M11 -2h3M11 -1h3M53 2h4M48 19h1M47 24h1M46 26h1M45 27h1M42 29h1M42 30h1M42 31h1M42 32h1M42 35h1M42 36h1M42 37h1M53 37h4M53 38h4M52 39h1M52 40h1M42 42h1M51 42h1M42 43h1M51 43h1M43 44h8"/><path stroke="#fccf30" d="M52 0h1M52 16h1M50 17h1M49 18h1M48 20h1M47 25h1M46 27h1M43 28h2M43 29h1M43 32h1M43 33h1M43 34h1M43 35h1M53 35h4M53 36h4M52 37h1M42 38h1M52 38h1M42 39h1M42 40h1M51 40h1M42 41h1M51 41h1M43 42h1M43 43h8"/><path stroke="#fbd12f" d="M52 -2h1M52 -1h1M53 1h4M53 16h4M48 21h1M47 26h1M45 28h1M44 29h2M43 30h2M43 31h1M53 34h4M43 36h1M52 36h1M43 37h1M43 38h1M51 38h1M43 39h1M51 39h1M43 40h8M43 41h8M44 42h7"/><path stroke="#fad42e" d="M51 17h1M49 19h1M48 22h1M48 23h1M47 27h1M46 28h1M46 29h1M45 30h1M44 31h2M44 32h2M44 33h2M53 33h4M44 34h2M44 35h2M52 35h1M44 36h4M51 36h1M44 37h8M44 38h7M44 39h7"/><path stroke="#f9d62d" d="M50 18h1M48 24h1M47 28h1M46 30h1M46 31h1M46 32h1M53 32h4M46 33h2M52 33h1M46 34h2M52 34h1M46 35h4M51 35h1M48 36h3"/><path stroke="#f8d92c" d="M53 0h4M52 17h1M49 20h1M48 25h1M48 26h1M47 29h1M47 30h1M47 31h1M53 31h4M47 32h1M52 32h1M48 33h1M51 33h1M48 34h4M50 35h1"/><path stroke="#f7dc2a" d="M53 -2h4M53 -1h4M53 17h4M48 27h1M48 28h1M48 29h1M48 30h1M48 31h1M48 32h2M49 33h2"/><path stroke="#f6de29" d="M51 18h1M50 19h1M49 21h1M53 30h4M49 31h1M52 31h1M50 32h2"/><path stroke="#f6e128" d="M49 22h1M49 29h1M53 29h4M49 30h1M52 30h1M50 31h2"/><path stroke="#f5e327" d="M52 18h1M50 20h1M49 23h1M49 24h1M49 25h1M49 26h1M49 27h1M49 28h1M52 29h1M50 30h2"/><path stroke="#f5e626" d="M53 18h4M51 19h1M53 28h4M50 29h2"/><path stroke="#f5e825" d="M50 21h1M53 27h4M50 28h1M52 28h1"/><path stroke="#f5ea23" d="M53 26h4M50 27h1M51 28h1"/><path stroke="#f5ed22" d="M52 19h5M51 20h1M50 22h1M50 26h1M51 27h2"/><path stroke="#f6ef20" d="M52 20h1M51 21h1M50 23h1M50 24h1M50 25h1M53 25h4M51 26h2"/><path stroke="#f6f21e" d="M53 20h4M53 24h4M51 25h2"/><path stroke="#f7f41c" d="M52 21h5M51 22h1M53 22h4M51 23h1M53 23h4M51 24h1"/><path stroke="#f8f61a" d="M52 22h1M52 23h1M52 24h1"/></g>
<use href="#coast"/>
</g>
<text class="l" x="24" y="35">D)</text>
<text class="t" x="-7" y="10.2" text-anchor="end">48</text>
<text class="t" x="-7" y="105.6" text-anchor="end">44</text>
<text class="t" x="-7" y="201.0" text-anchor="end">40</text>
<text class="t" x="-7" y="296.4" text-anchor="end">36</text>
<text class="t" x="-7" y="391.8" text-anchor="end">32</text>
<text class="t" x="-7" y="487.2" text-anchor="end">28</text>
<text class="a" transform="translate(-44.3,242.9) rotate(-90)" text-anchor="middle">Lat</text>
<text class="t" x="54.6" y="508" text-anchor="middle">-5</text>
<text class="t" x="168.8" y="508" text-anchor="middle">5</text>
<text class="t" x="281.0" y="508" text-anchor="middle">15</text>
<text class="t" x="393.2" y="508" text-anchor="middle">25</text>
<text class="t" x="505.4" y="508" text-anchor="middle">35</text>
<text class="a" x="267.7" y="540.4" text-anchor="middle">Long</text>
</g>
<g transform="translate(722,565)">
<path d="M0.5,0V476.3H542" fill="none" stroke="#262626" stroke-width="1"/>
<g clip-path="url(#cp)"><g filter="url(#bl)" transform="scale(10) translate(0,0.5)" stroke-width="1.06" fill="none"><path stroke="#20a5e2" d="M-2 3h2M-2 4h2M-2 5h2"/><path stroke="#1ea7e1" d="M-2 2h2"/><path stroke="#1da8e0" d="M-2 1h2M-2 6h2"/><path stroke="#1caadf" d="M-2 0h2M0 3h1M0 4h1M0 5h1M25 23h1"/><path stroke="#1aacdd" d="M-2 -2h2M-2 -1h2M0 2h1M0 6h1M-2 7h2"/><path stroke="#18addb" d="M25 22h1M25 24h1"/><path stroke="#16afd9" d="M0 1h1M0 7h1M-2 8h2"/><path stroke="#13b0d7" d="M0 0h1M0 8h1"/><path stroke="#10b2d5" d="M0 -2h1M0 -1h1M-2 9h2M26 23h1"/><path stroke="#0cb3d3" d="M1 4h1M1 5h1M1 6h1M25 21h1M26 22h1M24 23h1"/><path stroke="#08b4d0" d="M1 3h1M1 7h1M0 9h1M26 24h1M25 25h1"/><path stroke="#05b6ce" d="M1 8h1M24 22h1M24 24h1"/><path stroke="#03b7cb" d="M1 2h1M-2 10h2M26 21h1"/><path stroke="#01b8c9" d="M1 1h1M1 9h1M0 10h1"/><path stroke="#01b9c6" d="M25 20h1M24 21h1"/><path stroke="#02bac4" d="M1 0h1M2 5h1M2 6h1M2 7h1M2 8h1M1 10h1M-2 11h2M27 23h1M24 25h1M26 25h1"/><path stroke="#05bbc1" d="M1 -2h1M1 -1h1M2 4h1M2 9h1M0 11h1M26 20h1M27 22h1"/><path stroke="#08bcbe" d="M2 3h1M27 24h1M25 26h1"/><path stroke="#0cbdbc" d="M2 10h1M1 11h1M50 18h1M50 19h1M27 21h1"/><path stroke="#12beb9" d="M2 2h1M-2 12h3M25 19h1M24 20h1"/><path stroke="#17bfb6" d="M2 1h1M3 6h1M3 7h1M3 8h1M3 9h1M2 11h1M1 12h1M49 18h1M26 19h1M49 19h1"/><path stroke="#1cc0b4" d="M3 4h1M3 5h1M3 10h1M50 17h1M51 18h1M27 20h1M28 22h1M23 23h1M28 23h1M27 25h1M24 26h1M26 26h1"/><path stroke="#20c1b1" d="M2 0h1M3 11h1M2 12h1M28 21h1M23 22h1M23 24h1"/><path stroke="#24c2ae" d="M2 -2h1M2 -1h1M3 3h1M3 12h1M-2 13h4M49 17h1M51 17h1M48 18h1M24 19h1M27 19h1M48 19h1M51 19h1M49 20h2M29 22h1M29 23h1M28 24h1"/><path stroke="#28c2ab" d="M3 2h1M4 8h1M4 9h1M4 10h1M2 13h1M25 18h2M28 20h1M29 21h1M30 22h1M30 23h2M29 24h2M41 26h1M25 27h1M41 27h2M41 28h2"/><path stroke="#2bc3a8" d="M4 6h1M4 7h1M4 11h1M3 13h1M0 14h3M50 16h1M27 18h1M28 19h1M29 20h1M48 20h1M23 21h1M30 21h2M31 22h1M32 23h1M31 24h1M41 24h1M41 25h2M42 26h1"/><path stroke="#2dc4a5" d="M3 1h1M4 5h1M4 12h1M4 13h1M-2 14h2M3 14h1M51 16h1M48 17h1M28 18h1M29 19h2M47 19h1M30 20h2M32 21h1M32 22h1M41 22h1M41 23h2M32 24h1M40 24h1M42 24h1M23 25h1M28 25h4M40 25h1M27 26h1M40 26h1M40 27h1M40 28h1M41 29h2"/><path stroke="#2fc5a2" d="M3 0h1M4 4h1M4 14h1M-2 15h6M49 16h1M25 17h6M52 17h1M24 18h1M29 18h2M47 18h1M52 18h1M31 19h1M32 20h1M47 20h1M33 21h1M41 21h1M48 21h2M33 22h1M40 22h1M42 22h1M33 23h2M40 23h1M33 24h1M32 25h1M43 26h1M26 27h1M43 27h1M43 28h1M40 29h1M41 30h1"/><path stroke="#32c69f" d="M3 -2h1M3 -1h1M4 3h1M5 9h1M5 10h1M5 11h1M5 12h1M5 13h1M1 16h2M28 16h3M52 16h1M31 17h1M31 18h1M32 19h1M23 20h1M33 20h1M41 20h2M51 20h1M34 21h1M40 21h1M42 21h1M47 21h1M50 21h1M34 22h3M39 22h1M35 23h5M43 23h1M34 24h3M39 24h1M43 24h1M33 25h1M39 25h1M43 25h1M30 26h3M39 26h1M24 27h1M39 27h1M42 30h1"/><path stroke="#34c79c" d="M4 2h1M5 7h1M5 8h1M5 14h1M4 15h1M29 15h2M50 15h2M-2 16h3M3 16h1M26 16h2M31 16h1M1 17h2M32 17h1M47 17h1M32 18h1M33 19h1M41 19h2M46 19h1M34 20h2M40 20h1M46 20h1M35 21h5M43 21h1M37 22h2M43 22h1M37 24h2M34 25h5M28 26h2M33 26h1M38 26h1M39 28h1M43 29h1M40 30h1M41 31h1"/><path stroke="#36c898" d="M4 1h1M5 6h1M5 15h1M27 15h2M31 15h1M52 15h1M4 16h1M25 16h1M32 16h1M48 16h1M-2 17h3M3 17h1M24 17h1M1 18h1M33 18h1M46 18h1M23 19h1M34 19h2M40 19h1M43 19h1M52 19h1M36 20h4M43 20h1M46 21h1M47 22h2M44 25h1M23 26h1M34 26h4M44 26h1M30 27h4M37 27h2M44 27h1M38 28h1M44 28h1M39 29h1M39 30h1M43 30h1M40 31h1M42 31h1"/><path stroke="#39c895" d="M5 4h1M5 5h1M6 10h1M6 11h1M6 12h1M6 13h1M6 14h1M28 14h3M26 15h1M49 15h1M33 17h1M-2 18h3M2 18h1M34 18h1M41 18h2M36 19h4M44 19h2M44 20h2M44 21h2M44 22h3M49 22h1M44 23h1M44 24h1M27 27h1M34 27h3M25 28h1M31 28h3M36 28h2M38 29h1M39 31h1M41 32h1"/><path stroke="#3cc991" d="M4 -2h1M4 -1h1M4 0h1M5 3h1M6 8h1M6 9h1M53 13h4M27 14h1M31 14h1M51 14h6M6 15h1M32 15h1M53 15h4M5 16h1M24 16h1M47 16h1M53 16h4M4 17h1M46 17h1M3 18h1M35 18h1M40 18h1M43 18h3M-2 19h5M45 23h3M45 24h1M45 25h1M45 26h1M29 27h1M30 28h1M34 28h2M31 29h7M44 29h1M37 30h2M38 31h1M43 31h1M39 32h2M42 32h1"/><path stroke="#3fca8e" d="M5 2h1M6 6h1M6 7h1M53 12h4M7 13h1M52 13h1M50 14h1M25 15h1M48 15h1M33 16h1M5 17h1M34 17h1M41 17h3M45 17h1M53 17h4M4 18h1M23 18h1M36 18h4M3 19h1M-2 20h4M48 23h1M46 24h1M46 25h1M28 27h1M45 27h1M24 28h1M26 28h1M45 28h1M30 29h1M31 30h6M44 30h1M31 31h2M37 31h1M38 32h1M40 33h2"/><path stroke="#44ca8a" d="M5 1h1M6 4h1M6 5h1M7 11h1M53 11h4M7 12h1M27 13h3M7 14h1M26 14h1M32 14h1M33 15h1M6 16h1M46 16h1M23 17h1M35 17h1M40 17h1M44 17h1M2 20h1M-2 21h3M51 21h1M22 22h1M50 22h1M22 23h1M22 24h1M47 24h1M47 25h1M46 26h1M23 27h1M46 27h1M29 28h1M45 29h1M30 30h1M33 31h4M31 32h2M37 32h1M43 32h1M38 33h2M42 33h1"/><path stroke="#48cb86" d="M5 0h1M6 3h1M7 9h1M7 10h1M53 10h4M52 12h1M51 13h1M25 14h1M49 14h1M7 15h1M24 15h1M47 15h1M34 16h1M41 16h3M39 17h1M5 18h1M53 18h4M4 19h1M3 20h1M1 21h1M22 21h1M-2 22h3M48 24h1M47 26h1M27 28h1M46 28h1M25 29h1M29 29h1M46 29h1M45 30h1M30 31h1M44 31h1M30 32h1M33 32h4M31 33h2M37 33h1M39 34h3"/><path stroke="#4dcb82" d="M5 -2h1M5 -1h1M6 2h1M7 4h1M7 5h1M7 6h1M7 7h1M7 8h1M53 9h4M52 11h1M51 12h1M26 13h1M30 13h1M50 13h1M23 16h1M44 16h2M6 17h1M36 17h3M22 20h1M52 20h1M2 21h1M1 22h1M-2 23h3M49 23h1M22 25h1M48 25h1M47 27h1M28 28h1M47 28h1M26 29h1M47 29h1M29 30h1M46 30h1M45 31h1M30 33h1M33 33h4M43 33h1M37 34h2M42 34h1"/><path stroke="#52cc7e" d="M6 1h1M7 3h1M53 8h4M52 10h1M8 12h1M27 12h2M8 13h1M31 13h1M49 13h1M8 14h1M24 14h1M33 14h1M48 14h1M34 15h1M42 15h2M46 15h1M7 16h1M35 16h1M40 16h1M5 19h1M4 20h1M3 21h1M2 22h1M-2 24h2M48 26h1M48 27h1M24 29h1M28 29h1M47 30h1M29 31h1M46 31h2M44 32h3M31 34h3M35 34h2M38 35h4"/><path stroke="#57cc7a" d="M53 7h4M52 8h1M52 9h1M8 10h1M51 10h1M8 11h1M51 11h1M50 12h1M25 13h1M32 13h1M47 14h1M8 15h1M23 15h1M41 15h1M44 15h2M39 16h1M6 18h1M22 18h1M22 19h1M1 23h1M0 24h1M49 24h1M23 28h1M48 28h1M27 29h1M48 29h1M25 30h2M29 32h1M47 32h1M44 33h4M34 34h1M43 34h1M37 35h1M42 35h1M39 36h3"/><path stroke="#5ccc76" d="M6 -2h1M6 -1h1M6 0h1M7 2h1M8 4h1M8 5h1M8 6h1M53 6h4M8 7h1M52 7h1M8 8h1M8 9h1M51 9h1M50 11h1M26 12h1M29 12h1M49 12h1M48 13h1M34 14h1M42 14h2M46 14h1M35 15h1M40 15h1M36 16h3M7 17h1M22 17h1M53 19h4M5 20h1M4 21h1M3 22h1M2 23h1M50 23h1M1 24h1M-2 25h3M49 25h1M22 26h1M24 30h1M27 30h2M48 30h1M25 31h1M48 31h1M29 33h1M30 34h1M44 34h4M32 35h5M43 35h2M46 35h1M37 36h2M42 36h2M39 37h2"/><path stroke="#61cd72" d="M44 -2h13M44 -1h13M45 0h2M53 0h4M7 1h1M8 3h1M53 4h4M53 5h4M52 6h1M51 7h1M51 8h1M50 9h1M50 10h1M27 11h1M49 11h1M48 12h1M9 13h1M24 13h1M33 13h1M47 13h1M23 14h1M41 14h1M44 14h2M8 16h1M22 16h1M6 19h1M51 22h1M21 23h1M49 26h1M49 27h1M49 28h1M49 29h1M26 31h3M28 32h1M48 32h1M31 35h1M45 35h1M47 35h1M36 36h1M44 36h3M38 37h1M41 37h6M40 38h5M42 42h1"/><path stroke="#66cd6d" d="M43 -2h1M43 -1h1M43 0h2M47 0h6M43 1h14M8 2h1M44 2h3M52 2h5M52 3h5M52 4h1M51 5h2M51 6h1M50 7h1M49 8h2M49 9h1M9 10h1M48 10h2M9 11h1M28 11h1M48 11h1M9 12h1M47 12h1M42 13h5M9 14h1M22 15h1M36 15h1M39 15h1M7 18h1M5 21h1M21 21h1M4 22h1M21 22h1M3 23h1M2 24h1M21 24h1M1 25h1M-2 26h3M22 27h1M23 29h1M49 30h1M24 31h1M25 32h3M48 33h1M29 34h1M30 35h1M33 36h3M47 36h1M36 37h2M47 37h1M38 38h2M45 38h2M39 39h7M39 40h6M40 41h5M40 42h2M43 42h1M40 43h4M41 44h2M41 45h2"/><path stroke="#6bcd69" d="M42 -2h1M42 -1h1M7 0h1M42 0h1M42 1h1M43 2h1M47 2h5M43 3h9M44 4h8M9 5h1M46 5h5M9 6h1M47 6h4M9 7h1M47 7h3M9 8h1M47 8h2M9 9h1M47 9h2M47 10h1M26 11h1M46 11h2M25 12h1M30 12h1M43 12h4M23 13h1M34 13h1M41 13h1M22 14h1M35 14h1M40 14h1M9 15h1M37 15h2M8 17h1M6 20h1M21 20h1M52 21h1M50 24h1M1 26h1M-2 27h2M50 27h1M50 28h1M25 33h2M28 33h1M48 34h1M31 36h2M35 37h1M37 38h1M47 38h1M37 39h2M46 39h1M38 40h1M45 40h1M38 41h2M45 41h1M39 42h1M44 42h1M39 43h1M44 43h1M40 44h1M43 44h1M40 45h1M43 45h1M40 46h3M41 47h2"/><path stroke="#71cd64" d="M7 -2h1M41 -2h1M7 -1h1M41 -1h1M41 0h1M8 1h1M41 1h1M42 2h1M42 3h1M9 4h1M43 4h1M44 5h2M45 6h2M45 7h2M46 8h1M46 9h1M27 10h1M46 10h1M44 11h2M31 12h1M42 12h1M9 16h1M21 16h1M21 17h1M21 18h1M7 19h1M21 19h1M5 22h1M4 23h1M3 24h1M2 25h1M21 25h1M50 25h1M50 26h1M0 27h1M50 29h1M23 30h1M49 31h1M24 32h1M27 33h1M28 34h1M29 35h1M48 35h1M30 36h1M33 37h2M35 38h2M36 39h1M37 40h1M46 40h1M37 41h1M38 42h1M45 42h1M38 43h1M38 44h2M44 44h1M39 45h1M39 46h1M43 46h1M40 47h1M40 48h3M40 49h3"/><path stroke="#77cc60" d="M40 0h1M40 1h1M41 2h1M9 3h1M41 3h1M42 4h1M43 5h1M43 6h2M44 7h1M44 8h2M45 9h1M44 10h2M10 11h1M29 11h1M42 11h2M10 12h1M24 12h1M32 12h2M41 12h1M10 13h1M22 13h1M35 13h1M40 13h1M10 14h1M21 14h1M36 14h1M38 14h2M21 15h1M8 18h1M53 20h4M6 21h1M20 22h1M20 23h1M2 26h1M1 27h1M-2 28h3M22 28h1M50 30h1M49 32h1M24 33h1M25 34h3M48 36h1M32 37h1M34 38h1M35 39h1M47 39h1M35 40h2M36 41h1M46 41h1M36 42h2M37 43h1M45 43h1M37 44h1M38 45h1M44 45h1M38 46h1M39 47h1M43 47h1M39 48h1M43 48h1M39 49h1M43 49h1"/><path stroke="#7dcc5c" d="M40 -2h1M40 -1h1M40 2h1M40 3h1M41 4h1M41 5h2M10 6h1M42 6h1M10 7h1M43 7h1M10 8h1M43 8h1M10 9h1M43 9h2M10 10h1M26 10h1M28 10h1M42 10h2M25 11h1M41 11h1M34 12h1M40 12h1M39 13h1M37 14h1M10 15h1M9 17h1M8 19h1M7 20h1M20 21h1M51 23h1M4 24h1M20 24h1M3 25h1M21 26h1M23 31h1M49 33h1M31 37h1M48 37h1M33 38h1M34 39h1M34 40h1M47 40h1M35 41h1M35 42h1M46 42h1M35 43h2M36 44h1M45 44h1M36 45h2M37 46h1M44 46h1M38 47h1M38 48h1M38 49h1"/><path stroke="#83cc57" d="M39 -2h1M39 -1h1M8 0h1M39 0h1M39 1h1M9 2h1M39 2h1M39 3h1M39 4h2M10 5h1M40 5h1M41 6h1M42 7h1M42 8h1M42 9h1M41 10h1M23 12h1M35 12h1M21 13h1M36 13h3M20 19h1M20 20h1M6 22h1M5 23h1M2 27h1M1 28h1M51 28h1M-2 29h2M22 29h1M50 31h1M23 32h1M24 34h1M49 34h1M25 35h4M29 36h1M30 37h1M31 38h2M48 38h1M33 39h1M33 40h1M33 41h2M47 41h1M34 42h1M34 43h1M46 43h1M35 44h1M35 45h1M45 45h1M36 46h1M37 47h1M44 47h1M37 48h1M44 48h1M37 49h1M44 49h1"/><path stroke="#88cb53" d="M8 -2h1M8 -1h1M38 1h1M38 2h1M38 3h1M10 4h1M38 4h1M39 5h1M40 6h1M41 7h1M41 8h1M11 9h1M27 9h1M41 9h1M11 10h1M11 11h1M24 11h1M40 11h1M11 12h1M36 12h4M11 13h1M20 14h1M20 15h1M10 16h1M20 16h1M20 17h1M9 18h1M20 18h1M8 20h1M7 21h1M19 22h1M19 23h1M20 25h1M3 26h1M21 27h1M51 27h1M0 29h1M51 29h1M49 35h1M32 39h1M48 39h1M32 40h1M33 42h1M33 43h1M34 44h1M34 45h1M35 46h1M45 46h1M36 47h1M36 48h1M36 49h1"/><path stroke="#8ecb4f" d="M38 -2h1M38 -1h1M38 0h1M9 1h1M10 3h1M37 3h1M37 4h1M37 5h2M37 6h3M11 7h1M39 7h2M11 8h1M40 8h1M40 9h1M25 10h1M40 10h1M30 11h1M33 11h7M22 12h1M11 14h1M11 15h1M10 17h1M9 19h1M19 21h1M52 22h1M6 23h1M5 24h1M19 24h1M51 24h1M4 25h1M51 25h1M51 26h1M2 28h1M-2 30h2M22 30h1M51 30h1M50 32h1M23 33h1M24 35h1M25 36h2M28 36h1M49 36h1M29 37h1M30 38h1M31 39h1M32 41h1M32 42h1M47 42h1M33 44h1M46 44h1M35 47h1M35 48h1M35 49h1"/><path stroke="#94ca4a" d="M37 1h1M37 2h1M36 4h1M36 5h1M11 6h1M36 6h1M36 7h3M36 8h4M12 9h1M26 9h1M28 9h1M36 9h4M12 10h1M29 10h1M35 10h5M12 11h1M23 11h1M32 11h1M12 12h1M21 12h1M12 13h1M20 13h1M19 14h1M19 15h1M11 16h1M19 16h1M10 18h1M19 19h1M19 20h1M8 21h1M7 22h1M20 26h1M3 27h1M21 28h1M1 29h1M0 30h1M22 31h1M50 33h1M23 34h1M27 36h1M49 37h1M30 39h1M31 40h1M48 40h1M32 43h1M33 45h1M46 45h1M34 46h1M45 47h1M45 48h1M45 49h1"/><path stroke="#99c946" d="M37 -2h1M37 -1h1M37 0h1M10 2h1M36 2h1M36 3h1M11 5h1M12 8h1M34 10h1M31 11h1M19 13h1M12 14h1M12 15h1M19 17h1M19 18h1M9 20h1M18 21h1M53 21h4M18 22h1M18 23h1M6 24h1M5 25h1M19 25h1M4 26h1M51 31h1M22 32h1M24 36h1M25 37h1M28 37h1M29 38h1M49 38h1M30 40h1M31 41h1M31 42h1M47 43h1M32 44h1M33 46h1M34 47h1M34 48h1M34 49h1"/><path stroke="#9fc942" d="M9 0h1M36 0h1M36 1h1M35 2h1M35 3h1M11 4h1M35 4h1M35 5h1M35 6h1M12 7h1M35 7h1M27 8h1M35 8h1M13 9h1M25 9h1M35 9h1M13 10h1M24 10h1M13 11h1M22 11h1M13 12h1M20 12h1M13 13h1M18 13h1M13 14h1M17 14h2M18 15h1M12 16h1M18 16h1M11 17h1M10 19h1M18 20h1M8 22h1M7 23h1M18 24h1M3 28h1M52 28h1M2 29h1M21 29h1M52 29h1M-2 31h2M50 34h1M23 35h1M26 37h2M29 39h1M30 41h1M48 41h1M31 43h1M47 44h1M32 45h1M46 46h1"/><path stroke="#a4c83e" d="M9 -2h1M36 -2h1M9 -1h1M36 -1h1M35 1h1M12 6h1M13 8h1M26 8h1M14 10h1M33 10h1M14 11h1M21 11h1M14 12h1M19 12h1M14 13h4M14 14h3M13 15h1M17 15h1M17 16h1M12 17h1M18 17h1M11 18h1M18 18h1M18 19h1M10 20h1M9 21h1M7 24h1M6 25h1M4 27h1M20 27h1M52 27h1M1 30h1M21 30h1M0 31h1M51 32h1M22 33h1M50 35h1M24 37h1M25 38h2M28 38h1M49 39h1M30 42h1M48 42h1M31 44h1M32 46h1M33 47h1M33 48h1M33 49h1"/><path stroke="#aac73a" d="M35 -2h1M35 -1h1M35 0h1M10 1h1M34 1h1M34 2h1M11 3h1M34 3h1M34 4h1M34 5h1M34 6h1M34 7h1M28 8h1M34 8h1M14 9h1M34 9h1M23 10h1M15 11h1M20 11h1M15 12h4M14 15h3M13 16h4M13 17h1M17 17h1M12 18h1M11 19h1M17 20h1M17 21h1M9 22h1M17 22h1M8 23h1M17 23h1M52 23h1M18 25h1M5 26h1M19 26h1M52 30h1M21 31h1M-2 32h2M22 34h1M23 36h1M50 36h1M27 38h1M28 39h1M29 40h1M30 43h1M31 45h1M47 45h1M46 47h1M46 48h1M46 49h1"/><path stroke="#afc637" d="M34 -2h1M34 -1h1M33 0h2M33 1h1M33 2h1M33 3h1M12 5h1M13 7h1M25 8h1M24 9h1M29 9h1M15 10h1M22 10h1M30 10h1M32 10h1M16 11h1M18 11h2M14 17h3M13 18h1M17 18h1M12 19h1M17 19h1M11 20h1M10 21h1M17 24h1M7 25h1M6 26h1M52 26h1M4 28h1M20 28h1M3 29h1M2 30h1M52 31h1M0 32h1M21 32h1M51 33h1M22 35h1M23 37h1M50 37h1M24 38h1M25 39h3M28 40h1M49 40h1M29 41h1M48 43h1M30 44h1M31 46h1M32 47h1M32 48h1M32 49h1"/><path stroke="#b4c533" d="M33 -2h1M33 -1h1M32 1h1M11 2h1M32 2h1M12 4h1M33 4h1M26 7h2M14 8h1M15 9h1M33 9h1M20 10h2M17 11h1M14 18h3M13 19h4M12 20h2M15 20h2M11 21h1M16 21h1M10 22h1M16 22h1M9 23h1M16 23h1M8 24h1M52 25h1M5 27h1M53 28h4M20 29h1M53 29h4M1 31h1M-2 33h2M21 33h1M50 38h1M24 39h1M25 40h3M29 42h1M30 45h1M47 46h1"/><path stroke="#bac430" d="M10 0h1M32 0h1M32 3h1M33 5h1M13 6h1M33 6h1M25 7h1M33 7h1M24 8h1M33 8h1M23 9h1M16 10h4M31 10h1M14 20h1M12 21h4M11 22h1M14 22h2M53 22h4M10 23h1M15 23h1M9 24h1M16 24h1M52 24h1M8 25h1M17 25h1M7 26h1M18 26h1M19 27h1M20 30h1M53 30h4M52 32h1M21 34h1M51 34h1M22 36h1M23 38h1M24 40h1M25 41h4M49 41h1M29 43h1M48 44h1M31 47h1M31 48h1M31 49h1"/><path stroke="#bfc32e" d="M10 -2h1M32 -2h1M10 -1h1M32 -1h1M11 1h1M31 1h1M31 2h1M12 3h1M31 3h1M32 4h1M13 5h1M14 7h1M28 7h1M15 8h1M29 8h1M16 9h1M12 22h2M11 23h1M14 23h1M15 24h1M6 27h1M53 27h4M5 28h1M4 29h1M3 30h1M2 31h1M20 31h1M53 31h4M0 33h1M-2 34h2M21 35h1M51 35h1M22 37h1M23 39h1M50 39h1M24 41h1M25 42h4M29 44h1M48 45h1M30 46h1M47 47h1M47 48h1M47 49h1"/><path stroke="#c4c22b" d="M31 0h1M32 5h1M25 6h2M24 7h1M17 9h6M32 9h1M12 23h2M10 24h1M14 24h1M9 25h1M16 25h1M8 26h1M17 26h1M7 27h1M18 27h1M19 28h1M1 32h1M20 32h1M52 33h1M21 36h1M51 36h1M22 38h1M23 40h1M24 42h1M49 42h1M25 43h4M29 45h1M30 47h1"/><path stroke="#c8c129" d="M31 -2h1M31 -1h1M12 2h1M13 4h1M31 4h1M14 6h1M27 6h1M32 6h1M15 7h1M16 8h1M23 8h1M30 9h1M11 24h3M10 25h1M15 25h1M9 26h1M53 26h4M8 27h1M6 28h1M5 29h1M19 29h1M4 30h1M53 32h4M20 33h1M0 34h1M20 34h1M-2 35h2M21 37h1M51 37h1M22 39h1M50 40h1M23 41h1M24 43h1M25 44h4M25 45h1M29 46h1M48 46h1M30 48h1M30 49h1"/><path stroke="#cdc028" d="M11 0h1M30 1h1M30 2h1M25 5h1M31 5h1M24 6h1M23 7h1M29 7h1M32 7h1M17 8h6M32 8h1M11 25h4M10 26h1M16 26h1M7 28h1M19 30h1M3 31h1M19 31h1M1 33h1M52 34h1M20 35h1M20 36h1M21 38h1M51 38h1M22 40h1M23 42h1M49 43h1M24 44h1M24 45h1M26 45h1M28 45h1M25 46h1M48 47h1"/><path stroke="#d2bf27" d="M30 0h1M12 1h1M13 3h1M30 3h1M14 5h1M24 5h1M26 5h1M15 6h1M28 6h1M16 7h1M31 9h1M53 23h4M53 25h4M11 26h5M9 27h1M17 27h1M8 28h1M18 28h1M6 29h2M2 32h1M19 32h1M19 33h1M53 33h4M19 34h1M0 35h1M19 35h1M52 35h1M-2 36h2M20 37h1M20 38h1M21 39h1M22 41h1M50 41h1M23 43h1M23 44h1M49 44h1M27 45h1M24 46h1M26 46h1M28 46h1M24 47h2M29 47h1M24 48h2M29 48h1M48 48h1M24 49h2M29 49h1M48 49h1"/><path stroke="#d6be28" d="M11 -2h1M30 -2h1M11 -1h1M30 -1h1M24 4h2M30 4h1M30 5h1M23 6h1M29 6h1M31 6h1M17 7h4M22 7h1M30 7h2M30 8h2M53 24h4M10 27h1M14 27h3M9 28h1M8 29h1M18 29h1M5 30h2M18 30h1M4 31h1M18 31h1M18 32h1M18 33h1M18 34h1M19 36h1M52 36h1M19 37h1M20 39h1M51 39h1M21 40h1M21 41h1M22 42h1M23 45h1M49 45h1M23 46h1M27 46h1M23 47h1M26 47h1M23 48h1M26 48h1M23 49h1M26 49h1"/><path stroke="#dabd28" d="M12 0h1M13 2h1M24 3h2M14 4h1M15 5h1M23 5h1M27 5h1M16 6h1M30 6h1M21 7h1M11 27h3M10 28h1M17 28h1M9 29h1M17 29h1M7 30h2M3 32h1M17 32h1M2 33h1M17 33h1M1 34h1M17 34h1M53 34h4M18 35h1M0 36h1M18 36h1M-2 37h2M18 37h1M52 37h1M19 38h1M19 39h1M20 40h1M51 40h1M21 42h1M50 42h1M22 43h1M22 44h1M22 45h1M49 46h1M27 47h2M28 48h1M28 49h1"/><path stroke="#debc2a" d="M12 -2h1M12 -1h1M13 1h1M14 3h1M26 4h1M28 5h2M17 6h4M22 6h1M11 28h6M10 29h1M16 29h1M9 30h1M17 30h1M5 31h3M17 31h1M4 32h1M16 32h1M16 33h1M16 34h1M1 35h1M17 35h1M53 35h4M17 36h1M17 37h1M-2 38h2M18 38h1M18 39h1M19 40h1M20 41h1M20 42h1M21 43h1M21 44h1M22 46h1M22 47h1M49 47h1M22 48h1M27 48h1M49 48h1M22 49h1M27 49h1M49 49h1"/><path stroke="#e2bc2b" d="M24 2h2M23 3h1M29 3h1M15 4h1M23 4h1M29 4h1M16 5h1M21 6h1M11 29h5M10 30h2M14 30h3M8 31h2M15 31h2M5 32h1M15 32h1M3 33h1M15 33h1M2 34h1M16 35h1M16 36h1M53 36h4M0 37h1M16 37h1M17 38h1M52 38h1M-2 39h2M17 39h1M18 40h1M19 41h1M51 41h1M19 42h1M20 43h1M50 43h1M20 44h1M20 45h2M20 46h2M20 47h2M20 48h2M20 49h2"/><path stroke="#e6bb2d" d="M13 -2h1M13 -1h1M13 0h1M24 1h1M29 1h1M14 2h1M23 2h1M29 2h1M15 3h1M26 3h1M17 5h6M12 30h2M10 31h5M6 32h5M14 32h1M4 33h1M15 34h1M15 35h1M1 36h1M15 36h1M15 37h1M53 37h4M0 38h1M15 38h2M16 39h1M52 39h1M-2 40h2M16 40h2M-2 41h2M17 41h2M18 42h1M18 43h2M18 44h2M50 44h1M19 45h1M18 46h2M18 47h2M18 48h2M18 49h2"/><path stroke="#eaba31" d="M14 -2h9M29 -2h1M14 -1h9M29 -1h1M14 0h2M18 0h6M29 0h1M14 1h1M22 1h2M25 1h1M15 2h1M22 3h1M16 4h5M22 4h1M27 4h2M11 32h3M5 33h10M3 34h1M11 34h4M2 35h1M13 35h2M13 36h2M1 37h1M13 37h2M13 38h2M53 38h4M0 39h1M13 39h3M0 40h1M13 40h3M52 40h1M13 41h4M-2 42h2M13 42h5M51 42h1M-2 43h2M13 43h5M-2 44h2M13 44h5M-2 45h3M13 45h6M50 45h1M-2 46h4M13 46h5M50 46h1M-2 47h5M13 47h5M50 47h1M-2 48h6M13 48h5M50 48h1M-2 49h6M13 49h5M50 49h1"/><path stroke="#eeba34" d="M23 -2h1M23 -1h1M16 0h2M24 0h1M15 1h7M16 2h7M26 2h1M16 3h6M21 4h1M4 34h7M3 35h1M9 35h4M2 36h1M10 36h3M11 37h2M1 38h1M11 38h2M12 39h1M53 39h4M12 40h1M0 41h1M11 41h2M52 41h1M0 42h1M11 42h2M0 43h1M11 43h2M51 43h1M0 44h1M11 44h2M1 45h1M11 45h2M2 46h2M11 46h2M3 47h2M11 47h2M4 48h1M11 48h2M4 49h1M11 49h2"/><path stroke="#f1ba37" d="M24 -2h1M24 -1h1M25 0h1M27 3h2M4 35h5M3 36h7M2 37h1M9 37h2M10 38h1M1 39h1M10 39h2M1 40h1M10 40h2M53 40h4M1 41h1M10 41h1M53 41h4M1 42h1M10 42h1M52 42h1M1 43h1M10 43h1M1 44h2M9 44h2M51 44h1M2 45h9M51 45h1M4 46h7M51 46h1M5 47h6M51 47h1M5 48h6M51 48h1M5 49h6M51 49h1"/><path stroke="#f4ba3a" d="M26 1h1M3 37h6M2 38h8M2 39h1M4 39h6M2 40h1M4 40h6M2 41h1M4 41h6M2 42h8M53 42h4M2 43h8M52 43h5M3 44h6M52 44h5M53 46h4M52 47h5M52 48h5M52 49h5"/><path stroke="#f8ba3d" d="M25 -2h1M25 -1h1M27 2h2M3 39h1M3 40h1M3 41h1M52 45h5M52 46h1"/><path stroke="#fabb3d" d="M26 -2h1M28 -2h1M26 -1h1M28 -1h1M26 0h1M28 0h1M28 1h1"/><path stroke="#fcbd3d" d="M27 0h1M27 1h1"/><path stroke="#febe3c" d="M27 -2h1M27 -1h1"/></g>
<use href="#coast"/>
</g>
<text class="l" x="24" y="35">E)</text>
<text class="t" x="-7" y="10.2" text-anchor="end">48</text>
<text class="t" x="-7" y="105.6" text-anchor="end">44</text>
<text class="t" x="-7" y="201.0" text-anchor="end">40</text>
<text class="t" x="-7" y="296.4" text-anchor="end">36</text>
<text class="t" x="-7" y="391.8" text-anchor="end">32</text>
<text class="t" x="-7" y="487.2" text-anchor="end">28</text>
<text class="a" transform="translate(-44.3,242.9) rotate(-90)" text-anchor="middle">Lat</text>
<text class="t" x="54.6" y="508" text-anchor="middle">-5</text>
<text class="t" x="168.8" y="508" text-anchor="middle">5</text>
<text class="t" x="281.0" y="508" text-anchor="middle">15</text>
<text class="t" x="393.2" y="508" text-anchor="middle">25</text>
<text class="t" x="505.4" y="508" text-anchor="middle">35</text>
<text class="a" x="267.7" y="540.4" text-anchor="middle">Long</text>
</g>
<g transform="translate(1360,565)">
<path d="M0.5,0V476.3H542" fill="none" stroke="#262626" stroke-width="1"/>
<g clip-path="url(#cp)"><g filter="url(#bl)" transform="scale(10) translate(0,0.5)" stroke-width="1.06" fill="none"><path stroke="#3b73fe" d="M31 14h1M31 15h1"/><path stroke="#3875fe" d="M30 14h1M32 14h1M30 15h1M32 15h1"/><path stroke="#3678fe" d="M31 13h2M31 16h1"/><path stroke="#347afd" d="M33 11h1M33 12h1M33 13h1M33 14h1M30 16h1M32 16h1"/><path stroke="#327cfc" d="M33 9h1M33 10h1M32 12h1M30 13h1M38 14h1M33 15h1M33 16h1M32 17h1"/><path stroke="#307ffb" d="M34 10h1M38 13h1M29 14h1M29 15h1M29 16h1M30 17h2M33 17h1"/><path stroke="#2f81fa" d="M33 8h1M34 9h1M32 11h1M34 11h1M31 12h1M34 12h1M34 13h1M38 15h1M29 17h1M32 18h2"/><path stroke="#2e83f9" d="M34 8h1M38 12h1M34 14h1M37 14h1M39 14h1M34 15h1M29 18h1M31 18h1"/><path stroke="#2e85f8" d="M33 7h1M29 13h1M37 13h1M39 13h1M28 16h1M34 16h1M28 17h1M28 18h1M30 18h1M28 19h1M33 19h1"/><path stroke="#2d87f6" d="M34 7h1M32 10h1M30 12h1M37 12h1M28 15h1M37 15h1M34 17h1M29 19h1M32 19h1M28 20h1M28 21h1"/><path stroke="#2d8af5" d="M35 9h1M35 10h1M31 11h1M35 11h1M38 11h1M35 12h1M35 13h1M28 14h1M35 14h1M39 15h1M38 16h1M34 18h1M31 19h1M33 20h1"/><path stroke="#2d8cf3" d="M33 6h2M32 9h1M37 11h1M29 12h1M39 12h1M36 13h1M36 14h1M35 15h1M37 16h1M30 19h1M34 19h1M29 20h1M32 20h1M27 21h1M28 22h1"/><path stroke="#2c8ef2" d="M35 8h1M36 12h1M28 13h1M36 15h1M35 16h1M27 18h1M27 19h1M27 20h1M29 21h1M33 21h1M27 22h1M28 23h1"/><path stroke="#2c90f0" d="M33 5h1M35 7h1M38 10h1M36 11h1M27 16h1M36 16h1M39 16h1M27 17h1M35 17h1M38 17h1M30 20h2M27 23h1"/><path stroke="#2b92ee" d="M34 5h1M32 8h1M36 10h2M30 11h1M39 11h1M28 12h1M27 15h1M37 17h1M35 18h1M34 20h1M32 21h1M29 22h1M33 22h1"/><path stroke="#2994ed" d="M35 6h1M36 9h1M31 10h1M27 14h1M36 17h1"/><path stroke="#2896ec" d="M32 7h1M36 8h1M37 9h2M29 11h1M27 13h1M35 19h1M30 21h2M34 21h1M32 22h1M29 23h1M33 23h1M27 24h2"/><path stroke="#2798ea" d="M33 4h2M28 11h1M39 17h1M36 18h2M33 24h1"/><path stroke="#269ae9" d="M35 5h1M32 6h1M36 7h1M37 8h1M39 10h1M38 18h1M26 22h1M30 22h2M26 23h1M32 23h1M33 25h1"/><path stroke="#259ce7" d="M38 8h1M31 9h1M30 10h1M27 12h1M26 20h1M35 20h1M26 21h1M34 22h1M29 24h1M32 24h1M33 26h1"/><path stroke="#249de6" d="M35 4h1M36 6h1M37 7h1M28 10h2M26 14h1M26 15h1M26 16h1M26 17h1M26 19h1M36 19h1M30 23h2M28 25h1M32 25h1"/><path stroke="#249fe5" d="M33 3h2M32 5h1M38 7h1M39 9h1M27 11h1M26 18h1M37 19h1M34 23h1M26 24h1M27 25h1M32 26h1M33 27h1"/><path stroke="#22a1e4" d="M36 5h1M37 6h1M26 13h1M39 18h1M38 19h1M35 21h1M30 24h2M34 24h1M29 25h1"/><path stroke="#21a3e3" d="M32 4h1M31 8h1M28 9h1M40 14h1M31 25h1M34 25h1M32 27h1"/><path stroke="#20a5e2" d="M35 3h1M36 4h1M37 5h1M38 6h1M39 8h1M29 9h2M27 10h1M40 13h1M36 20h1M30 25h1M34 26h1M33 28h1"/><path stroke="#1ea7e1" d="M33 2h2M31 7h1M26 12h1M40 15h1M39 19h1M37 20h2M35 22h1M28 26h1M31 26h1M34 27h1"/><path stroke="#1da8e0" d="M32 3h1M36 3h1M37 4h1M38 5h1M39 7h1M40 12h1M25 14h1M25 15h1M25 22h1M25 23h1M26 25h1M27 26h1M29 26h1M32 28h1"/><path stroke="#1caadf" d="M35 2h1M28 8h1M27 9h1M25 16h1M40 16h1M25 21h1M36 21h1M30 26h1M31 27h1"/><path stroke="#1aacdd" d="M38 4h1M31 6h1M39 6h1M29 8h2M26 11h1M40 11h1M25 13h1M37 21h2M35 23h1M25 24h1M34 28h1"/><path stroke="#18addb" d="M34 1h1M32 2h1M36 2h1M37 3h1M25 17h1M25 20h1M39 20h1M35 24h1M30 27h1"/><path stroke="#16afd9" d="M33 1h1M35 1h1M31 5h1M28 7h1M27 8h1M40 17h1M25 18h1M25 19h1M35 25h1M28 27h2M31 28h1M33 29h1"/><path stroke="#13b0d7" d="M38 3h1M39 5h1M29 7h2M40 10h1M39 21h1M36 22h3M26 26h1M35 26h1"/><path stroke="#10b2d5" d="M36 1h1M37 2h1M31 4h1M26 10h1M25 12h1M25 25h1M27 27h1M35 27h1M32 29h1"/><path stroke="#0cb3d3" d="M32 1h1M31 3h1M39 4h1M27 7h1M40 9h1M40 18h1M36 23h1M30 28h1M34 29h1"/><path stroke="#08b4d0" d="M34 0h2M28 6h3M39 22h1M37 23h2M29 28h1M35 28h1"/><path stroke="#05b6ce" d="M33 0h1M36 0h1M37 1h1M31 2h1M38 2h1M40 8h1M26 9h1M24 14h1M24 15h1M36 24h1M38 24h1M28 28h1M31 29h1"/><path stroke="#03b7cb" d="M34 -2h2M34 -1h2M39 3h1M30 5h1M27 6h1M25 11h1M24 16h1M40 19h1M24 22h1M24 23h1M39 23h1M37 24h1M36 25h3"/><path stroke="#01b8c9" d="M33 -2h1M36 -2h1M33 -1h1M36 -1h1M32 0h1M29 5h1M40 7h1M26 8h1M24 13h1M24 17h1M24 20h1M24 21h1M39 24h1M25 26h1M36 26h3M26 27h1M33 30h1"/><path stroke="#01b9c6" d="M31 1h1M30 4h1M28 5h1M24 18h1M24 19h1M40 20h1M24 24h1M39 25h1M39 26h1M36 27h3M27 28h1M30 29h1M32 30h1"/><path stroke="#02bac4" d="M32 -2h1M32 -1h1M37 0h1M38 1h1M27 5h1M40 6h1M26 7h1M35 29h1"/><path stroke="#05bbc1" d="M31 0h1M39 2h1M30 3h1M25 10h1M24 12h1M41 14h1M40 21h1M39 27h1M36 28h3M29 29h1M34 30h1"/><path stroke="#08bcbe" d="M37 -2h1M37 -1h1M29 4h1M40 5h1M26 6h1M41 13h1M41 15h1M24 25h1M28 29h1M31 30h1"/><path stroke="#0cbdbc" d="M31 -2h1M31 -1h1M30 2h1M28 4h1M41 12h1M40 22h1M25 27h1M26 28h1M39 28h1"/><path stroke="#12beb9" d="M40 4h1M26 5h1M25 9h1M41 11h1M41 16h1M30 30h1"/><path stroke="#17bfb6" d="M38 0h1M39 1h1M27 4h1M24 11h1M41 17h1M40 23h1M27 29h1M36 29h1M35 30h1"/><path stroke="#1cc0b4" d="M30 1h1M29 3h1M40 3h1M25 8h1M41 10h1M23 14h1M23 15h1M23 16h1M23 17h1M23 18h1M23 19h1M40 24h1M40 25h1M24 26h1M37 29h2M29 30h1M33 31h1"/><path stroke="#20c1b1" d="M25 6h1M25 7h1M41 9h1M41 18h1M23 20h1M23 21h1M23 22h1M40 26h1M32 31h1"/><path stroke="#24c2ae" d="M38 -2h1M38 -1h1M26 4h1M25 5h1M23 13h1M23 23h1M40 27h1M25 28h1M26 29h1M39 29h1M28 30h1M31 31h1M34 31h1"/><path stroke="#28c2ab" d="M30 0h1M40 2h1M41 8h1M24 10h1M41 19h1M23 24h1M36 30h1"/><path stroke="#2bc3a8" d="M30 -2h1M30 -1h1M39 0h1M29 2h1M28 3h1M41 7h1M23 12h1M24 27h1M40 28h1M27 30h1M30 31h1"/><path stroke="#2dc4a5" d="M25 4h1M24 9h1M41 20h1M37 30h2M35 31h1"/><path stroke="#2fc5a2" d="M40 1h1M24 5h1M24 6h1M41 6h1M24 7h1M24 8h1M41 21h1M23 25h1M25 29h1M29 31h1"/><path stroke="#32c69f" d="M39 -2h1M39 -1h1M27 3h1M41 5h1M23 11h1M22 18h1M22 19h1M26 30h1M32 32h2"/><path stroke="#34c79c" d="M24 4h1M42 12h1M42 13h1M42 14h1M42 15h1M22 16h1M22 17h1M22 20h1M41 22h1M24 28h1M40 29h1M39 30h1M28 31h1M36 31h1M31 32h1"/><path stroke="#36c898" d="M40 0h1M29 1h1M26 3h1M41 4h1M23 10h1M42 10h1M42 11h1M22 15h1M22 21h1M41 23h1M41 24h1M23 26h1M27 31h1M34 32h1"/><path stroke="#39c895" d="M28 2h1M41 3h1M42 9h1M22 14h1M42 16h1M41 25h1M41 26h1M25 30h1M37 31h1M30 32h1"/><path stroke="#3cc991" d="M40 -2h1M40 -1h1M23 5h1M23 6h1M23 7h1M23 8h1M23 9h1M22 13h1M42 17h1M22 22h1M41 27h1M24 29h1M26 31h1M38 31h1M29 32h1M35 32h1"/><path stroke="#3fca8e" d="M41 2h1M25 3h1M42 8h1M43 11h1M22 12h1M43 12h1M43 13h1M43 14h1M42 18h1M22 23h1M23 27h1M41 28h1M25 31h1"/><path stroke="#44ca8a" d="M41 1h1M23 4h1M42 7h1M43 10h1M22 11h1M44 12h1M44 13h1M40 30h1M28 32h1M36 32h1M31 33h3"/><path stroke="#48cb86" d="M29 0h1M41 0h1M24 3h1M42 6h1M43 9h1M22 10h1M44 11h1M45 12h1M45 13h2M44 14h1M43 15h1M42 19h1M22 24h1M24 30h1M39 31h1M26 32h2M30 33h1"/><path stroke="#4dcb82" d="M41 -2h1M41 -1h1M27 2h1M42 5h1M22 6h1M22 7h1M22 8h1M43 8h1M22 9h1M44 10h1M45 11h1M46 12h1M47 13h1M45 14h1M21 16h1M21 17h1M21 18h1M21 19h1M42 20h1M23 28h1M41 29h1M25 32h1M37 32h1M34 33h1M31 34h2"/><path stroke="#52cc7e" d="M22 5h1M43 7h1M44 9h1M45 10h1M46 11h1M47 12h1M48 13h1M21 14h1M46 14h1M21 15h1M43 16h1M21 20h1M42 21h1M22 25h1M29 33h1M35 33h1M30 34h1M33 34h1M30 35h3M31 36h1"/><path stroke="#57cc7a" d="M29 -2h1M29 -1h1M42 4h1M44 8h1M45 9h1M46 10h1M47 11h1M48 12h2M21 13h1M49 13h1M47 14h1M44 15h1M21 21h1M24 31h1M38 32h1M25 33h2M28 33h1M29 34h1M34 34h1M33 35h1M30 36h1M32 36h1M30 37h3"/><path stroke="#5ccc76" d="M28 1h1M26 2h1M23 3h1M42 3h1M22 4h1M43 6h1M44 7h1M21 11h1M48 11h1M21 12h1M50 12h1M50 13h1M48 14h1M45 15h1M43 17h1M42 22h1M22 26h1M23 29h1M40 31h1M27 33h1M36 33h1M29 35h1M33 36h1M31 38h2"/><path stroke="#61cd72" d="M42 2h1M43 5h1M45 8h1M46 9h1M21 10h1M47 10h1M49 11h1M51 12h1M51 13h1M49 14h1M21 22h1M42 23h1M42 24h1M42 25h1M42 26h1M42 27h1M41 30h1M24 32h1M39 32h1M25 34h4M35 34h1M34 35h1M29 36h1M33 37h1M30 38h1"/><path stroke="#66cd6d" d="M25 2h1M44 6h1M21 9h1M48 10h1M50 11h2M52 12h1M52 13h1M50 14h2M46 15h1M44 16h1M43 18h1M22 27h1M42 28h1M23 30h1M37 33h1M36 34h1M26 35h1M28 35h1M35 35h1M34 36h1M29 37h1M33 38h1M31 39h2"/><path stroke="#6bcd69" d="M42 1h1M43 4h1M45 7h1M21 8h1M46 8h1M47 9h1M49 10h1M52 11h1M53 12h4M53 13h4M52 14h1M21 23h1M24 33h1M25 35h1M27 35h1M28 36h1M34 37h1M29 38h1M30 39h1"/><path stroke="#71cd64" d="M42 0h1M24 2h1M44 5h1M45 6h1M21 7h1M48 9h1M50 10h1M20 13h1M20 14h1M53 14h4M20 15h1M47 15h1M20 16h1M20 17h1M43 19h1M42 29h1M38 33h1M37 34h1M36 35h1M25 36h3M35 36h1M28 37h1M34 38h1M33 39h1"/><path stroke="#77cc60" d="M42 -2h1M42 -1h1M22 3h1M43 3h1M21 6h1M46 7h1M49 9h1M51 10h1M20 11h1M53 11h4M20 12h1M48 15h1M45 16h1M44 17h1M20 18h1M20 19h1M21 24h1M22 28h1M23 31h1M41 31h1M40 32h1M24 34h1M36 36h1M26 37h2M35 37h1M28 38h1M29 39h1M31 40h2"/><path stroke="#7dcc5c" d="M27 1h1M44 4h1M45 5h1M47 8h1M50 9h1M20 10h1M52 10h1M49 15h1M20 20h1M43 20h1M42 30h1M39 33h1M38 34h1M24 35h1M37 35h1M25 37h1M35 38h1M34 39h1M30 40h1M33 40h1"/><path stroke="#83cc57" d="M23 2h1M21 5h1M46 6h1M48 8h1M20 9h1M51 9h1M53 10h4M50 15h1M46 16h1M43 21h1M43 27h1M43 28h1M22 29h1M23 32h1M37 36h1M36 37h1M26 38h2"/><path stroke="#88cb53" d="M28 0h1M43 2h1M47 7h1M52 9h1M51 15h1M20 21h1M43 22h1M21 25h1M43 25h1M43 26h1M43 29h1M38 35h1M24 36h1M25 38h1M36 38h1M28 39h1M35 39h1M29 40h1M34 40h1M31 41h2"/><path stroke="#8ecb4f" d="M44 3h1M45 4h1M20 8h1M49 8h1M53 9h4M52 15h5M47 16h1M45 17h1M44 18h1M20 22h1M43 23h1M43 24h1M22 30h1M42 31h1M41 32h1M23 33h1M40 33h1M39 34h1M38 36h1M37 37h1M26 39h2M30 41h1M33 41h1"/><path stroke="#94ca4a" d="M26 1h1M43 1h1M21 4h1M46 5h1M47 6h1M48 7h1M50 8h2M21 26h1M43 30h1M23 34h1M39 35h1M24 37h1M37 38h1M25 39h1M36 39h1M28 40h1M35 40h1"/><path stroke="#99c946" d="M48 16h1M44 19h1M20 23h1M22 31h1M43 31h1M42 32h1M40 34h1M38 37h1M29 41h1M34 41h1M31 42h3"/><path stroke="#9fc942" d="M22 2h1M46 4h1M20 7h1M49 7h1M52 8h1M19 11h1M19 12h1M19 13h1M19 14h1M19 15h1M46 17h1M44 27h1M44 28h1M44 29h1M41 33h1M23 35h1M39 36h1M24 38h1M38 38h1M37 39h1M26 40h2M30 42h1"/><path stroke="#a4c83e" d="M28 -2h1M28 -1h1M43 0h1M25 1h1M44 2h1M45 3h1M47 5h1M48 6h1M50 7h1M53 8h4M19 10h1M19 16h1M49 16h1M19 17h1M44 20h1M44 26h1M21 27h1M44 30h1M43 32h1M40 35h1M23 36h1M39 37h1M25 40h1M36 40h1M35 41h1M34 42h1"/><path stroke="#aac73a" d="M24 1h1M20 6h1M51 7h1M19 9h1M50 16h1M19 18h1M45 18h1M19 19h1M20 24h1M45 29h1M44 31h1M22 32h1M42 33h1M41 34h1M40 36h1M39 38h1M24 39h1M38 39h1M28 41h1M31 43h3"/><path stroke="#afc637" d="M43 -2h1M43 -1h1M21 3h1M48 5h1M49 6h1M52 7h1M51 16h2M47 17h1M19 20h1M44 21h1M44 25h1M21 28h1M45 28h1M45 30h1M45 31h1M44 32h1M43 33h1M42 34h1M41 35h1M23 37h1M40 37h1M37 40h1M25 41h3M36 41h1M29 42h1M35 42h1M30 43h1"/><path stroke="#b4c533" d="M23 1h1M46 3h1M47 4h1M50 6h1M53 7h4M53 16h4M19 21h1M44 22h1M44 23h1M44 24h1M45 27h1M46 29h1M46 30h1M45 32h1M22 33h1M44 33h2M43 34h2M42 35h2M41 36h1M40 38h1M39 39h1M24 40h1M34 43h1"/><path stroke="#bac430" d="M27 0h1M44 1h1M45 2h1M51 6h1M19 8h1M45 19h1M20 25h1M45 26h1M46 28h1M21 29h1M46 31h1M46 32h1M46 33h1M22 34h1M45 34h1M44 35h2M42 36h3M41 37h1M23 38h1M38 40h1M37 41h1M25 42h2M28 42h1M31 44h3"/><path stroke="#bfc32e" d="M48 4h1M20 5h1M49 5h1M52 6h1M48 17h1M46 18h1M19 22h1M46 27h1M47 29h1M21 30h1M47 30h1M47 31h1M47 32h1M46 34h1M22 35h1M46 35h1M45 36h1M42 37h4M41 38h1M23 39h1M40 39h1M24 41h1M27 42h1M36 42h1M29 43h1M35 43h1M30 44h1"/><path stroke="#c4c22b" d="M22 1h1M47 3h1M50 5h1M53 6h4M45 20h1M19 23h1M45 25h1M47 28h1M47 33h1M47 34h1M22 36h1M46 36h1M46 37h1M42 38h1M44 38h1M39 40h1M38 41h1M34 44h1"/><path stroke="#c8c129" d="M21 2h1M46 2h1M51 5h1M49 17h1M45 21h1M45 24h1M20 26h1M46 26h1M47 27h1M48 29h1M48 30h1M21 31h1M48 31h1M48 32h1M48 33h1M47 35h1M47 36h1M43 38h1M45 38h1M41 39h1M23 40h1M40 40h1M24 42h1M37 42h1M25 43h4M36 43h1M29 44h1M35 44h1M31 45h3"/><path stroke="#cdc028" d="M20 4h1M49 4h1M19 7h1M50 17h1M47 18h1M46 19h1M45 22h1M45 23h1M48 28h1M21 32h1M48 34h1M48 35h1M22 37h1M47 37h1M46 38h1M42 39h1M39 41h1M30 45h1M34 45h1"/><path stroke="#d2bf27" d="M26 0h1M44 0h1M45 1h1M48 3h1M52 5h5M51 17h6M19 24h1M46 25h1M47 26h1M48 27h1M49 29h1M49 30h1M49 31h1M49 32h1M48 36h1M22 38h1M47 38h1M43 39h3M41 40h1M23 41h1M38 42h1M24 43h1M37 43h1M25 44h2M28 44h1M36 44h1M32 46h1"/><path stroke="#d6be28" d="M27 -2h1M27 -1h1M47 2h1M50 4h1M18 11h1M18 12h1M18 13h1M18 14h1M18 15h1M46 20h1M20 27h1M49 28h1M21 33h1M49 33h1M21 34h1M49 34h1M48 37h1M22 39h1M46 39h1M42 40h1M40 41h1M27 44h1M29 45h1M35 45h1M30 46h2M33 46h1"/><path stroke="#dabd28" d="M49 3h1M51 4h1M19 6h1M18 10h1M18 16h1M18 17h1M18 18h1M48 18h1M46 21h1M46 24h1M47 25h1M48 26h1M50 29h1M50 30h1M50 31h1M21 35h1M49 35h1M49 36h1M48 38h1M47 39h1M43 40h2M41 41h1M23 42h1M39 42h1M24 44h1M25 45h2M34 46h1M31 47h2"/><path stroke="#debc2a" d="M44 -2h1M44 -1h1M46 1h1M48 2h1M20 3h1M52 4h1M18 9h1M18 19h1M47 19h1M18 20h1M46 22h1M46 23h1M49 27h1M50 28h1M50 32h1M50 33h1M21 36h1M21 37h1M49 37h1M22 40h1M45 40h2M42 41h1M40 42h1M23 43h1M38 43h1M37 44h1M24 45h1M27 45h2M36 45h1M29 46h1M35 46h1M30 47h1M33 47h2M30 48h4M30 49h4"/><path stroke="#e2bc2b" d="M25 0h1M21 1h1M50 3h1M53 4h4M49 18h1M18 21h1M47 24h1M19 25h1M20 28h1M50 34h1M50 35h1M21 38h1M49 38h1M48 39h1M47 40h1M22 41h1M43 41h1M41 42h1M39 43h1M37 45h1M25 46h2M28 46h1M36 46h1M29 47h1M29 48h1M34 48h1M29 49h1M34 49h1"/><path stroke="#e6bb2d" d="M24 0h1M45 0h1M47 1h1M49 2h1M51 3h1M47 20h1M18 22h1M48 25h1M49 26h1M50 27h1M20 29h1M50 36h1M21 39h1M48 40h1M44 41h2M22 42h1M23 44h1M38 44h1M24 46h1M27 46h1M35 47h1M35 48h1M35 49h1"/><path stroke="#eaba31" d="M23 0h1M19 5h1M18 8h1M50 18h7M48 19h1M47 21h1M47 22h1M18 23h1M47 23h1M51 28h1M51 29h1M20 30h1M51 30h1M20 31h1M51 31h1M51 32h1M51 33h1M50 37h1M50 38h1M49 39h1M21 40h1M21 41h1M46 41h2M42 42h1M22 43h1M40 43h2M39 44h1M23 45h1M38 45h1M37 46h1M24 47h5M36 47h1M25 48h4M36 48h1M25 49h4M36 49h1"/><path stroke="#eeba34" d="M26 -2h1M26 -1h1M22 0h1M48 1h1M20 2h1M50 2h1M52 3h1M48 24h1M49 25h1M19 26h1M50 26h1M51 27h1M20 32h1M20 33h1M20 34h1M51 34h1M20 35h1M51 35h1M49 40h1M48 41h1M21 42h1M43 42h1M22 44h1M40 44h1M23 46h1M37 47h1M24 48h1M37 48h1M24 49h1M37 49h1"/><path stroke="#f1ba37" d="M46 0h1M53 3h4M48 20h1M48 23h1M18 24h1M20 36h1M51 36h1M20 37h1M51 37h1M20 38h1M20 39h1M50 39h1M20 40h1M20 41h1M20 42h1M44 42h4M21 43h1M42 43h1M41 44h1M22 45h1M39 45h1M38 46h1M23 47h1M38 47h1M23 48h1M38 48h1M23 49h1M38 49h1"/><path stroke="#f4ba3a" d="M45 -2h1M45 -1h1M49 1h1M51 2h1M18 7h1M49 19h1M48 21h1M48 22h1M49 24h1M50 25h1M51 26h1M52 29h1M52 30h1M52 31h1M52 32h1M51 38h1M50 40h1M49 41h1M19 42h1M48 42h1M19 43h2M43 43h1M19 44h3M42 44h1M20 45h2M40 45h1M21 46h2M39 46h1M22 47h1M39 47h1M22 48h1M39 48h1M22 49h1M39 49h1"/><path stroke="#f8ba3d" d="M47 0h1M50 1h1M52 2h1M19 4h1M50 19h1M53 19h4M51 25h1M19 27h1M52 27h1M52 28h1M52 33h1M52 34h1M52 35h1M51 39h1M19 40h1M19 41h1M50 41h1M49 42h1M18 43h1M44 43h4M18 44h1M18 45h2M41 45h1M19 46h2M40 46h1M20 47h2M20 48h2M20 49h2"/><path stroke="#fabb3d" d="M46 -2h1M46 -1h1M21 0h1M48 0h1M20 1h1M53 2h4M51 19h2M49 20h1M49 21h1M49 22h1M49 23h1M50 24h1M18 25h1M52 26h1M52 36h1M19 37h1M52 37h1M19 38h1M19 39h1M51 40h1M18 41h1M18 42h1M17 43h1M48 43h1M17 44h1M43 44h1M17 45h1M42 45h1M17 46h2M41 46h1M18 47h2M40 47h1M18 48h2M40 48h1M18 49h2M40 49h1"/><path stroke="#fcbd3d" d="M22 -2h2M25 -2h1M47 -2h1M22 -1h2M25 -1h1M47 -1h1M49 0h1M51 1h1M17 13h1M17 14h1M17 15h1M17 16h1M50 20h1M53 20h4M53 23h4M51 24h6M52 25h5M53 26h4M53 27h4M53 28h4M53 29h4M53 30h4M53 31h4M53 32h4M53 33h4M19 34h1M19 35h1M19 36h1M52 38h1M18 40h1M51 41h1M17 42h1M50 42h1M16 43h1M49 43h1M16 44h1M44 44h5M16 45h1M43 45h1M16 46h1M42 46h1M17 47h1M41 47h1M17 48h1M41 48h1M17 49h1M41 49h1"/><path stroke="#febe3c" d="M24 -2h1M48 -2h1M24 -1h1M48 -1h1M19 3h1M18 6h1M17 11h1M17 12h1M17 17h1M17 18h1M17 19h1M17 20h1M51 20h2M17 21h1M50 21h1M52 21h5M17 22h1M50 22h1M53 22h4M50 23h3M19 28h1M19 32h1M19 33h1M53 34h4M53 35h4M53 36h4M18 38h1M18 39h1M52 39h1M52 40h1M17 41h1M16 42h1M51 42h1M15 43h1M50 43h1M10 44h6M49 44h1M10 45h6M44 45h1M47 45h1M10 46h6M43 46h1M15 47h2M42 47h2M15 48h2M42 48h2M15 49h2M42 49h2"/><path stroke="#fec13a" d="M21 -2h1M49 -2h1M21 -1h1M49 -1h1M50 0h1M52 1h1M17 10h1M51 21h1M51 22h2M17 23h1M18 26h1M19 29h1M19 30h1M19 31h1M18 37h1M53 37h4M53 38h4M53 39h4M17 40h1M16 41h1M52 41h1M12 42h4M10 43h5M51 43h1M5 44h5M50 44h1M4 45h6M45 45h2M48 45h1M-2 46h2M2 46h8M44 46h3M-2 47h17M44 47h2M-2 48h17M44 48h2M-2 49h17M44 49h2"/><path stroke="#fec338" d="M20 0h1M17 9h1M17 24h1M18 35h1M18 36h1M17 39h1M16 40h1M53 40h4M14 41h2M53 41h4M10 42h2M52 42h5M-2 43h3M2 43h8M52 43h1M-2 44h7M51 44h1M-2 45h6M49 45h2M0 46h2M47 46h2M46 47h2M46 48h2M46 49h2"/><path stroke="#fec537" d="M50 -2h1M50 -1h1M51 0h1M53 1h4M19 2h1M18 5h1M18 27h1M18 34h1M17 37h1M17 38h1M16 39h1M1 40h2M15 40h1M-2 41h6M11 41h3M-2 42h12M1 43h1M53 43h4M52 44h5M51 45h1M49 46h2M48 47h2M48 48h1M48 49h1"/><path stroke="#fec835" d="M20 -2h1M20 -1h1M17 8h1M17 25h1M18 32h1M18 33h1M17 36h1M2 37h1M1 38h2M16 38h1M0 39h3M15 39h1M-2 40h3M3 40h1M12 40h3M4 41h2M9 41h2M52 45h5M51 46h1M50 47h1M49 48h2M49 49h2"/><path stroke="#feca33" d="M51 -2h1M51 -1h1M52 0h1M18 31h1M17 35h1M1 36h2M1 37h1M16 37h1M0 38h1M3 38h1M15 38h1M-2 39h2M3 39h1M14 39h1M4 40h1M10 40h2M6 41h3M52 46h5M51 47h2M51 48h2M51 49h2"/><path stroke="#fdcc32" d="M19 1h1M18 4h1M17 26h1M18 28h1M18 29h1M18 30h1M17 34h1M1 35h2M16 36h1M0 37h1M3 37h1M-2 38h2M14 38h1M4 39h1M11 39h3M5 40h2M9 40h1M53 47h4M53 48h4M53 49h4"/><path stroke="#fccf30" d="M52 -2h1M52 -1h1M19 0h1M53 0h4M17 7h1M16 19h1M16 20h1M16 21h1M16 22h1M16 23h1M17 33h1M2 34h1M3 35h1M0 36h1M3 36h1M-2 37h2M15 37h1M4 38h1M13 38h1M5 39h1M10 39h1M7 40h2"/><path stroke="#fbd12f" d="M19 -2h1M19 -1h1M16 13h1M16 14h1M16 15h1M16 16h1M16 17h1M16 18h1M16 24h1M17 27h1M17 32h1M1 34h1M3 34h1M0 35h1M16 35h1M-2 36h2M4 36h1M15 36h1M4 37h1M14 37h1M5 38h1M11 38h2M6 39h4"/><path stroke="#fad42e" d="M53 -2h4M53 -1h4M18 3h1M17 6h1M16 11h1M16 12h1M16 25h1M17 30h1M17 31h1M1 33h2M0 34h1M16 34h1M-2 35h2M4 35h1M15 35h1M5 37h1M12 37h2M6 38h1M9 38h2"/><path stroke="#f9d62d" d="M16 10h1M15 21h1M15 22h1M15 23h1M15 24h1M17 28h1M17 29h1M3 33h1M16 33h1M-2 34h2M4 34h1M5 36h1M14 36h1M11 37h1M7 38h2"/><path stroke="#f8d92c" d="M18 2h1M16 9h1M15 14h1M15 15h1M15 16h1M15 17h1M15 19h1M15 20h1M16 26h1M2 32h1M16 32h1M0 33h1M15 34h1M5 35h1M14 35h1M12 36h2M6 37h2M9 37h2"/><path stroke="#f7dc2a" d="M18 -2h1M18 -1h1M18 0h1M18 1h1M17 5h1M15 13h1M15 18h1M14 22h1M14 23h1M14 24h1M15 25h1M16 27h1M16 30h1M16 31h1M1 32h1M3 32h1M-2 33h2M4 33h1M15 33h1M5 34h1M13 35h1M6 36h1M10 36h2M8 37h1"/><path stroke="#f6de29" d="M16 8h1M15 12h1M14 20h1M14 21h1M13 22h1M13 23h1M13 24h1M14 25h1M15 26h1M16 28h1M16 29h1M0 32h1M15 32h1M5 33h1M14 34h1M6 35h1M11 35h2M7 36h3"/><path stroke="#f6e128" d="M17 4h1M15 11h1M14 14h1M14 15h1M14 16h1M14 17h1M14 18h1M14 19h1M13 21h1M12 23h1M12 24h1M15 27h1M1 31h2M15 31h1M-2 32h2M4 32h1M14 33h1M6 34h1M13 34h1M7 35h4"/><path stroke="#f5e327" d="M16 7h1M15 10h1M14 13h1M13 20h1M12 22h1M11 23h1M11 24h1M12 25h2M14 26h1M15 28h1M15 29h1M15 30h1M0 31h1M3 31h1M5 32h1M14 32h1M6 33h1M7 34h1M10 34h3"/><path stroke="#f5e626" d="M17 -2h1M17 -1h1M17 3h1M14 12h1M13 19h1M12 21h1M11 22h1M11 25h1M13 26h1M14 27h1M-2 31h2M4 31h1M14 31h1M6 32h1M7 33h1M12 33h2M8 34h2"/><path stroke="#f5e825" d="M17 0h1M17 1h1M17 2h1M16 6h1M15 9h1M13 14h1M13 15h1M13 16h1M13 17h1M13 18h1M12 20h1M10 23h1M10 24h1M12 26h1M1 30h3M14 30h1M5 31h1M7 32h1M13 32h1M8 33h4"/><path stroke="#f5ea23" d="M15 8h1M14 11h1M13 13h1M12 19h1M11 21h1M10 22h1M10 25h1M11 26h1M12 27h2M14 28h1M14 29h1M-2 30h3M4 30h1M6 31h1M13 31h1M8 32h5"/><path stroke="#f5ed22" d="M16 5h1M15 7h1M14 10h1M13 12h1M12 18h1M11 20h1M10 21h1M9 24h1M10 26h1M11 27h1M13 28h1M13 29h1M5 30h2M12 30h2M7 31h6"/><path stroke="#f6ef20" d="M16 -2h1M16 -1h1M16 0h1M16 4h1M14 9h1M13 11h1M12 15h1M12 16h1M12 17h1M9 22h1M9 23h1M9 25h1M9 26h1M10 27h1M11 28h2M-2 29h8M10 29h3M7 30h5"/><path stroke="#f6f21e" d="M16 1h1M16 2h1M16 3h1M15 6h1M13 10h1M12 13h1M12 14h1M11 19h1M10 20h1M9 21h1M9 27h1M9 28h2M6 29h4"/><path stroke="#f7f41c" d="M15 -2h1M15 -1h1M15 5h1M14 7h1M14 8h1M12 12h1M11 18h1M10 19h1M8 22h1M8 23h1M8 24h1M8 25h1M8 26h1M7 27h2M-2 28h11"/><path stroke="#f8f61a" d="M15 0h1M15 1h1M15 2h1M15 3h1M15 4h1M14 6h1M13 8h1M13 9h1M12 10h1M12 11h1M11 16h1M11 17h1M10 18h1M9 20h1M8 21h1M7 23h1M7 24h1M7 25h1M6 26h2M-2 27h9"/><path stroke="#f8f917" d="M14 -2h1M14 -1h1M14 0h1M14 1h1M14 4h1M14 5h1M13 7h1M12 8h1M12 9h1M11 12h1M11 13h1M11 14h1M11 15h1M10 17h1M9 18h1M9 19h1M8 20h1M7 21h1M7 22h1M6 23h1M6 24h1M-2 25h9M-2 26h8"/><path stroke="#f9fb15" d="M-2 -2h16M-2 -1h16M-2 0h16M-2 1h16M-2 2h17M-2 3h17M-2 4h16M-2 5h16M-2 6h16M-2 7h15M-2 8h14M-2 9h14M-2 10h14M-2 11h14M-2 12h13M-2 13h13M-2 14h13M-2 15h13M-2 16h13M-2 17h12M-2 18h11M-2 19h11M-2 20h10M-2 21h9M-2 22h9M-2 23h8M-2 24h8"/></g>
<use href="#coast"/>
</g>
<text class="l" x="24" y="35">F)</text>
<text class="t" x="-7" y="10.2" text-anchor="end">48</text>
<text class="t" x="-7" y="105.6" text-anchor="end">44</text>
<text class="t" x="-7" y="201.0" text-anchor="end">40</text>
<text class="t" x="-7" y="296.4" text-anchor="end">36</text>
<text class="t" x="-7" y="391.8" text-anchor="end">32</text>
<text class="t" x="-7" y="487.2" text-anchor="end">28</text>
<text class="a" transform="translate(-44.3,242.9) rotate(-90)" text-anchor="middle">Lat</text>
<text class="t" x="54.6" y="508" text-anchor="middle">-5</text>
<text class="t" x="168.8" y="508" text-anchor="middle">5</text>
<text class="t" x="281.0" y="508" text-anchor="middle">15</text>
<text class="t" x="393.2" y="508" text-anchor="middle">25</text>
<text class="t" x="505.4" y="508" text-anchor="middle">35</text>
<text class="a" x="267.7" y="540.4" text-anchor="middle">Long</text>
</g>
<g transform="translate(1918,565)">
<rect x="0.5" y="0.5" width="37" height="476" fill="url(#cb)" stroke="#262626" stroke-width="1"/>
<text class="c" x="46" y="8.2">103</text>
<path d="M32,48.1H37.5" stroke="#262626" stroke-width="1"/>
<text class="c" x="46" y="55.8">102.5</text>
<path d="M32,95.7H37.5" stroke="#262626" stroke-width="1"/>
<text class="c" x="46" y="103.4">102</text>
<path d="M32,143.3H37.5" stroke="#262626" stroke-width="1"/>
<text class="c" x="46" y="151.0">101.5</text>
<path d="M32,190.9H37.5" stroke="#262626" stroke-width="1"/>
<text class="c" x="46" y="198.6">101</text>
<path d="M32,238.5H37.5" stroke="#262626" stroke-width="1"/>
<text class="c" x="46" y="246.2">100.5</text>
<path d="M32,286.1H37.5" stroke="#262626" stroke-width="1"/>
<text class="c" x="46" y="293.8">100</text>
<path d="M32,333.7H37.5" stroke="#262626" stroke-width="1"/>
<text class="c" x="46" y="341.4">99.5</text>
<path d="M32,381.3H37.5" stroke="#262626" stroke-width="1"/>
<text class="c" x="46" y="389.0">99</text>
<path d="M32,428.9H37.5" stroke="#262626" stroke-width="1"/>
<text class="c" x="46" y="436.6">98.5</text>
<text class="c" x="46" y="484.2">98</text>
<text class="ca" transform="translate(125,240) rotate(-90)" text-anchor="middle">p [kPa]</text>
</g>
</svg></body></html>
